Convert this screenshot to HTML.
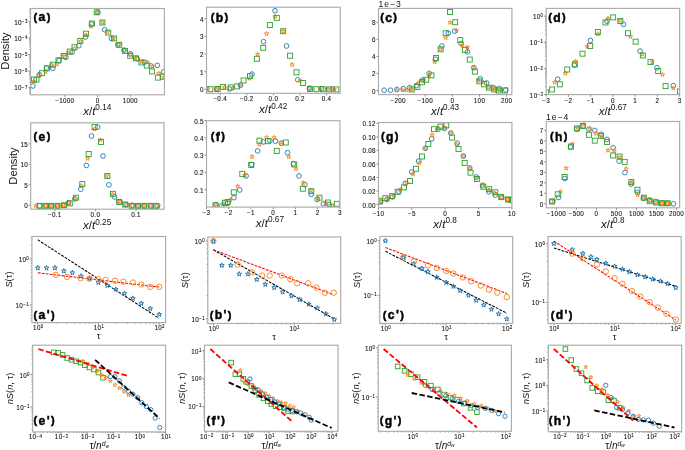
<!DOCTYPE html><html><head><meta charset="utf-8"><style>html,body{margin:0;padding:0;background:#fff;}svg{display:block;}</style></head><body><svg style="will-change:opacity;opacity:0.999" width="685" height="450" viewBox="0 0 685 450" font-family='"Liberation Sans", sans-serif'>
<line x1="28.50" y1="21.70" x2="30.50" y2="21.70" stroke="#333" stroke-width="0.60"/>
<text x="27.90" y="24.70" font-size="6.30" text-anchor="end" font-weight="normal" font-style="normal" fill="#111"  letter-spacing="0.3" stroke="#222" stroke-width="0.1">10<tspan dy="-1.9" font-size="4.41" letter-spacing="0.55">−3</tspan></text>
<line x1="28.50" y1="38.10" x2="30.50" y2="38.10" stroke="#333" stroke-width="0.60"/>
<text x="27.90" y="41.10" font-size="6.30" text-anchor="end" font-weight="normal" font-style="normal" fill="#111"  letter-spacing="0.3" stroke="#222" stroke-width="0.1">10<tspan dy="-1.9" font-size="4.41" letter-spacing="0.55">−4</tspan></text>
<line x1="28.50" y1="54.50" x2="30.50" y2="54.50" stroke="#333" stroke-width="0.60"/>
<text x="27.90" y="57.50" font-size="6.30" text-anchor="end" font-weight="normal" font-style="normal" fill="#111"  letter-spacing="0.3" stroke="#222" stroke-width="0.1">10<tspan dy="-1.9" font-size="4.41" letter-spacing="0.55">−5</tspan></text>
<line x1="28.50" y1="71.00" x2="30.50" y2="71.00" stroke="#333" stroke-width="0.60"/>
<text x="27.90" y="74.00" font-size="6.30" text-anchor="end" font-weight="normal" font-style="normal" fill="#111"  letter-spacing="0.3" stroke="#222" stroke-width="0.1">10<tspan dy="-1.9" font-size="4.41" letter-spacing="0.55">−6</tspan></text>
<line x1="28.50" y1="87.40" x2="30.50" y2="87.40" stroke="#333" stroke-width="0.60"/>
<text x="27.90" y="90.40" font-size="6.30" text-anchor="end" font-weight="normal" font-style="normal" fill="#111"  letter-spacing="0.3" stroke="#222" stroke-width="0.1">10<tspan dy="-1.9" font-size="4.41" letter-spacing="0.55">−7</tspan></text>
<line x1="29.30" y1="93.96" x2="30.50" y2="93.96" stroke="#333" stroke-width="0.50"/>
<line x1="29.30" y1="92.37" x2="30.50" y2="92.37" stroke="#333" stroke-width="0.50"/>
<line x1="29.30" y1="91.06" x2="30.50" y2="91.06" stroke="#333" stroke-width="0.50"/>
<line x1="29.30" y1="89.97" x2="30.50" y2="89.97" stroke="#333" stroke-width="0.50"/>
<line x1="29.30" y1="89.01" x2="30.50" y2="89.01" stroke="#333" stroke-width="0.50"/>
<line x1="29.30" y1="88.17" x2="30.50" y2="88.17" stroke="#333" stroke-width="0.50"/>
<line x1="29.30" y1="82.47" x2="30.50" y2="82.47" stroke="#333" stroke-width="0.50"/>
<line x1="29.30" y1="79.58" x2="30.50" y2="79.58" stroke="#333" stroke-width="0.50"/>
<line x1="29.30" y1="77.53" x2="30.50" y2="77.53" stroke="#333" stroke-width="0.50"/>
<line x1="29.30" y1="75.94" x2="30.50" y2="75.94" stroke="#333" stroke-width="0.50"/>
<line x1="29.30" y1="74.63" x2="30.50" y2="74.63" stroke="#333" stroke-width="0.50"/>
<line x1="29.30" y1="73.54" x2="30.50" y2="73.54" stroke="#333" stroke-width="0.50"/>
<line x1="29.30" y1="72.58" x2="30.50" y2="72.58" stroke="#333" stroke-width="0.50"/>
<line x1="29.30" y1="71.74" x2="30.50" y2="71.74" stroke="#333" stroke-width="0.50"/>
<line x1="29.30" y1="66.04" x2="30.50" y2="66.04" stroke="#333" stroke-width="0.50"/>
<line x1="29.30" y1="63.15" x2="30.50" y2="63.15" stroke="#333" stroke-width="0.50"/>
<line x1="29.30" y1="61.10" x2="30.50" y2="61.10" stroke="#333" stroke-width="0.50"/>
<line x1="29.30" y1="59.51" x2="30.50" y2="59.51" stroke="#333" stroke-width="0.50"/>
<line x1="29.30" y1="58.20" x2="30.50" y2="58.20" stroke="#333" stroke-width="0.50"/>
<line x1="29.30" y1="57.11" x2="30.50" y2="57.11" stroke="#333" stroke-width="0.50"/>
<line x1="29.30" y1="56.15" x2="30.50" y2="56.15" stroke="#333" stroke-width="0.50"/>
<line x1="29.30" y1="55.31" x2="30.50" y2="55.31" stroke="#333" stroke-width="0.50"/>
<line x1="29.30" y1="49.61" x2="30.50" y2="49.61" stroke="#333" stroke-width="0.50"/>
<line x1="29.30" y1="46.72" x2="30.50" y2="46.72" stroke="#333" stroke-width="0.50"/>
<line x1="29.30" y1="44.67" x2="30.50" y2="44.67" stroke="#333" stroke-width="0.50"/>
<line x1="29.30" y1="43.08" x2="30.50" y2="43.08" stroke="#333" stroke-width="0.50"/>
<line x1="29.30" y1="41.77" x2="30.50" y2="41.77" stroke="#333" stroke-width="0.50"/>
<line x1="29.30" y1="40.68" x2="30.50" y2="40.68" stroke="#333" stroke-width="0.50"/>
<line x1="29.30" y1="39.72" x2="30.50" y2="39.72" stroke="#333" stroke-width="0.50"/>
<line x1="29.30" y1="38.88" x2="30.50" y2="38.88" stroke="#333" stroke-width="0.50"/>
<line x1="29.30" y1="33.18" x2="30.50" y2="33.18" stroke="#333" stroke-width="0.50"/>
<line x1="29.30" y1="30.29" x2="30.50" y2="30.29" stroke="#333" stroke-width="0.50"/>
<line x1="29.30" y1="28.24" x2="30.50" y2="28.24" stroke="#333" stroke-width="0.50"/>
<line x1="29.30" y1="26.65" x2="30.50" y2="26.65" stroke="#333" stroke-width="0.50"/>
<line x1="29.30" y1="25.34" x2="30.50" y2="25.34" stroke="#333" stroke-width="0.50"/>
<line x1="29.30" y1="24.25" x2="30.50" y2="24.25" stroke="#333" stroke-width="0.50"/>
<line x1="29.30" y1="23.29" x2="30.50" y2="23.29" stroke="#333" stroke-width="0.50"/>
<line x1="29.30" y1="22.45" x2="30.50" y2="22.45" stroke="#333" stroke-width="0.50"/>
<line x1="29.30" y1="16.75" x2="30.50" y2="16.75" stroke="#333" stroke-width="0.50"/>
<line x1="29.30" y1="13.86" x2="30.50" y2="13.86" stroke="#333" stroke-width="0.50"/>
<line x1="29.30" y1="11.81" x2="30.50" y2="11.81" stroke="#333" stroke-width="0.50"/>
<line x1="29.30" y1="10.22" x2="30.50" y2="10.22" stroke="#333" stroke-width="0.50"/>
<line x1="29.30" y1="8.91" x2="30.50" y2="8.91" stroke="#333" stroke-width="0.50"/>
<line x1="64.80" y1="94.80" x2="64.80" y2="96.80" stroke="#333" stroke-width="0.60"/>
<text x="64.80" y="102.80" font-size="6.30" text-anchor="middle" font-weight="normal" font-style="normal" fill="#111"  letter-spacing="0.3" stroke="#222" stroke-width="0.1">−1000</text>
<line x1="97.60" y1="94.80" x2="97.60" y2="96.80" stroke="#333" stroke-width="0.60"/>
<text x="97.60" y="102.80" font-size="6.30" text-anchor="middle" font-weight="normal" font-style="normal" fill="#111"  letter-spacing="0.3" stroke="#222" stroke-width="0.1">0</text>
<line x1="130.30" y1="94.80" x2="130.30" y2="96.80" stroke="#333" stroke-width="0.60"/>
<text x="130.30" y="102.80" font-size="6.30" text-anchor="middle" font-weight="normal" font-style="normal" fill="#111"  letter-spacing="0.3" stroke="#222" stroke-width="0.1">1000</text>
<clipPath id="c1"><rect x="30.50" y="8.50" width="133.90" height="86.30"/></clipPath><g clip-path="url(#c1)">
<circle cx="32.90" cy="86.00" r="2.35" fill="none" stroke="#1f77b4" stroke-width="0.90"/>
<circle cx="39.30" cy="74.70" r="2.35" fill="none" stroke="#1f77b4" stroke-width="0.90"/>
<circle cx="46.40" cy="68.00" r="2.35" fill="none" stroke="#1f77b4" stroke-width="0.90"/>
<circle cx="52.80" cy="68.30" r="2.35" fill="none" stroke="#1f77b4" stroke-width="0.90"/>
<circle cx="59.00" cy="60.60" r="2.35" fill="none" stroke="#1f77b4" stroke-width="0.90"/>
<circle cx="65.80" cy="57.30" r="2.35" fill="none" stroke="#1f77b4" stroke-width="0.90"/>
<circle cx="72.20" cy="52.10" r="2.35" fill="none" stroke="#1f77b4" stroke-width="0.90"/>
<circle cx="78.90" cy="45.70" r="2.35" fill="none" stroke="#1f77b4" stroke-width="0.90"/>
<circle cx="85.50" cy="37.00" r="2.35" fill="none" stroke="#1f77b4" stroke-width="0.90"/>
<circle cx="91.50" cy="24.10" r="2.35" fill="none" stroke="#1f77b4" stroke-width="0.90"/>
<circle cx="97.90" cy="12.30" r="2.35" fill="none" stroke="#1f77b4" stroke-width="0.90"/>
<circle cx="104.70" cy="29.70" r="2.35" fill="none" stroke="#1f77b4" stroke-width="0.90"/>
<circle cx="111.40" cy="38.40" r="2.35" fill="none" stroke="#1f77b4" stroke-width="0.90"/>
<circle cx="117.80" cy="44.80" r="2.35" fill="none" stroke="#1f77b4" stroke-width="0.90"/>
<circle cx="124.00" cy="50.20" r="2.35" fill="none" stroke="#1f77b4" stroke-width="0.90"/>
<circle cx="130.40" cy="53.80" r="2.35" fill="none" stroke="#1f77b4" stroke-width="0.90"/>
<circle cx="137.20" cy="58.70" r="2.35" fill="none" stroke="#1f77b4" stroke-width="0.90"/>
<circle cx="144.30" cy="62.20" r="2.35" fill="none" stroke="#1f77b4" stroke-width="0.90"/>
<circle cx="151.10" cy="66.00" r="2.35" fill="none" stroke="#1f77b4" stroke-width="0.90"/>
<circle cx="157.30" cy="65.40" r="2.35" fill="none" stroke="#1f77b4" stroke-width="0.90"/>
<circle cx="163.70" cy="71.80" r="2.35" fill="none" stroke="#1f77b4" stroke-width="0.90"/>
<path d="M33.50 79.25 L34.01 80.80 L35.64 80.80 L34.32 81.77 L34.82 83.32 L33.50 82.36 L32.18 83.32 L32.68 81.77 L31.36 80.80 L32.99 80.80Z" fill="none" stroke="#ff7f0e" stroke-width="0.90" stroke-linejoin="miter"/>
<path d="M38.70 73.45 L39.21 75.00 L40.84 75.00 L39.52 75.97 L40.02 77.52 L38.70 76.56 L37.38 77.52 L37.88 75.97 L36.56 75.00 L38.19 75.00Z" fill="none" stroke="#ff7f0e" stroke-width="0.90" stroke-linejoin="miter"/>
<path d="M45.50 69.55 L46.01 71.10 L47.64 71.10 L46.32 72.07 L46.82 73.62 L45.50 72.66 L44.18 73.62 L44.68 72.07 L43.36 71.10 L44.99 71.10Z" fill="none" stroke="#ff7f0e" stroke-width="0.90" stroke-linejoin="miter"/>
<path d="M51.70 62.85 L52.21 64.40 L53.84 64.40 L52.52 65.37 L53.02 66.92 L51.70 65.96 L50.38 66.92 L50.88 65.37 L49.56 64.40 L51.19 64.40Z" fill="none" stroke="#ff7f0e" stroke-width="0.90" stroke-linejoin="miter"/>
<path d="M57.10 61.85 L57.61 63.40 L59.24 63.40 L57.92 64.37 L58.42 65.92 L57.10 64.96 L55.78 65.92 L56.28 64.37 L54.96 63.40 L56.59 63.40Z" fill="none" stroke="#ff7f0e" stroke-width="0.90" stroke-linejoin="miter"/>
<path d="M62.90 54.15 L63.41 55.70 L65.04 55.70 L63.72 56.67 L64.22 58.22 L62.90 57.26 L61.58 58.22 L62.08 56.67 L60.76 55.70 L62.39 55.70Z" fill="none" stroke="#ff7f0e" stroke-width="0.90" stroke-linejoin="miter"/>
<path d="M68.70 50.65 L69.21 52.20 L70.84 52.20 L69.52 53.17 L70.02 54.72 L68.70 53.76 L67.38 54.72 L67.88 53.17 L66.56 52.20 L68.19 52.20Z" fill="none" stroke="#ff7f0e" stroke-width="0.90" stroke-linejoin="miter"/>
<path d="M74.50 46.35 L75.01 47.90 L76.64 47.90 L75.32 48.87 L75.82 50.42 L74.50 49.46 L73.18 50.42 L73.68 48.87 L72.36 47.90 L73.99 47.90Z" fill="none" stroke="#ff7f0e" stroke-width="0.90" stroke-linejoin="miter"/>
<path d="M80.70 39.05 L81.21 40.60 L82.84 40.60 L81.52 41.57 L82.02 43.12 L80.70 42.16 L79.38 43.12 L79.88 41.57 L78.56 40.60 L80.19 40.60Z" fill="none" stroke="#ff7f0e" stroke-width="0.90" stroke-linejoin="miter"/>
<path d="M86.10 32.85 L86.61 34.40 L88.24 34.40 L86.92 35.37 L87.42 36.92 L86.10 35.96 L84.78 36.92 L85.28 35.37 L83.96 34.40 L85.59 34.40Z" fill="none" stroke="#ff7f0e" stroke-width="0.90" stroke-linejoin="miter"/>
<path d="M90.90 24.15 L91.41 25.70 L93.04 25.70 L91.72 26.67 L92.22 28.22 L90.90 27.26 L89.58 28.22 L90.08 26.67 L88.76 25.70 L90.39 25.70Z" fill="none" stroke="#ff7f0e" stroke-width="0.90" stroke-linejoin="miter"/>
<path d="M96.90 10.05 L97.41 11.60 L99.04 11.60 L97.72 12.57 L98.22 14.12 L96.90 13.16 L95.58 14.12 L96.08 12.57 L94.76 11.60 L96.39 11.60Z" fill="none" stroke="#ff7f0e" stroke-width="0.90" stroke-linejoin="miter"/>
<path d="M102.40 20.25 L102.91 21.80 L104.54 21.80 L103.22 22.77 L103.72 24.32 L102.40 23.36 L101.08 24.32 L101.58 22.77 L100.26 21.80 L101.89 21.80Z" fill="none" stroke="#ff7f0e" stroke-width="0.90" stroke-linejoin="miter"/>
<path d="M107.60 29.95 L108.11 31.50 L109.74 31.50 L108.42 32.47 L108.92 34.02 L107.60 33.06 L106.28 34.02 L106.78 32.47 L105.46 31.50 L107.09 31.50Z" fill="none" stroke="#ff7f0e" stroke-width="0.90" stroke-linejoin="miter"/>
<path d="M113.40 36.15 L113.91 37.70 L115.54 37.70 L114.22 38.67 L114.72 40.22 L113.40 39.26 L112.08 40.22 L112.58 38.67 L111.26 37.70 L112.89 37.70Z" fill="none" stroke="#ff7f0e" stroke-width="0.90" stroke-linejoin="miter"/>
<path d="M118.80 42.15 L119.31 43.70 L120.94 43.70 L119.62 44.67 L120.12 46.22 L118.80 45.26 L117.48 46.22 L117.98 44.67 L116.66 43.70 L118.29 43.70Z" fill="none" stroke="#ff7f0e" stroke-width="0.90" stroke-linejoin="miter"/>
<path d="M124.60 47.95 L125.11 49.50 L126.74 49.50 L125.42 50.47 L125.92 52.02 L124.60 51.06 L123.28 52.02 L123.78 50.47 L122.46 49.50 L124.09 49.50Z" fill="none" stroke="#ff7f0e" stroke-width="0.90" stroke-linejoin="miter"/>
<path d="M130.40 52.55 L130.91 54.10 L132.54 54.10 L131.22 55.07 L131.72 56.62 L130.40 55.66 L129.08 56.62 L129.58 55.07 L128.26 54.10 L129.89 54.10Z" fill="none" stroke="#ff7f0e" stroke-width="0.90" stroke-linejoin="miter"/>
<path d="M135.60 55.65 L136.11 57.20 L137.74 57.20 L136.42 58.17 L136.92 59.72 L135.60 58.76 L134.28 59.72 L134.78 58.17 L133.46 57.20 L135.09 57.20Z" fill="none" stroke="#ff7f0e" stroke-width="0.90" stroke-linejoin="miter"/>
<path d="M141.40 59.55 L141.91 61.10 L143.54 61.10 L142.22 62.07 L142.72 63.62 L141.40 62.66 L140.08 63.62 L140.58 62.07 L139.26 61.10 L140.89 61.10Z" fill="none" stroke="#ff7f0e" stroke-width="0.90" stroke-linejoin="miter"/>
<path d="M147.20 59.95 L147.71 61.50 L149.34 61.50 L148.02 62.47 L148.52 64.02 L147.20 63.06 L145.88 64.02 L146.38 62.47 L145.06 61.50 L146.69 61.50Z" fill="none" stroke="#ff7f0e" stroke-width="0.90" stroke-linejoin="miter"/>
<path d="M152.60 64.15 L153.11 65.70 L154.74 65.70 L153.42 66.67 L153.92 68.22 L152.60 67.26 L151.28 68.22 L151.78 66.67 L150.46 65.70 L152.09 65.70Z" fill="none" stroke="#ff7f0e" stroke-width="0.90" stroke-linejoin="miter"/>
<path d="M158.80 71.15 L159.31 72.70 L160.94 72.70 L159.62 73.67 L160.12 75.22 L158.80 74.26 L157.48 75.22 L157.98 73.67 L156.66 72.70 L158.29 72.70Z" fill="none" stroke="#ff7f0e" stroke-width="0.90" stroke-linejoin="miter"/>
<path d="M163.70 75.35 L164.21 76.90 L165.84 76.90 L164.52 77.87 L165.02 79.42 L163.70 78.46 L162.38 79.42 L162.88 77.87 L161.56 76.90 L163.19 76.90Z" fill="none" stroke="#ff7f0e" stroke-width="0.90" stroke-linejoin="miter"/>
<rect x="31.40" y="77.10" width="5.00" height="5.00" fill="none" stroke="#2ca02c" stroke-width="0.90"/>
<rect x="34.00" y="77.10" width="5.00" height="5.00" fill="none" stroke="#2ca02c" stroke-width="0.90"/>
<rect x="39.50" y="70.70" width="5.00" height="5.00" fill="none" stroke="#2ca02c" stroke-width="0.90"/>
<rect x="44.50" y="65.80" width="5.00" height="5.00" fill="none" stroke="#2ca02c" stroke-width="0.90"/>
<rect x="50.30" y="62.20" width="5.00" height="5.00" fill="none" stroke="#2ca02c" stroke-width="0.90"/>
<rect x="56.00" y="57.80" width="5.00" height="5.00" fill="none" stroke="#2ca02c" stroke-width="0.90"/>
<rect x="61.30" y="53.50" width="5.00" height="5.00" fill="none" stroke="#2ca02c" stroke-width="0.90"/>
<rect x="67.20" y="49.00" width="5.00" height="5.00" fill="none" stroke="#2ca02c" stroke-width="0.90"/>
<rect x="72.00" y="44.80" width="5.00" height="5.00" fill="none" stroke="#2ca02c" stroke-width="0.90"/>
<rect x="77.80" y="38.40" width="5.00" height="5.00" fill="none" stroke="#2ca02c" stroke-width="0.90"/>
<rect x="83.60" y="31.20" width="5.00" height="5.00" fill="none" stroke="#2ca02c" stroke-width="0.90"/>
<rect x="89.40" y="21.00" width="5.00" height="5.00" fill="none" stroke="#2ca02c" stroke-width="0.90"/>
<rect x="94.20" y="9.80" width="5.00" height="5.00" fill="none" stroke="#2ca02c" stroke-width="0.90"/>
<rect x="99.90" y="20.00" width="5.00" height="5.00" fill="none" stroke="#2ca02c" stroke-width="0.90"/>
<rect x="105.70" y="30.10" width="5.00" height="5.00" fill="none" stroke="#2ca02c" stroke-width="0.90"/>
<rect x="111.50" y="35.90" width="5.00" height="5.00" fill="none" stroke="#2ca02c" stroke-width="0.90"/>
<rect x="116.70" y="42.30" width="5.00" height="5.00" fill="none" stroke="#2ca02c" stroke-width="0.90"/>
<rect x="122.50" y="48.40" width="5.00" height="5.00" fill="none" stroke="#2ca02c" stroke-width="0.90"/>
<rect x="127.70" y="53.30" width="5.00" height="5.00" fill="none" stroke="#2ca02c" stroke-width="0.90"/>
<rect x="133.50" y="55.80" width="5.00" height="5.00" fill="none" stroke="#2ca02c" stroke-width="0.90"/>
<rect x="138.90" y="60.00" width="5.00" height="5.00" fill="none" stroke="#2ca02c" stroke-width="0.90"/>
<rect x="144.30" y="63.10" width="5.00" height="5.00" fill="none" stroke="#2ca02c" stroke-width="0.90"/>
<rect x="149.60" y="68.90" width="5.00" height="5.00" fill="none" stroke="#2ca02c" stroke-width="0.90"/>
<rect x="155.40" y="75.10" width="5.00" height="5.00" fill="none" stroke="#2ca02c" stroke-width="0.90"/>
<rect x="160.20" y="74.20" width="5.00" height="5.00" fill="none" stroke="#2ca02c" stroke-width="0.90"/>
</g>
<rect x="30.50" y="8.50" width="133.90" height="86.30" fill="none" stroke="#ababab" stroke-width="1.15"/>
<text x="33.60" y="21.30" font-size="12.2" font-weight="bold" fill="#000" stroke="#000" stroke-width="0.45" letter-spacing="1.35"><tspan font-size="11.0" dy="-0.75">(</tspan><tspan dy="0.75">a</tspan><tspan font-size="11.0" dy="-0.75">)</tspan></text>
<text x="97.25" y="114.70" font-size="11.5" text-anchor="middle" fill="#111"><tspan font-style="italic">x</tspan>/<tspan font-style="italic">t</tspan><tspan dy="-4.6" font-size="8.2">0.14</tspan></text>
<text transform="translate(9.2,51) rotate(-90)" font-size="11.2" text-anchor="middle" fill="#111">Density</text>
<line x1="204.50" y1="18.70" x2="206.50" y2="18.70" stroke="#333" stroke-width="0.60"/>
<text x="203.90" y="21.70" font-size="6.30" text-anchor="end" font-weight="normal" font-style="normal" fill="#111"  letter-spacing="0.3" stroke="#222" stroke-width="0.1">4</text>
<line x1="204.50" y1="36.30" x2="206.50" y2="36.30" stroke="#333" stroke-width="0.60"/>
<text x="203.90" y="39.30" font-size="6.30" text-anchor="end" font-weight="normal" font-style="normal" fill="#111"  letter-spacing="0.3" stroke="#222" stroke-width="0.1">3</text>
<line x1="204.50" y1="54.00" x2="206.50" y2="54.00" stroke="#333" stroke-width="0.60"/>
<text x="203.90" y="57.00" font-size="6.30" text-anchor="end" font-weight="normal" font-style="normal" fill="#111"  letter-spacing="0.3" stroke="#222" stroke-width="0.1">2</text>
<line x1="204.50" y1="71.70" x2="206.50" y2="71.70" stroke="#333" stroke-width="0.60"/>
<text x="203.90" y="74.70" font-size="6.30" text-anchor="end" font-weight="normal" font-style="normal" fill="#111"  letter-spacing="0.3" stroke="#222" stroke-width="0.1">1</text>
<line x1="204.50" y1="89.40" x2="206.50" y2="89.40" stroke="#333" stroke-width="0.60"/>
<text x="203.90" y="92.40" font-size="6.30" text-anchor="end" font-weight="normal" font-style="normal" fill="#111"  letter-spacing="0.3" stroke="#222" stroke-width="0.1">0</text>
<line x1="220.20" y1="93.30" x2="220.20" y2="95.30" stroke="#333" stroke-width="0.60"/>
<text x="220.20" y="101.30" font-size="6.30" text-anchor="middle" font-weight="normal" font-style="normal" fill="#111"  letter-spacing="0.3" stroke="#222" stroke-width="0.1">−0.4</text>
<line x1="246.80" y1="93.30" x2="246.80" y2="95.30" stroke="#333" stroke-width="0.60"/>
<text x="246.80" y="101.30" font-size="6.30" text-anchor="middle" font-weight="normal" font-style="normal" fill="#111"  letter-spacing="0.3" stroke="#222" stroke-width="0.1">−0.2</text>
<line x1="273.40" y1="93.30" x2="273.40" y2="95.30" stroke="#333" stroke-width="0.60"/>
<text x="273.40" y="101.30" font-size="6.30" text-anchor="middle" font-weight="normal" font-style="normal" fill="#111"  letter-spacing="0.3" stroke="#222" stroke-width="0.1">0.0</text>
<line x1="300.00" y1="93.30" x2="300.00" y2="95.30" stroke="#333" stroke-width="0.60"/>
<text x="300.00" y="101.30" font-size="6.30" text-anchor="middle" font-weight="normal" font-style="normal" fill="#111"  letter-spacing="0.3" stroke="#222" stroke-width="0.1">0.2</text>
<line x1="326.60" y1="93.30" x2="326.60" y2="95.30" stroke="#333" stroke-width="0.60"/>
<text x="326.60" y="101.30" font-size="6.30" text-anchor="middle" font-weight="normal" font-style="normal" fill="#111"  letter-spacing="0.3" stroke="#222" stroke-width="0.1">0.4</text>
<clipPath id="c2"><rect x="206.50" y="7.20" width="133.70" height="86.10"/></clipPath><g clip-path="url(#c2)">
<circle cx="275.00" cy="10.73" r="2.35" fill="none" stroke="#1f77b4" stroke-width="0.90"/>
<circle cx="263.49" cy="41.66" r="2.35" fill="none" stroke="#1f77b4" stroke-width="0.90"/>
<circle cx="286.50" cy="46.00" r="2.35" fill="none" stroke="#1f77b4" stroke-width="0.90"/>
<circle cx="251.99" cy="74.12" r="2.35" fill="none" stroke="#1f77b4" stroke-width="0.90"/>
<circle cx="297.74" cy="79.74" r="2.35" fill="none" stroke="#1f77b4" stroke-width="0.90"/>
<circle cx="240.49" cy="85.11" r="2.35" fill="none" stroke="#1f77b4" stroke-width="0.90"/>
<circle cx="229.50" cy="88.94" r="2.35" fill="none" stroke="#1f77b4" stroke-width="0.90"/>
<circle cx="216.73" cy="88.94" r="2.35" fill="none" stroke="#1f77b4" stroke-width="0.90"/>
<circle cx="309.50" cy="88.17" r="2.35" fill="none" stroke="#1f77b4" stroke-width="0.90"/>
<circle cx="321.51" cy="88.68" r="2.35" fill="none" stroke="#1f77b4" stroke-width="0.90"/>
<circle cx="332.50" cy="88.94" r="2.35" fill="none" stroke="#1f77b4" stroke-width="0.90"/>
<path d="M275.00 14.36 L275.50 15.92 L277.14 15.92 L275.81 16.88 L276.32 18.43 L275.00 17.47 L273.67 18.43 L274.18 16.88 L272.86 15.92 L274.49 15.92Z" fill="none" stroke="#ff7f0e" stroke-width="0.90" stroke-linejoin="miter"/>
<path d="M283.17 28.93 L283.68 30.48 L285.31 30.48 L283.99 31.45 L284.50 33.00 L283.17 32.04 L281.85 33.00 L282.36 31.45 L281.03 30.48 L282.67 30.48Z" fill="none" stroke="#ff7f0e" stroke-width="0.90" stroke-linejoin="miter"/>
<path d="M266.56 31.49 L267.07 33.04 L268.70 33.04 L267.38 34.00 L267.88 35.56 L266.56 34.60 L265.24 35.56 L265.74 34.00 L264.42 33.04 L266.06 33.04Z" fill="none" stroke="#ff7f0e" stroke-width="0.90" stroke-linejoin="miter"/>
<path d="M257.62 51.93 L258.12 53.49 L259.76 53.49 L258.43 54.45 L258.94 56.00 L257.62 55.04 L256.29 56.00 L256.80 54.45 L255.48 53.49 L257.11 53.49Z" fill="none" stroke="#ff7f0e" stroke-width="0.90" stroke-linejoin="miter"/>
<path d="M249.44 76.21 L249.94 77.77 L251.58 77.77 L250.26 78.73 L250.76 80.28 L249.44 79.32 L248.12 80.28 L248.62 78.73 L247.30 77.77 L248.93 77.77Z" fill="none" stroke="#ff7f0e" stroke-width="0.90" stroke-linejoin="miter"/>
<path d="M240.49 83.88 L241.00 85.43 L242.63 85.43 L241.31 86.39 L241.82 87.95 L240.49 86.99 L239.17 87.95 L239.68 86.39 L238.35 85.43 L239.99 85.43Z" fill="none" stroke="#ff7f0e" stroke-width="0.90" stroke-linejoin="miter"/>
<path d="M292.12 62.41 L292.62 63.96 L294.26 63.96 L292.94 64.93 L293.44 66.48 L292.12 65.52 L290.80 66.48 L291.30 64.93 L289.98 63.96 L291.61 63.96Z" fill="none" stroke="#ff7f0e" stroke-width="0.90" stroke-linejoin="miter"/>
<path d="M299.79 78.26 L300.29 79.81 L301.93 79.81 L300.60 80.77 L301.11 82.33 L299.79 81.36 L298.46 82.33 L298.97 80.77 L297.65 79.81 L299.28 79.81Z" fill="none" stroke="#ff7f0e" stroke-width="0.90" stroke-linejoin="miter"/>
<path d="M310.01 85.92 L310.51 87.48 L312.15 87.48 L310.83 88.44 L311.33 89.99 L310.01 89.03 L308.69 89.99 L309.19 88.44 L307.87 87.48 L309.50 87.48Z" fill="none" stroke="#ff7f0e" stroke-width="0.90" stroke-linejoin="miter"/>
<path d="M320.23 86.69 L320.74 88.24 L322.37 88.24 L321.05 89.20 L321.55 90.76 L320.23 89.80 L318.91 90.76 L319.41 89.20 L318.09 88.24 L319.73 88.24Z" fill="none" stroke="#ff7f0e" stroke-width="0.90" stroke-linejoin="miter"/>
<path d="M334.29 87.20 L334.79 88.75 L336.43 88.75 L335.11 89.72 L335.61 91.27 L334.29 90.31 L332.97 91.27 L333.47 89.72 L332.15 88.75 L333.78 88.75Z" fill="none" stroke="#ff7f0e" stroke-width="0.90" stroke-linejoin="miter"/>
<path d="M207.78 86.43 L208.29 87.99 L209.92 87.99 L208.60 88.95 L209.10 90.50 L207.78 89.54 L206.46 90.50 L206.96 88.95 L205.64 87.99 L207.27 87.99Z" fill="none" stroke="#ff7f0e" stroke-width="0.90" stroke-linejoin="miter"/>
<path d="M224.39 85.16 L224.90 86.71 L226.53 86.71 L225.21 87.67 L225.71 89.23 L224.39 88.27 L223.07 89.23 L223.57 87.67 L222.25 86.71 L223.89 86.71Z" fill="none" stroke="#ff7f0e" stroke-width="0.90" stroke-linejoin="miter"/>
<path d="M232.57 85.92 L233.08 87.48 L234.71 87.48 L233.39 88.44 L233.89 89.99 L232.57 89.03 L231.25 89.99 L231.75 88.44 L230.43 87.48 L232.07 87.48Z" fill="none" stroke="#ff7f0e" stroke-width="0.90" stroke-linejoin="miter"/>
<path d="M216.73 87.20 L217.23 88.75 L218.86 88.75 L217.54 89.72 L218.05 91.27 L216.73 90.31 L215.40 91.27 L215.91 89.72 L214.59 88.75 L216.22 88.75Z" fill="none" stroke="#ff7f0e" stroke-width="0.90" stroke-linejoin="miter"/>
<path d="M327.90 87.20 L328.40 88.75 L330.04 88.75 L328.72 89.72 L329.22 91.27 L327.90 90.31 L326.58 91.27 L327.08 89.72 L325.76 88.75 L327.39 88.75Z" fill="none" stroke="#ff7f0e" stroke-width="0.90" stroke-linejoin="miter"/>
<rect x="274.28" y="15.39" width="5.00" height="5.00" fill="none" stroke="#2ca02c" stroke-width="0.90"/>
<rect x="267.38" y="22.55" width="5.00" height="5.00" fill="none" stroke="#2ca02c" stroke-width="0.90"/>
<rect x="280.67" y="28.68" width="5.00" height="5.00" fill="none" stroke="#2ca02c" stroke-width="0.90"/>
<rect x="260.74" y="45.29" width="5.00" height="5.00" fill="none" stroke="#2ca02c" stroke-width="0.90"/>
<rect x="254.35" y="56.28" width="5.00" height="5.00" fill="none" stroke="#2ca02c" stroke-width="0.90"/>
<rect x="287.57" y="53.21" width="5.00" height="5.00" fill="none" stroke="#2ca02c" stroke-width="0.90"/>
<rect x="293.96" y="69.83" width="5.00" height="5.00" fill="none" stroke="#2ca02c" stroke-width="0.90"/>
<rect x="247.45" y="73.66" width="5.00" height="5.00" fill="none" stroke="#2ca02c" stroke-width="0.90"/>
<rect x="241.06" y="78.01" width="5.00" height="5.00" fill="none" stroke="#2ca02c" stroke-width="0.90"/>
<rect x="300.61" y="80.56" width="5.00" height="5.00" fill="none" stroke="#2ca02c" stroke-width="0.90"/>
<rect x="234.67" y="83.88" width="5.00" height="5.00" fill="none" stroke="#2ca02c" stroke-width="0.90"/>
<rect x="228.28" y="84.91" width="5.00" height="5.00" fill="none" stroke="#2ca02c" stroke-width="0.90"/>
<rect x="220.61" y="84.39" width="5.00" height="5.00" fill="none" stroke="#2ca02c" stroke-width="0.90"/>
<rect x="214.99" y="86.44" width="5.00" height="5.00" fill="none" stroke="#2ca02c" stroke-width="0.90"/>
<rect x="207.84" y="86.69" width="5.00" height="5.00" fill="none" stroke="#2ca02c" stroke-width="0.90"/>
<rect x="307.51" y="86.44" width="5.00" height="5.00" fill="none" stroke="#2ca02c" stroke-width="0.90"/>
<rect x="313.90" y="86.69" width="5.00" height="5.00" fill="none" stroke="#2ca02c" stroke-width="0.90"/>
<rect x="320.29" y="86.69" width="5.00" height="5.00" fill="none" stroke="#2ca02c" stroke-width="0.90"/>
<rect x="326.68" y="86.95" width="5.00" height="5.00" fill="none" stroke="#2ca02c" stroke-width="0.90"/>
<rect x="333.83" y="86.95" width="5.00" height="5.00" fill="none" stroke="#2ca02c" stroke-width="0.90"/>
</g>
<rect x="206.50" y="7.20" width="133.70" height="86.10" fill="none" stroke="#ababab" stroke-width="1.15"/>
<text x="210.80" y="21.90" font-size="12.2" font-weight="bold" fill="#000" stroke="#000" stroke-width="0.45" letter-spacing="1.35"><tspan font-size="11.0" dy="-0.75">(</tspan><tspan dy="0.75">b</tspan><tspan font-size="11.0" dy="-0.75">)</tspan></text>
<text x="273.15" y="113.20" font-size="11.5" text-anchor="middle" fill="#111"><tspan font-style="italic">x</tspan>/<tspan font-style="italic">t</tspan><tspan dy="-4.6" font-size="8.2">0.42</tspan></text>
<line x1="376.50" y1="22.20" x2="378.50" y2="22.20" stroke="#333" stroke-width="0.60"/>
<text x="375.90" y="25.20" font-size="6.30" text-anchor="end" font-weight="normal" font-style="normal" fill="#111"  letter-spacing="0.3" stroke="#222" stroke-width="0.1">8</text>
<line x1="376.50" y1="39.30" x2="378.50" y2="39.30" stroke="#333" stroke-width="0.60"/>
<text x="375.90" y="42.30" font-size="6.30" text-anchor="end" font-weight="normal" font-style="normal" fill="#111"  letter-spacing="0.3" stroke="#222" stroke-width="0.1">6</text>
<line x1="376.50" y1="56.40" x2="378.50" y2="56.40" stroke="#333" stroke-width="0.60"/>
<text x="375.90" y="59.40" font-size="6.30" text-anchor="end" font-weight="normal" font-style="normal" fill="#111"  letter-spacing="0.3" stroke="#222" stroke-width="0.1">4</text>
<line x1="376.50" y1="73.40" x2="378.50" y2="73.40" stroke="#333" stroke-width="0.60"/>
<text x="375.90" y="76.40" font-size="6.30" text-anchor="end" font-weight="normal" font-style="normal" fill="#111"  letter-spacing="0.3" stroke="#222" stroke-width="0.1">2</text>
<line x1="376.50" y1="90.50" x2="378.50" y2="90.50" stroke="#333" stroke-width="0.60"/>
<text x="375.90" y="93.50" font-size="6.30" text-anchor="end" font-weight="normal" font-style="normal" fill="#111"  letter-spacing="0.3" stroke="#222" stroke-width="0.1">0</text>
<line x1="398.20" y1="94.60" x2="398.20" y2="96.60" stroke="#333" stroke-width="0.60"/>
<text x="398.20" y="102.60" font-size="6.30" text-anchor="middle" font-weight="normal" font-style="normal" fill="#111"  letter-spacing="0.3" stroke="#222" stroke-width="0.1">−200</text>
<line x1="425.30" y1="94.60" x2="425.30" y2="96.60" stroke="#333" stroke-width="0.60"/>
<text x="425.30" y="102.60" font-size="6.30" text-anchor="middle" font-weight="normal" font-style="normal" fill="#111"  letter-spacing="0.3" stroke="#222" stroke-width="0.1">−100</text>
<line x1="452.40" y1="94.60" x2="452.40" y2="96.60" stroke="#333" stroke-width="0.60"/>
<text x="452.40" y="102.60" font-size="6.30" text-anchor="middle" font-weight="normal" font-style="normal" fill="#111"  letter-spacing="0.3" stroke="#222" stroke-width="0.1">0</text>
<line x1="479.50" y1="94.60" x2="479.50" y2="96.60" stroke="#333" stroke-width="0.60"/>
<text x="479.50" y="102.60" font-size="6.30" text-anchor="middle" font-weight="normal" font-style="normal" fill="#111"  letter-spacing="0.3" stroke="#222" stroke-width="0.1">100</text>
<line x1="506.60" y1="94.60" x2="506.60" y2="96.60" stroke="#333" stroke-width="0.60"/>
<text x="506.60" y="102.60" font-size="6.30" text-anchor="middle" font-weight="normal" font-style="normal" fill="#111"  letter-spacing="0.3" stroke="#222" stroke-width="0.1">200</text>
<text x="378.40" y="6.80" font-size="8.60" text-anchor="start" font-weight="normal" font-style="normal" fill="#111" letter-spacing="1.0">1e−3</text>
<clipPath id="c3"><rect x="378.50" y="8.40" width="133.40" height="86.20"/></clipPath><g clip-path="url(#c3)">
<circle cx="384.12" cy="90.22" r="2.35" fill="none" stroke="#1f77b4" stroke-width="0.90"/>
<circle cx="390.51" cy="90.22" r="2.35" fill="none" stroke="#1f77b4" stroke-width="0.90"/>
<circle cx="396.90" cy="89.45" r="2.35" fill="none" stroke="#1f77b4" stroke-width="0.90"/>
<circle cx="403.29" cy="88.68" r="2.35" fill="none" stroke="#1f77b4" stroke-width="0.90"/>
<circle cx="409.68" cy="87.66" r="2.35" fill="none" stroke="#1f77b4" stroke-width="0.90"/>
<circle cx="416.33" cy="85.62" r="2.35" fill="none" stroke="#1f77b4" stroke-width="0.90"/>
<circle cx="422.72" cy="79.99" r="2.35" fill="none" stroke="#1f77b4" stroke-width="0.90"/>
<circle cx="429.11" cy="73.35" r="2.35" fill="none" stroke="#1f77b4" stroke-width="0.90"/>
<circle cx="435.49" cy="59.29" r="2.35" fill="none" stroke="#1f77b4" stroke-width="0.90"/>
<circle cx="441.88" cy="46.00" r="2.35" fill="none" stroke="#1f77b4" stroke-width="0.90"/>
<circle cx="448.27" cy="33.22" r="2.35" fill="none" stroke="#1f77b4" stroke-width="0.90"/>
<circle cx="454.66" cy="31.18" r="2.35" fill="none" stroke="#1f77b4" stroke-width="0.90"/>
<circle cx="461.05" cy="43.45" r="2.35" fill="none" stroke="#1f77b4" stroke-width="0.90"/>
<circle cx="467.44" cy="51.88" r="2.35" fill="none" stroke="#1f77b4" stroke-width="0.90"/>
<circle cx="473.83" cy="67.73" r="2.35" fill="none" stroke="#1f77b4" stroke-width="0.90"/>
<circle cx="480.22" cy="78.72" r="2.35" fill="none" stroke="#1f77b4" stroke-width="0.90"/>
<circle cx="486.61" cy="83.06" r="2.35" fill="none" stroke="#1f77b4" stroke-width="0.90"/>
<circle cx="493.00" cy="87.41" r="2.35" fill="none" stroke="#1f77b4" stroke-width="0.90"/>
<circle cx="499.39" cy="88.68" r="2.35" fill="none" stroke="#1f77b4" stroke-width="0.90"/>
<circle cx="505.78" cy="89.96" r="2.35" fill="none" stroke="#1f77b4" stroke-width="0.90"/>
<path d="M396.39 87.97 L396.90 89.52 L398.53 89.52 L397.21 90.48 L397.71 92.04 L396.39 91.08 L395.07 92.04 L395.57 90.48 L394.25 89.52 L395.89 89.52Z" fill="none" stroke="#ff7f0e" stroke-width="0.90" stroke-linejoin="miter"/>
<path d="M402.27 87.71 L402.78 89.27 L404.41 89.27 L403.09 90.23 L403.59 91.78 L402.27 90.82 L400.95 91.78 L401.45 90.23 L400.13 89.27 L401.77 89.27Z" fill="none" stroke="#ff7f0e" stroke-width="0.90" stroke-linejoin="miter"/>
<path d="M406.62 87.97 L407.12 89.52 L408.76 89.52 L407.43 90.48 L407.94 92.04 L406.62 91.08 L405.29 92.04 L405.80 90.48 L404.48 89.52 L406.11 89.52Z" fill="none" stroke="#ff7f0e" stroke-width="0.90" stroke-linejoin="miter"/>
<path d="M411.73 87.20 L412.23 88.75 L413.87 88.75 L412.54 89.72 L413.05 91.27 L411.73 90.31 L410.40 91.27 L410.91 89.72 L409.59 88.75 L411.22 88.75Z" fill="none" stroke="#ff7f0e" stroke-width="0.90" stroke-linejoin="miter"/>
<path d="M418.12 80.81 L418.62 82.37 L420.26 82.37 L418.93 83.33 L419.44 84.88 L418.12 83.92 L416.79 84.88 L417.30 83.33 L415.98 82.37 L417.61 82.37Z" fill="none" stroke="#ff7f0e" stroke-width="0.90" stroke-linejoin="miter"/>
<path d="M423.23 78.26 L423.73 79.81 L425.37 79.81 L424.04 80.77 L424.55 82.33 L423.23 81.36 L421.90 82.33 L422.41 80.77 L421.09 79.81 L422.72 79.81Z" fill="none" stroke="#ff7f0e" stroke-width="0.90" stroke-linejoin="miter"/>
<path d="M429.11 73.14 L429.61 74.70 L431.25 74.70 L429.92 75.66 L430.43 77.21 L429.11 76.25 L427.78 77.21 L428.29 75.66 L426.97 74.70 L428.60 74.70Z" fill="none" stroke="#ff7f0e" stroke-width="0.90" stroke-linejoin="miter"/>
<path d="M434.73 59.60 L435.23 61.15 L436.87 61.15 L435.55 62.11 L436.05 63.67 L434.73 62.71 L433.41 63.67 L433.91 62.11 L432.59 61.15 L434.22 61.15Z" fill="none" stroke="#ff7f0e" stroke-width="0.90" stroke-linejoin="miter"/>
<path d="M440.61 46.82 L441.11 48.37 L442.75 48.37 L441.42 49.34 L441.93 50.89 L440.61 49.93 L439.28 50.89 L439.79 49.34 L438.47 48.37 L440.10 48.37Z" fill="none" stroke="#ff7f0e" stroke-width="0.90" stroke-linejoin="miter"/>
<path d="M445.72 35.57 L446.22 37.13 L447.86 37.13 L446.54 38.09 L447.04 39.64 L445.72 38.68 L444.40 39.64 L444.90 38.09 L443.58 37.13 L445.21 37.13Z" fill="none" stroke="#ff7f0e" stroke-width="0.90" stroke-linejoin="miter"/>
<path d="M450.06 20.24 L450.57 21.79 L452.20 21.80 L450.88 22.76 L451.38 24.31 L450.06 23.35 L448.74 24.31 L449.24 22.76 L447.92 21.80 L449.56 21.79Z" fill="none" stroke="#ff7f0e" stroke-width="0.90" stroke-linejoin="miter"/>
<path d="M456.45 28.42 L456.96 29.97 L458.59 29.97 L457.27 30.93 L457.77 32.49 L456.45 31.53 L455.13 32.49 L455.63 30.93 L454.31 29.97 L455.95 29.97Z" fill="none" stroke="#ff7f0e" stroke-width="0.90" stroke-linejoin="miter"/>
<path d="M462.07 43.24 L462.58 44.80 L464.21 44.80 L462.89 45.76 L463.40 47.31 L462.07 46.35 L460.75 47.31 L461.26 45.76 L459.93 44.80 L461.57 44.80Z" fill="none" stroke="#ff7f0e" stroke-width="0.90" stroke-linejoin="miter"/>
<path d="M467.44 45.03 L467.95 46.59 L469.58 46.59 L468.26 47.55 L468.76 49.10 L467.44 48.14 L466.12 49.10 L466.62 47.55 L465.30 46.59 L466.94 46.59Z" fill="none" stroke="#ff7f0e" stroke-width="0.90" stroke-linejoin="miter"/>
<path d="M473.06 65.48 L473.57 67.03 L475.20 67.03 L473.88 67.99 L474.39 69.55 L473.06 68.59 L471.74 69.55 L472.25 67.99 L470.92 67.03 L472.56 67.03Z" fill="none" stroke="#ff7f0e" stroke-width="0.90" stroke-linejoin="miter"/>
<path d="M478.18 78.26 L478.68 79.81 L480.32 79.81 L478.99 80.77 L479.50 82.33 L478.18 81.36 L476.85 82.33 L477.36 80.77 L476.04 79.81 L477.67 79.81Z" fill="none" stroke="#ff7f0e" stroke-width="0.90" stroke-linejoin="miter"/>
<path d="M483.29 80.04 L483.79 81.60 L485.43 81.60 L484.10 82.56 L484.61 84.11 L483.29 83.15 L481.96 84.11 L482.47 82.56 L481.15 81.60 L482.78 81.60Z" fill="none" stroke="#ff7f0e" stroke-width="0.90" stroke-linejoin="miter"/>
<path d="M488.40 85.16 L488.90 86.71 L490.54 86.71 L489.22 87.67 L489.72 89.23 L488.40 88.27 L487.08 89.23 L487.58 87.67 L486.26 86.71 L487.89 86.71Z" fill="none" stroke="#ff7f0e" stroke-width="0.90" stroke-linejoin="miter"/>
<path d="M494.28 87.20 L494.78 88.75 L496.42 88.75 L495.09 89.72 L495.60 91.27 L494.28 90.31 L492.95 91.27 L493.46 89.72 L492.14 88.75 L493.77 88.75Z" fill="none" stroke="#ff7f0e" stroke-width="0.90" stroke-linejoin="miter"/>
<path d="M499.90 87.71 L500.40 89.27 L502.04 89.27 L500.72 90.23 L501.22 91.78 L499.90 90.82 L498.58 91.78 L499.08 90.23 L497.76 89.27 L499.39 89.27Z" fill="none" stroke="#ff7f0e" stroke-width="0.90" stroke-linejoin="miter"/>
<rect x="409.23" y="86.95" width="5.00" height="5.00" fill="none" stroke="#2ca02c" stroke-width="0.90"/>
<rect x="414.85" y="84.39" width="5.00" height="5.00" fill="none" stroke="#2ca02c" stroke-width="0.90"/>
<rect x="419.45" y="79.79" width="5.00" height="5.00" fill="none" stroke="#2ca02c" stroke-width="0.90"/>
<rect x="423.79" y="77.24" width="5.00" height="5.00" fill="none" stroke="#2ca02c" stroke-width="0.90"/>
<rect x="428.91" y="72.89" width="5.00" height="5.00" fill="none" stroke="#2ca02c" stroke-width="0.90"/>
<rect x="433.51" y="55.51" width="5.00" height="5.00" fill="none" stroke="#2ca02c" stroke-width="0.90"/>
<rect x="438.11" y="46.83" width="5.00" height="5.00" fill="none" stroke="#2ca02c" stroke-width="0.90"/>
<rect x="443.22" y="30.72" width="5.00" height="5.00" fill="none" stroke="#2ca02c" stroke-width="0.90"/>
<rect x="447.56" y="9.51" width="5.00" height="5.00" fill="none" stroke="#2ca02c" stroke-width="0.90"/>
<rect x="452.67" y="19.73" width="5.00" height="5.00" fill="none" stroke="#2ca02c" stroke-width="0.90"/>
<rect x="457.79" y="37.62" width="5.00" height="5.00" fill="none" stroke="#2ca02c" stroke-width="0.90"/>
<rect x="462.39" y="47.34" width="5.00" height="5.00" fill="none" stroke="#2ca02c" stroke-width="0.90"/>
<rect x="467.24" y="57.05" width="5.00" height="5.00" fill="none" stroke="#2ca02c" stroke-width="0.90"/>
<rect x="472.35" y="69.06" width="5.00" height="5.00" fill="none" stroke="#2ca02c" stroke-width="0.90"/>
<rect x="476.95" y="78.77" width="5.00" height="5.00" fill="none" stroke="#2ca02c" stroke-width="0.90"/>
<rect x="481.55" y="81.84" width="5.00" height="5.00" fill="none" stroke="#2ca02c" stroke-width="0.90"/>
<rect x="486.41" y="85.16" width="5.00" height="5.00" fill="none" stroke="#2ca02c" stroke-width="0.90"/>
<rect x="491.78" y="86.95" width="5.00" height="5.00" fill="none" stroke="#2ca02c" stroke-width="0.90"/>
<rect x="496.12" y="87.97" width="5.00" height="5.00" fill="none" stroke="#2ca02c" stroke-width="0.90"/>
<rect x="502.51" y="87.97" width="5.00" height="5.00" fill="none" stroke="#2ca02c" stroke-width="0.90"/>
</g>
<rect x="378.50" y="8.40" width="133.40" height="86.20" fill="none" stroke="#ababab" stroke-width="1.15"/>
<text x="380.20" y="21.60" font-size="12.2" font-weight="bold" fill="#000" stroke="#000" stroke-width="0.45" letter-spacing="1.35"><tspan font-size="11.0" dy="-0.75">(</tspan><tspan dy="0.75">c</tspan><tspan font-size="11.0" dy="-0.75">)</tspan></text>
<text x="445.00" y="114.50" font-size="11.5" text-anchor="middle" fill="#111"><tspan font-style="italic">x</tspan>/<tspan font-style="italic">t</tspan><tspan dy="-4.6" font-size="8.2">0.43</tspan></text>
<line x1="544.20" y1="16.10" x2="546.20" y2="16.10" stroke="#333" stroke-width="0.60"/>
<text x="543.60" y="19.10" font-size="6.30" text-anchor="end" font-weight="normal" font-style="normal" fill="#111"  letter-spacing="0.3" stroke="#222" stroke-width="0.1">10<tspan dy="-1.9" font-size="4.41" letter-spacing="0.55">0</tspan></text>
<line x1="544.20" y1="42.20" x2="546.20" y2="42.20" stroke="#333" stroke-width="0.60"/>
<text x="543.60" y="45.20" font-size="6.30" text-anchor="end" font-weight="normal" font-style="normal" fill="#111"  letter-spacing="0.3" stroke="#222" stroke-width="0.1">10<tspan dy="-1.9" font-size="4.41" letter-spacing="0.55">−1</tspan></text>
<line x1="544.20" y1="68.40" x2="546.20" y2="68.40" stroke="#333" stroke-width="0.60"/>
<text x="543.60" y="71.40" font-size="6.30" text-anchor="end" font-weight="normal" font-style="normal" fill="#111"  letter-spacing="0.3" stroke="#222" stroke-width="0.1">10<tspan dy="-1.9" font-size="4.41" letter-spacing="0.55">−2</tspan></text>
<line x1="544.20" y1="94.60" x2="546.20" y2="94.60" stroke="#333" stroke-width="0.60"/>
<text x="543.60" y="97.60" font-size="6.30" text-anchor="end" font-weight="normal" font-style="normal" fill="#111"  letter-spacing="0.3" stroke="#222" stroke-width="0.1">10<tspan dy="-1.9" font-size="4.41" letter-spacing="0.55">−3</tspan></text>
<line x1="545.00" y1="86.73" x2="546.20" y2="86.73" stroke="#333" stroke-width="0.50"/>
<line x1="545.00" y1="82.12" x2="546.20" y2="82.12" stroke="#333" stroke-width="0.50"/>
<line x1="545.00" y1="78.85" x2="546.20" y2="78.85" stroke="#333" stroke-width="0.50"/>
<line x1="545.00" y1="76.32" x2="546.20" y2="76.32" stroke="#333" stroke-width="0.50"/>
<line x1="545.00" y1="74.25" x2="546.20" y2="74.25" stroke="#333" stroke-width="0.50"/>
<line x1="545.00" y1="72.49" x2="546.20" y2="72.49" stroke="#333" stroke-width="0.50"/>
<line x1="545.00" y1="70.98" x2="546.20" y2="70.98" stroke="#333" stroke-width="0.50"/>
<line x1="545.00" y1="69.64" x2="546.20" y2="69.64" stroke="#333" stroke-width="0.50"/>
<line x1="545.00" y1="60.56" x2="546.20" y2="60.56" stroke="#333" stroke-width="0.50"/>
<line x1="545.00" y1="55.95" x2="546.20" y2="55.95" stroke="#333" stroke-width="0.50"/>
<line x1="545.00" y1="52.68" x2="546.20" y2="52.68" stroke="#333" stroke-width="0.50"/>
<line x1="545.00" y1="50.15" x2="546.20" y2="50.15" stroke="#333" stroke-width="0.50"/>
<line x1="545.00" y1="48.08" x2="546.20" y2="48.08" stroke="#333" stroke-width="0.50"/>
<line x1="545.00" y1="46.32" x2="546.20" y2="46.32" stroke="#333" stroke-width="0.50"/>
<line x1="545.00" y1="44.81" x2="546.20" y2="44.81" stroke="#333" stroke-width="0.50"/>
<line x1="545.00" y1="43.47" x2="546.20" y2="43.47" stroke="#333" stroke-width="0.50"/>
<line x1="545.00" y1="34.39" x2="546.20" y2="34.39" stroke="#333" stroke-width="0.50"/>
<line x1="545.00" y1="29.78" x2="546.20" y2="29.78" stroke="#333" stroke-width="0.50"/>
<line x1="545.00" y1="26.51" x2="546.20" y2="26.51" stroke="#333" stroke-width="0.50"/>
<line x1="545.00" y1="23.98" x2="546.20" y2="23.98" stroke="#333" stroke-width="0.50"/>
<line x1="545.00" y1="21.91" x2="546.20" y2="21.91" stroke="#333" stroke-width="0.50"/>
<line x1="545.00" y1="20.15" x2="546.20" y2="20.15" stroke="#333" stroke-width="0.50"/>
<line x1="545.00" y1="18.64" x2="546.20" y2="18.64" stroke="#333" stroke-width="0.50"/>
<line x1="545.00" y1="17.30" x2="546.20" y2="17.30" stroke="#333" stroke-width="0.50"/>
<line x1="546.20" y1="94.60" x2="546.20" y2="96.60" stroke="#333" stroke-width="0.60"/>
<text x="546.20" y="102.60" font-size="6.30" text-anchor="middle" font-weight="normal" font-style="normal" fill="#111"  letter-spacing="0.3" stroke="#222" stroke-width="0.1">−3</text>
<line x1="568.40" y1="94.60" x2="568.40" y2="96.60" stroke="#333" stroke-width="0.60"/>
<text x="568.40" y="102.60" font-size="6.30" text-anchor="middle" font-weight="normal" font-style="normal" fill="#111"  letter-spacing="0.3" stroke="#222" stroke-width="0.1">−2</text>
<line x1="590.60" y1="94.60" x2="590.60" y2="96.60" stroke="#333" stroke-width="0.60"/>
<text x="590.60" y="102.60" font-size="6.30" text-anchor="middle" font-weight="normal" font-style="normal" fill="#111"  letter-spacing="0.3" stroke="#222" stroke-width="0.1">−1</text>
<line x1="612.90" y1="94.60" x2="612.90" y2="96.60" stroke="#333" stroke-width="0.60"/>
<text x="612.90" y="102.60" font-size="6.30" text-anchor="middle" font-weight="normal" font-style="normal" fill="#111"  letter-spacing="0.3" stroke="#222" stroke-width="0.1">0</text>
<line x1="635.10" y1="94.60" x2="635.10" y2="96.60" stroke="#333" stroke-width="0.60"/>
<text x="635.10" y="102.60" font-size="6.30" text-anchor="middle" font-weight="normal" font-style="normal" fill="#111"  letter-spacing="0.3" stroke="#222" stroke-width="0.1">1</text>
<line x1="657.40" y1="94.60" x2="657.40" y2="96.60" stroke="#333" stroke-width="0.60"/>
<text x="657.40" y="102.60" font-size="6.30" text-anchor="middle" font-weight="normal" font-style="normal" fill="#111"  letter-spacing="0.3" stroke="#222" stroke-width="0.1">2</text>
<line x1="679.60" y1="94.60" x2="679.60" y2="96.60" stroke="#333" stroke-width="0.60"/>
<text x="679.60" y="102.60" font-size="6.30" text-anchor="middle" font-weight="normal" font-style="normal" fill="#111"  letter-spacing="0.3" stroke="#222" stroke-width="0.1">3</text>
<clipPath id="c4"><rect x="546.20" y="8.40" width="133.40" height="86.20"/></clipPath><g clip-path="url(#c4)">
<circle cx="557.73" cy="79.23" r="2.35" fill="none" stroke="#1f77b4" stroke-width="0.90"/>
<circle cx="574.34" cy="65.17" r="2.35" fill="none" stroke="#1f77b4" stroke-width="0.90"/>
<circle cx="590.44" cy="40.38" r="2.35" fill="none" stroke="#1f77b4" stroke-width="0.90"/>
<circle cx="607.05" cy="21.21" r="2.35" fill="none" stroke="#1f77b4" stroke-width="0.90"/>
<circle cx="623.41" cy="24.28" r="2.35" fill="none" stroke="#1f77b4" stroke-width="0.90"/>
<circle cx="640.02" cy="51.11" r="2.35" fill="none" stroke="#1f77b4" stroke-width="0.90"/>
<circle cx="656.89" cy="67.73" r="2.35" fill="none" stroke="#1f77b4" stroke-width="0.90"/>
<circle cx="673.24" cy="85.62" r="2.35" fill="none" stroke="#1f77b4" stroke-width="0.90"/>
<path d="M554.66 80.04 L555.16 81.60 L556.80 81.60 L555.48 82.56 L555.98 84.11 L554.66 83.15 L553.34 84.11 L553.84 82.56 L552.52 81.60 L554.15 81.60Z" fill="none" stroke="#ff7f0e" stroke-width="0.90" stroke-linejoin="miter"/>
<path d="M565.39 71.10 L565.90 72.65 L567.53 72.65 L566.21 73.61 L566.71 75.17 L565.39 74.21 L564.07 75.17 L564.57 73.61 L563.25 72.65 L564.89 72.65Z" fill="none" stroke="#ff7f0e" stroke-width="0.90" stroke-linejoin="miter"/>
<path d="M575.62 59.09 L576.12 60.64 L577.76 60.64 L576.43 61.60 L576.94 63.16 L575.62 62.20 L574.29 63.16 L574.80 61.60 L573.48 60.64 L575.11 60.64Z" fill="none" stroke="#ff7f0e" stroke-width="0.90" stroke-linejoin="miter"/>
<path d="M587.12 44.26 L587.62 45.82 L589.26 45.82 L587.93 46.78 L588.44 48.33 L587.12 47.37 L585.79 48.33 L586.30 46.78 L584.98 45.82 L586.61 45.82Z" fill="none" stroke="#ff7f0e" stroke-width="0.90" stroke-linejoin="miter"/>
<path d="M597.85 31.74 L598.36 33.30 L599.99 33.30 L598.67 34.26 L599.17 35.81 L597.85 34.85 L596.53 35.81 L597.03 34.26 L595.71 33.30 L597.34 33.30Z" fill="none" stroke="#ff7f0e" stroke-width="0.90" stroke-linejoin="miter"/>
<path d="M608.07 16.15 L608.58 17.71 L610.21 17.71 L608.89 18.67 L609.40 20.22 L608.07 19.26 L606.75 20.22 L607.26 18.67 L605.93 17.71 L607.57 17.71Z" fill="none" stroke="#ff7f0e" stroke-width="0.90" stroke-linejoin="miter"/>
<path d="M619.83 18.20 L620.33 19.75 L621.97 19.75 L620.65 20.71 L621.15 22.27 L619.83 21.31 L618.51 22.27 L619.01 20.71 L617.69 19.75 L619.32 19.75Z" fill="none" stroke="#ff7f0e" stroke-width="0.90" stroke-linejoin="miter"/>
<path d="M630.56 34.30 L631.07 35.85 L632.70 35.85 L631.38 36.81 L631.89 38.37 L630.56 37.41 L629.24 38.37 L629.75 36.81 L628.42 35.85 L630.06 35.85Z" fill="none" stroke="#ff7f0e" stroke-width="0.90" stroke-linejoin="miter"/>
<path d="M642.06 52.19 L642.57 53.74 L644.20 53.74 L642.88 54.70 L643.39 56.26 L642.06 55.30 L640.74 56.26 L641.25 54.70 L639.92 53.74 L641.56 53.74Z" fill="none" stroke="#ff7f0e" stroke-width="0.90" stroke-linejoin="miter"/>
<path d="M652.29 59.85 L652.79 61.41 L654.43 61.41 L653.10 62.37 L653.61 63.92 L652.29 62.96 L650.96 63.92 L651.47 62.37 L650.15 61.41 L651.78 61.41Z" fill="none" stroke="#ff7f0e" stroke-width="0.90" stroke-linejoin="miter"/>
<path d="M662.51 72.38 L663.01 73.93 L664.65 73.93 L663.33 74.89 L663.83 76.45 L662.51 75.49 L661.19 76.45 L661.69 74.89 L660.37 73.93 L662.00 73.93Z" fill="none" stroke="#ff7f0e" stroke-width="0.90" stroke-linejoin="miter"/>
<path d="M673.24 85.92 L673.75 87.48 L675.38 87.48 L674.06 88.44 L674.57 89.99 L673.24 89.03 L671.92 89.99 L672.43 88.44 L671.10 87.48 L672.74 87.48Z" fill="none" stroke="#ff7f0e" stroke-width="0.90" stroke-linejoin="miter"/>
<rect x="543.72" y="90.02" width="5.00" height="5.00" fill="none" stroke="#2ca02c" stroke-width="0.90"/>
<rect x="549.60" y="86.95" width="5.00" height="5.00" fill="none" stroke="#2ca02c" stroke-width="0.90"/>
<rect x="557.27" y="81.84" width="5.00" height="5.00" fill="none" stroke="#2ca02c" stroke-width="0.90"/>
<rect x="564.68" y="67.02" width="5.00" height="5.00" fill="none" stroke="#2ca02c" stroke-width="0.90"/>
<rect x="572.35" y="61.90" width="5.00" height="5.00" fill="none" stroke="#2ca02c" stroke-width="0.90"/>
<rect x="580.02" y="51.17" width="5.00" height="5.00" fill="none" stroke="#2ca02c" stroke-width="0.90"/>
<rect x="587.68" y="43.50" width="5.00" height="5.00" fill="none" stroke="#2ca02c" stroke-width="0.90"/>
<rect x="595.35" y="29.45" width="5.00" height="5.00" fill="none" stroke="#2ca02c" stroke-width="0.90"/>
<rect x="603.02" y="19.99" width="5.00" height="5.00" fill="none" stroke="#2ca02c" stroke-width="0.90"/>
<rect x="610.68" y="14.88" width="5.00" height="5.00" fill="none" stroke="#2ca02c" stroke-width="0.90"/>
<rect x="617.84" y="18.46" width="5.00" height="5.00" fill="none" stroke="#2ca02c" stroke-width="0.90"/>
<rect x="625.51" y="30.72" width="5.00" height="5.00" fill="none" stroke="#2ca02c" stroke-width="0.90"/>
<rect x="633.17" y="39.16" width="5.00" height="5.00" fill="none" stroke="#2ca02c" stroke-width="0.90"/>
<rect x="640.33" y="52.96" width="5.00" height="5.00" fill="none" stroke="#2ca02c" stroke-width="0.90"/>
<rect x="648.00" y="59.60" width="5.00" height="5.00" fill="none" stroke="#2ca02c" stroke-width="0.90"/>
<rect x="655.66" y="68.55" width="5.00" height="5.00" fill="none" stroke="#2ca02c" stroke-width="0.90"/>
<rect x="663.08" y="83.63" width="5.00" height="5.00" fill="none" stroke="#2ca02c" stroke-width="0.90"/>
<rect x="677.39" y="88.99" width="5.00" height="5.00" fill="none" stroke="#2ca02c" stroke-width="0.90"/>
</g>
<rect x="546.20" y="8.40" width="133.40" height="86.20" fill="none" stroke="#ababab" stroke-width="1.15"/>
<text x="548.20" y="21.60" font-size="12.2" font-weight="bold" fill="#000" stroke="#000" stroke-width="0.45" letter-spacing="1.35"><tspan font-size="11.0" dy="-0.75">(</tspan><tspan dy="0.75">d</tspan><tspan font-size="11.0" dy="-0.75">)</tspan></text>
<text x="612.70" y="114.50" font-size="11.5" text-anchor="middle" fill="#111"><tspan font-style="italic">x</tspan>/<tspan font-style="italic">t</tspan><tspan dy="-4.6" font-size="8.2">0.67</tspan></text>
<line x1="28.70" y1="143.80" x2="30.70" y2="143.80" stroke="#333" stroke-width="0.60"/>
<text x="28.10" y="146.80" font-size="6.30" text-anchor="end" font-weight="normal" font-style="normal" fill="#111"  letter-spacing="0.3" stroke="#222" stroke-width="0.1">15</text>
<line x1="28.70" y1="164.30" x2="30.70" y2="164.30" stroke="#333" stroke-width="0.60"/>
<text x="28.10" y="167.30" font-size="6.30" text-anchor="end" font-weight="normal" font-style="normal" fill="#111"  letter-spacing="0.3" stroke="#222" stroke-width="0.1">10</text>
<line x1="28.70" y1="184.80" x2="30.70" y2="184.80" stroke="#333" stroke-width="0.60"/>
<text x="28.10" y="187.80" font-size="6.30" text-anchor="end" font-weight="normal" font-style="normal" fill="#111"  letter-spacing="0.3" stroke="#222" stroke-width="0.1">5</text>
<line x1="28.70" y1="205.30" x2="30.70" y2="205.30" stroke="#333" stroke-width="0.60"/>
<text x="28.10" y="208.30" font-size="6.30" text-anchor="end" font-weight="normal" font-style="normal" fill="#111"  letter-spacing="0.3" stroke="#222" stroke-width="0.1">0</text>
<line x1="54.80" y1="209.20" x2="54.80" y2="211.20" stroke="#333" stroke-width="0.60"/>
<text x="54.80" y="217.20" font-size="6.30" text-anchor="middle" font-weight="normal" font-style="normal" fill="#111"  letter-spacing="0.3" stroke="#222" stroke-width="0.1">−0.1</text>
<line x1="95.40" y1="209.20" x2="95.40" y2="211.20" stroke="#333" stroke-width="0.60"/>
<text x="95.40" y="217.20" font-size="6.30" text-anchor="middle" font-weight="normal" font-style="normal" fill="#111"  letter-spacing="0.3" stroke="#222" stroke-width="0.1">0.0</text>
<line x1="136.00" y1="209.20" x2="136.00" y2="211.20" stroke="#333" stroke-width="0.60"/>
<text x="136.00" y="217.20" font-size="6.30" text-anchor="middle" font-weight="normal" font-style="normal" fill="#111"  letter-spacing="0.3" stroke="#222" stroke-width="0.1">0.1</text>
<clipPath id="c5"><rect x="30.70" y="122.80" width="133.30" height="86.40"/></clipPath><g clip-path="url(#c5)">
<circle cx="97.63" cy="127.12" r="2.35" fill="none" stroke="#1f77b4" stroke-width="0.90"/>
<circle cx="91.49" cy="136.07" r="2.35" fill="none" stroke="#1f77b4" stroke-width="0.90"/>
<circle cx="86.38" cy="165.46" r="2.35" fill="none" stroke="#1f77b4" stroke-width="0.90"/>
<circle cx="103.00" cy="156.00" r="2.35" fill="none" stroke="#1f77b4" stroke-width="0.90"/>
<circle cx="80.76" cy="189.23" r="2.35" fill="none" stroke="#1f77b4" stroke-width="0.90"/>
<circle cx="108.87" cy="184.88" r="2.35" fill="none" stroke="#1f77b4" stroke-width="0.90"/>
<circle cx="74.88" cy="198.94" r="2.35" fill="none" stroke="#1f77b4" stroke-width="0.90"/>
<circle cx="114.50" cy="196.89" r="2.35" fill="none" stroke="#1f77b4" stroke-width="0.90"/>
<circle cx="68.49" cy="202.77" r="2.35" fill="none" stroke="#1f77b4" stroke-width="0.90"/>
<circle cx="120.12" cy="202.01" r="2.35" fill="none" stroke="#1f77b4" stroke-width="0.90"/>
<circle cx="63.89" cy="205.33" r="2.35" fill="none" stroke="#1f77b4" stroke-width="0.90"/>
<circle cx="57.50" cy="205.84" r="2.35" fill="none" stroke="#1f77b4" stroke-width="0.90"/>
<circle cx="51.11" cy="205.84" r="2.35" fill="none" stroke="#1f77b4" stroke-width="0.90"/>
<circle cx="46.00" cy="205.84" r="2.35" fill="none" stroke="#1f77b4" stroke-width="0.90"/>
<circle cx="39.61" cy="205.84" r="2.35" fill="none" stroke="#1f77b4" stroke-width="0.90"/>
<circle cx="126.00" cy="204.56" r="2.35" fill="none" stroke="#1f77b4" stroke-width="0.90"/>
<circle cx="132.13" cy="205.33" r="2.35" fill="none" stroke="#1f77b4" stroke-width="0.90"/>
<circle cx="138.01" cy="205.84" r="2.35" fill="none" stroke="#1f77b4" stroke-width="0.90"/>
<circle cx="144.40" cy="205.84" r="2.35" fill="none" stroke="#1f77b4" stroke-width="0.90"/>
<circle cx="150.79" cy="205.84" r="2.35" fill="none" stroke="#1f77b4" stroke-width="0.90"/>
<circle cx="157.18" cy="205.84" r="2.35" fill="none" stroke="#1f77b4" stroke-width="0.90"/>
<path d="M94.56 126.92 L95.07 128.47 L96.70 128.47 L95.38 129.43 L95.88 130.99 L94.56 130.03 L93.24 130.99 L93.74 129.43 L92.42 128.47 L94.06 128.47Z" fill="none" stroke="#ff7f0e" stroke-width="0.90" stroke-linejoin="miter"/>
<path d="M100.44 137.65 L100.95 139.21 L102.58 139.21 L101.26 140.17 L101.76 141.72 L100.44 140.76 L99.12 141.72 L99.62 140.17 L98.30 139.21 L99.93 139.21Z" fill="none" stroke="#ff7f0e" stroke-width="0.90" stroke-linejoin="miter"/>
<path d="M87.66 156.31 L88.17 157.86 L89.80 157.86 L88.48 158.82 L88.98 160.38 L87.66 159.42 L86.34 160.38 L86.84 158.82 L85.52 157.86 L87.16 157.86Z" fill="none" stroke="#ff7f0e" stroke-width="0.90" stroke-linejoin="miter"/>
<path d="M106.83 173.69 L107.33 175.24 L108.97 175.24 L107.65 176.20 L108.15 177.76 L106.83 176.80 L105.51 177.76 L106.01 176.20 L104.69 175.24 L106.32 175.24Z" fill="none" stroke="#ff7f0e" stroke-width="0.90" stroke-linejoin="miter"/>
<path d="M81.27 183.65 L81.78 185.21 L83.41 185.21 L82.09 186.17 L82.59 187.73 L81.27 186.76 L79.95 187.73 L80.45 186.17 L79.13 185.21 L80.77 185.21Z" fill="none" stroke="#ff7f0e" stroke-width="0.90" stroke-linejoin="miter"/>
<path d="M112.45 192.09 L112.96 193.64 L114.59 193.64 L113.27 194.60 L113.77 196.16 L112.45 195.20 L111.13 196.16 L111.63 194.60 L110.31 193.64 L111.95 193.64Z" fill="none" stroke="#ff7f0e" stroke-width="0.90" stroke-linejoin="miter"/>
<path d="M74.88 195.92 L75.39 197.48 L77.02 197.48 L75.70 198.44 L76.21 199.99 L74.88 199.03 L73.56 199.99 L74.07 198.44 L72.74 197.48 L74.38 197.48Z" fill="none" stroke="#ff7f0e" stroke-width="0.90" stroke-linejoin="miter"/>
<path d="M118.84 199.24 L119.35 200.80 L120.98 200.80 L119.66 201.76 L120.16 203.32 L118.84 202.35 L117.52 203.32 L118.02 201.76 L116.70 200.80 L118.34 200.80Z" fill="none" stroke="#ff7f0e" stroke-width="0.90" stroke-linejoin="miter"/>
<path d="M69.00 200.52 L69.51 202.08 L71.14 202.08 L69.82 203.04 L70.33 204.59 L69.00 203.63 L67.68 204.59 L68.19 203.04 L66.86 202.08 L68.50 202.08Z" fill="none" stroke="#ff7f0e" stroke-width="0.90" stroke-linejoin="miter"/>
<path d="M124.72 202.31 L125.22 203.87 L126.86 203.87 L125.54 204.83 L126.04 206.38 L124.72 205.42 L123.40 206.38 L123.90 204.83 L122.58 203.87 L124.21 203.87Z" fill="none" stroke="#ff7f0e" stroke-width="0.90" stroke-linejoin="miter"/>
<path d="M63.38 202.82 L63.89 204.38 L65.52 204.38 L64.20 205.34 L64.70 206.89 L63.38 205.93 L62.06 206.89 L62.56 205.34 L61.24 204.38 L62.88 204.38Z" fill="none" stroke="#ff7f0e" stroke-width="0.90" stroke-linejoin="miter"/>
<path d="M57.50 203.59 L58.01 205.14 L59.64 205.14 L58.32 206.11 L58.83 207.66 L57.50 206.70 L56.18 207.66 L56.69 206.11 L55.36 205.14 L57.00 205.14Z" fill="none" stroke="#ff7f0e" stroke-width="0.90" stroke-linejoin="miter"/>
<path d="M51.11 203.59 L51.62 205.14 L53.25 205.14 L51.93 206.11 L52.44 207.66 L51.11 206.70 L49.79 207.66 L50.30 206.11 L48.97 205.14 L50.61 205.14Z" fill="none" stroke="#ff7f0e" stroke-width="0.90" stroke-linejoin="miter"/>
<path d="M45.49 203.59 L46.00 205.14 L47.63 205.14 L46.31 206.11 L46.81 207.66 L45.49 206.70 L44.17 207.66 L44.67 206.11 L43.35 205.14 L44.99 205.14Z" fill="none" stroke="#ff7f0e" stroke-width="0.90" stroke-linejoin="miter"/>
<path d="M35.78 203.59 L36.29 205.14 L37.92 205.14 L36.60 206.11 L37.10 207.66 L35.78 206.70 L34.46 207.66 L34.96 206.11 L33.64 205.14 L35.27 205.14Z" fill="none" stroke="#ff7f0e" stroke-width="0.90" stroke-linejoin="miter"/>
<path d="M130.34 203.08 L130.85 204.63 L132.48 204.63 L131.16 205.59 L131.66 207.15 L130.34 206.19 L129.02 207.15 L129.52 205.59 L128.20 204.63 L129.84 204.63Z" fill="none" stroke="#ff7f0e" stroke-width="0.90" stroke-linejoin="miter"/>
<path d="M138.01 203.59 L138.51 205.14 L140.15 205.14 L138.83 206.11 L139.33 207.66 L138.01 206.70 L136.69 207.66 L137.19 206.11 L135.87 205.14 L137.50 205.14Z" fill="none" stroke="#ff7f0e" stroke-width="0.90" stroke-linejoin="miter"/>
<path d="M143.89 203.59 L144.39 205.14 L146.03 205.14 L144.70 206.11 L145.21 207.66 L143.89 206.70 L142.56 207.66 L143.07 206.11 L141.75 205.14 L143.38 205.14Z" fill="none" stroke="#ff7f0e" stroke-width="0.90" stroke-linejoin="miter"/>
<path d="M150.28 203.59 L150.78 205.14 L152.42 205.14 L151.09 206.11 L151.60 207.66 L150.28 206.70 L148.95 207.66 L149.46 206.11 L148.14 205.14 L149.77 205.14Z" fill="none" stroke="#ff7f0e" stroke-width="0.90" stroke-linejoin="miter"/>
<path d="M158.45 203.59 L158.96 205.14 L160.59 205.14 L159.27 206.11 L159.78 207.66 L158.45 206.70 L157.13 207.66 L157.64 206.11 L156.31 205.14 L157.95 205.14Z" fill="none" stroke="#ff7f0e" stroke-width="0.90" stroke-linejoin="miter"/>
<rect x="92.06" y="124.62" width="5.00" height="5.00" fill="none" stroke="#2ca02c" stroke-width="0.90"/>
<rect x="98.45" y="139.45" width="5.00" height="5.00" fill="none" stroke="#2ca02c" stroke-width="0.90"/>
<rect x="86.18" y="151.46" width="5.00" height="5.00" fill="none" stroke="#2ca02c" stroke-width="0.90"/>
<rect x="104.84" y="173.44" width="5.00" height="5.00" fill="none" stroke="#2ca02c" stroke-width="0.90"/>
<rect x="79.79" y="181.62" width="5.00" height="5.00" fill="none" stroke="#2ca02c" stroke-width="0.90"/>
<rect x="110.46" y="191.33" width="5.00" height="5.00" fill="none" stroke="#2ca02c" stroke-width="0.90"/>
<rect x="73.40" y="195.16" width="5.00" height="5.00" fill="none" stroke="#2ca02c" stroke-width="0.90"/>
<rect x="116.60" y="199.51" width="5.00" height="5.00" fill="none" stroke="#2ca02c" stroke-width="0.90"/>
<rect x="67.27" y="200.78" width="5.00" height="5.00" fill="none" stroke="#2ca02c" stroke-width="0.90"/>
<rect x="122.73" y="202.06" width="5.00" height="5.00" fill="none" stroke="#2ca02c" stroke-width="0.90"/>
<rect x="61.39" y="202.83" width="5.00" height="5.00" fill="none" stroke="#2ca02c" stroke-width="0.90"/>
<rect x="55.00" y="203.34" width="5.00" height="5.00" fill="none" stroke="#2ca02c" stroke-width="0.90"/>
<rect x="48.61" y="203.34" width="5.00" height="5.00" fill="none" stroke="#2ca02c" stroke-width="0.90"/>
<rect x="42.99" y="203.34" width="5.00" height="5.00" fill="none" stroke="#2ca02c" stroke-width="0.90"/>
<rect x="37.11" y="203.34" width="5.00" height="5.00" fill="none" stroke="#2ca02c" stroke-width="0.90"/>
<rect x="129.12" y="203.34" width="5.00" height="5.00" fill="none" stroke="#2ca02c" stroke-width="0.90"/>
<rect x="135.51" y="203.34" width="5.00" height="5.00" fill="none" stroke="#2ca02c" stroke-width="0.90"/>
<rect x="141.90" y="203.34" width="5.00" height="5.00" fill="none" stroke="#2ca02c" stroke-width="0.90"/>
<rect x="148.29" y="203.34" width="5.00" height="5.00" fill="none" stroke="#2ca02c" stroke-width="0.90"/>
<rect x="153.91" y="203.34" width="5.00" height="5.00" fill="none" stroke="#2ca02c" stroke-width="0.90"/>
</g>
<rect x="30.70" y="122.80" width="133.30" height="86.40" fill="none" stroke="#ababab" stroke-width="1.15"/>
<text x="33.60" y="141.20" font-size="12.2" font-weight="bold" fill="#000" stroke="#000" stroke-width="0.45" letter-spacing="1.35"><tspan font-size="11.0" dy="-0.75">(</tspan><tspan dy="0.75">e</tspan><tspan font-size="11.0" dy="-0.75">)</tspan></text>
<text x="97.15" y="229.10" font-size="11.5" text-anchor="middle" fill="#111"><tspan font-style="italic">x</tspan>/<tspan font-style="italic">t</tspan><tspan dy="-4.6" font-size="8.2">0.25</tspan></text>
<text transform="translate(17.0,166) rotate(-90)" font-size="11.2" text-anchor="middle" fill="#111">Density</text>
<line x1="204.50" y1="120.50" x2="206.50" y2="120.50" stroke="#333" stroke-width="0.60"/>
<text x="203.90" y="123.50" font-size="6.30" text-anchor="end" font-weight="normal" font-style="normal" fill="#111"  letter-spacing="0.3" stroke="#222" stroke-width="0.1">0.5</text>
<line x1="204.50" y1="137.80" x2="206.50" y2="137.80" stroke="#333" stroke-width="0.60"/>
<text x="203.90" y="140.80" font-size="6.30" text-anchor="end" font-weight="normal" font-style="normal" fill="#111"  letter-spacing="0.3" stroke="#222" stroke-width="0.1">0.4</text>
<line x1="204.50" y1="155.10" x2="206.50" y2="155.10" stroke="#333" stroke-width="0.60"/>
<text x="203.90" y="158.10" font-size="6.30" text-anchor="end" font-weight="normal" font-style="normal" fill="#111"  letter-spacing="0.3" stroke="#222" stroke-width="0.1">0.3</text>
<line x1="204.50" y1="172.40" x2="206.50" y2="172.40" stroke="#333" stroke-width="0.60"/>
<text x="203.90" y="175.40" font-size="6.30" text-anchor="end" font-weight="normal" font-style="normal" fill="#111"  letter-spacing="0.3" stroke="#222" stroke-width="0.1">0.2</text>
<line x1="204.50" y1="189.70" x2="206.50" y2="189.70" stroke="#333" stroke-width="0.60"/>
<text x="203.90" y="192.70" font-size="6.30" text-anchor="end" font-weight="normal" font-style="normal" fill="#111"  letter-spacing="0.3" stroke="#222" stroke-width="0.1">0.1</text>
<line x1="206.50" y1="207.10" x2="206.50" y2="209.10" stroke="#333" stroke-width="0.60"/>
<text x="206.50" y="215.10" font-size="6.30" text-anchor="middle" font-weight="normal" font-style="normal" fill="#111"  letter-spacing="0.3" stroke="#222" stroke-width="0.1">−3</text>
<line x1="228.73" y1="207.10" x2="228.73" y2="209.10" stroke="#333" stroke-width="0.60"/>
<text x="228.73" y="215.10" font-size="6.30" text-anchor="middle" font-weight="normal" font-style="normal" fill="#111"  letter-spacing="0.3" stroke="#222" stroke-width="0.1">−2</text>
<line x1="250.96" y1="207.10" x2="250.96" y2="209.10" stroke="#333" stroke-width="0.60"/>
<text x="250.96" y="215.10" font-size="6.30" text-anchor="middle" font-weight="normal" font-style="normal" fill="#111"  letter-spacing="0.3" stroke="#222" stroke-width="0.1">−1</text>
<line x1="273.19" y1="207.10" x2="273.19" y2="209.10" stroke="#333" stroke-width="0.60"/>
<text x="273.19" y="215.10" font-size="6.30" text-anchor="middle" font-weight="normal" font-style="normal" fill="#111"  letter-spacing="0.3" stroke="#222" stroke-width="0.1">0</text>
<line x1="295.42" y1="207.10" x2="295.42" y2="209.10" stroke="#333" stroke-width="0.60"/>
<text x="295.42" y="215.10" font-size="6.30" text-anchor="middle" font-weight="normal" font-style="normal" fill="#111"  letter-spacing="0.3" stroke="#222" stroke-width="0.1">1</text>
<line x1="317.65" y1="207.10" x2="317.65" y2="209.10" stroke="#333" stroke-width="0.60"/>
<text x="317.65" y="215.10" font-size="6.30" text-anchor="middle" font-weight="normal" font-style="normal" fill="#111"  letter-spacing="0.3" stroke="#222" stroke-width="0.1">2</text>
<line x1="339.88" y1="207.10" x2="339.88" y2="209.10" stroke="#333" stroke-width="0.60"/>
<text x="339.88" y="215.10" font-size="6.30" text-anchor="middle" font-weight="normal" font-style="normal" fill="#111"  letter-spacing="0.3" stroke="#222" stroke-width="0.1">3</text>
<clipPath id="c6"><rect x="206.50" y="120.70" width="133.40" height="86.40"/></clipPath><g clip-path="url(#c6)">
<circle cx="215.96" cy="204.56" r="2.35" fill="none" stroke="#1f77b4" stroke-width="0.90"/>
<circle cx="221.84" cy="205.84" r="2.35" fill="none" stroke="#1f77b4" stroke-width="0.90"/>
<circle cx="227.71" cy="203.28" r="2.35" fill="none" stroke="#1f77b4" stroke-width="0.90"/>
<circle cx="233.85" cy="197.66" r="2.35" fill="none" stroke="#1f77b4" stroke-width="0.90"/>
<circle cx="239.73" cy="189.99" r="2.35" fill="none" stroke="#1f77b4" stroke-width="0.90"/>
<circle cx="246.12" cy="175.94" r="2.35" fill="none" stroke="#1f77b4" stroke-width="0.90"/>
<circle cx="251.74" cy="164.44" r="2.35" fill="none" stroke="#1f77b4" stroke-width="0.90"/>
<circle cx="257.62" cy="150.89" r="2.35" fill="none" stroke="#1f77b4" stroke-width="0.90"/>
<circle cx="263.49" cy="141.95" r="2.35" fill="none" stroke="#1f77b4" stroke-width="0.90"/>
<circle cx="269.88" cy="140.67" r="2.35" fill="none" stroke="#1f77b4" stroke-width="0.90"/>
<circle cx="275.51" cy="141.18" r="2.35" fill="none" stroke="#1f77b4" stroke-width="0.90"/>
<circle cx="281.38" cy="143.22" r="2.35" fill="none" stroke="#1f77b4" stroke-width="0.90"/>
<circle cx="287.52" cy="152.68" r="2.35" fill="none" stroke="#1f77b4" stroke-width="0.90"/>
<circle cx="293.40" cy="163.67" r="2.35" fill="none" stroke="#1f77b4" stroke-width="0.90"/>
<circle cx="299.02" cy="175.94" r="2.35" fill="none" stroke="#1f77b4" stroke-width="0.90"/>
<circle cx="304.90" cy="184.63" r="2.35" fill="none" stroke="#1f77b4" stroke-width="0.90"/>
<circle cx="311.29" cy="194.34" r="2.35" fill="none" stroke="#1f77b4" stroke-width="0.90"/>
<circle cx="317.16" cy="199.45" r="2.35" fill="none" stroke="#1f77b4" stroke-width="0.90"/>
<circle cx="323.30" cy="203.79" r="2.35" fill="none" stroke="#1f77b4" stroke-width="0.90"/>
<circle cx="329.18" cy="204.56" r="2.35" fill="none" stroke="#1f77b4" stroke-width="0.90"/>
<path d="M215.96 203.59 L216.46 205.14 L218.10 205.14 L216.78 206.11 L217.28 207.66 L215.96 206.70 L214.64 207.66 L215.14 206.11 L213.82 205.14 L215.45 205.14Z" fill="none" stroke="#ff7f0e" stroke-width="0.90" stroke-linejoin="miter"/>
<path d="M223.11 201.80 L223.62 203.36 L225.25 203.36 L223.93 204.32 L224.44 205.87 L223.11 204.91 L221.79 205.87 L222.30 204.32 L220.97 203.36 L222.61 203.36Z" fill="none" stroke="#ff7f0e" stroke-width="0.90" stroke-linejoin="miter"/>
<path d="M230.27 197.71 L230.78 199.27 L232.41 199.27 L231.09 200.23 L231.59 201.78 L230.27 200.82 L228.95 201.78 L229.45 200.23 L228.13 199.27 L229.77 199.27Z" fill="none" stroke="#ff7f0e" stroke-width="0.90" stroke-linejoin="miter"/>
<path d="M237.68 183.91 L238.19 185.47 L239.82 185.47 L238.50 186.43 L239.00 187.98 L237.68 187.02 L236.36 187.98 L236.86 186.43 L235.54 185.47 L237.18 185.47Z" fill="none" stroke="#ff7f0e" stroke-width="0.90" stroke-linejoin="miter"/>
<path d="M244.84 172.92 L245.34 174.48 L246.98 174.48 L245.66 175.44 L246.16 176.99 L244.84 176.03 L243.52 176.99 L244.02 175.44 L242.70 174.48 L244.33 174.48Z" fill="none" stroke="#ff7f0e" stroke-width="0.90" stroke-linejoin="miter"/>
<path d="M251.99 154.52 L252.50 156.07 L254.13 156.07 L252.81 157.04 L253.32 158.59 L251.99 157.63 L250.67 158.59 L251.18 157.04 L249.85 156.07 L251.49 156.07Z" fill="none" stroke="#ff7f0e" stroke-width="0.90" stroke-linejoin="miter"/>
<path d="M259.41 142.25 L259.91 143.81 L261.55 143.81 L260.22 144.77 L260.73 146.32 L259.41 145.36 L258.08 146.32 L258.59 144.77 L257.27 143.81 L258.90 143.81Z" fill="none" stroke="#ff7f0e" stroke-width="0.90" stroke-linejoin="miter"/>
<path d="M266.56 135.35 L267.07 136.91 L268.70 136.91 L267.38 137.87 L267.88 139.42 L266.56 138.46 L265.24 139.42 L265.74 137.87 L264.42 136.91 L266.06 136.91Z" fill="none" stroke="#ff7f0e" stroke-width="0.90" stroke-linejoin="miter"/>
<path d="M274.23 135.35 L274.73 136.91 L276.37 136.91 L275.05 137.87 L275.55 139.42 L274.23 138.46 L272.91 139.42 L273.41 137.87 L272.09 136.91 L273.72 136.91Z" fill="none" stroke="#ff7f0e" stroke-width="0.90" stroke-linejoin="miter"/>
<path d="M281.38 140.46 L281.89 142.02 L283.52 142.02 L282.20 142.98 L282.71 144.53 L281.38 143.57 L280.06 144.53 L280.57 142.98 L279.24 142.02 L280.88 142.02Z" fill="none" stroke="#ff7f0e" stroke-width="0.90" stroke-linejoin="miter"/>
<path d="M288.80 154.52 L289.30 156.07 L290.94 156.07 L289.61 157.04 L290.12 158.59 L288.80 157.63 L287.47 158.59 L287.98 157.04 L286.66 156.07 L288.29 156.07Z" fill="none" stroke="#ff7f0e" stroke-width="0.90" stroke-linejoin="miter"/>
<path d="M295.95 166.53 L296.46 168.09 L298.09 168.09 L296.77 169.05 L297.27 170.60 L295.95 169.64 L294.63 170.60 L295.14 169.05 L293.81 168.09 L295.45 168.09Z" fill="none" stroke="#ff7f0e" stroke-width="0.90" stroke-linejoin="miter"/>
<path d="M303.11 180.59 L303.61 182.14 L305.25 182.14 L303.93 183.10 L304.43 184.66 L303.11 183.70 L301.79 184.66 L302.29 183.10 L300.97 182.14 L302.60 182.14Z" fill="none" stroke="#ff7f0e" stroke-width="0.90" stroke-linejoin="miter"/>
<path d="M310.78 188.26 L311.28 189.81 L312.92 189.81 L311.59 190.77 L312.10 192.33 L310.78 191.36 L309.45 192.33 L309.96 190.77 L308.64 189.81 L310.27 189.81Z" fill="none" stroke="#ff7f0e" stroke-width="0.90" stroke-linejoin="miter"/>
<path d="M318.19 195.92 L318.69 197.48 L320.33 197.48 L319.00 198.44 L319.51 199.99 L318.19 199.03 L316.86 199.99 L317.37 198.44 L316.05 197.48 L317.68 197.48Z" fill="none" stroke="#ff7f0e" stroke-width="0.90" stroke-linejoin="miter"/>
<path d="M325.34 200.27 L325.85 201.82 L327.48 201.82 L326.16 202.78 L326.67 204.34 L325.34 203.38 L324.02 204.34 L324.53 202.78 L323.20 201.82 L324.84 201.82Z" fill="none" stroke="#ff7f0e" stroke-width="0.90" stroke-linejoin="miter"/>
<path d="M332.50 203.08 L333.00 204.63 L334.64 204.63 L333.32 205.59 L333.82 207.15 L332.50 206.19 L331.18 207.15 L331.68 205.59 L330.36 204.63 L331.99 204.63Z" fill="none" stroke="#ff7f0e" stroke-width="0.90" stroke-linejoin="miter"/>
<rect x="212.95" y="202.83" width="5.00" height="5.00" fill="none" stroke="#2ca02c" stroke-width="0.90"/>
<rect x="222.40" y="200.27" width="5.00" height="5.00" fill="none" stroke="#2ca02c" stroke-width="0.90"/>
<rect x="225.21" y="199.51" width="5.00" height="5.00" fill="none" stroke="#2ca02c" stroke-width="0.90"/>
<rect x="231.35" y="189.79" width="5.00" height="5.00" fill="none" stroke="#2ca02c" stroke-width="0.90"/>
<rect x="239.78" y="171.39" width="5.00" height="5.00" fill="none" stroke="#2ca02c" stroke-width="0.90"/>
<rect x="248.73" y="162.45" width="5.00" height="5.00" fill="none" stroke="#2ca02c" stroke-width="0.90"/>
<rect x="256.91" y="138.17" width="5.00" height="5.00" fill="none" stroke="#2ca02c" stroke-width="0.90"/>
<rect x="265.34" y="138.68" width="5.00" height="5.00" fill="none" stroke="#2ca02c" stroke-width="0.90"/>
<rect x="274.28" y="148.39" width="5.00" height="5.00" fill="none" stroke="#2ca02c" stroke-width="0.90"/>
<rect x="283.23" y="139.96" width="5.00" height="5.00" fill="none" stroke="#2ca02c" stroke-width="0.90"/>
<rect x="291.66" y="161.94" width="5.00" height="5.00" fill="none" stroke="#2ca02c" stroke-width="0.90"/>
<rect x="300.35" y="186.22" width="5.00" height="5.00" fill="none" stroke="#2ca02c" stroke-width="0.90"/>
<rect x="308.79" y="188.77" width="5.00" height="5.00" fill="none" stroke="#2ca02c" stroke-width="0.90"/>
<rect x="316.97" y="195.16" width="5.00" height="5.00" fill="none" stroke="#2ca02c" stroke-width="0.90"/>
<rect x="325.40" y="200.02" width="5.00" height="5.00" fill="none" stroke="#2ca02c" stroke-width="0.90"/>
<rect x="334.34" y="201.29" width="5.00" height="5.00" fill="none" stroke="#2ca02c" stroke-width="0.90"/>
</g>
<rect x="206.50" y="120.70" width="133.40" height="86.40" fill="none" stroke="#ababab" stroke-width="1.15"/>
<text x="210.80" y="140.80" font-size="12.2" font-weight="bold" fill="#000" stroke="#000" stroke-width="0.45" letter-spacing="1.35"><tspan font-size="11.0" dy="-0.75">(</tspan><tspan dy="0.75">f</tspan><tspan font-size="11.0" dy="-0.75">)</tspan></text>
<text x="269.90" y="227.00" font-size="11.5" text-anchor="middle" fill="#111"><tspan font-style="italic">x</tspan>/<tspan font-style="italic">t</tspan><tspan dy="-4.6" font-size="8.2">0.67</tspan></text>
<line x1="376.50" y1="204.60" x2="378.50" y2="204.60" stroke="#333" stroke-width="0.60"/>
<text x="375.90" y="207.60" font-size="6.30" text-anchor="end" font-weight="normal" font-style="normal" fill="#111"  letter-spacing="0.3" stroke="#222" stroke-width="0.1">0.00</text>
<line x1="376.50" y1="191.05" x2="378.50" y2="191.05" stroke="#333" stroke-width="0.60"/>
<text x="375.90" y="194.05" font-size="6.30" text-anchor="end" font-weight="normal" font-style="normal" fill="#111"  letter-spacing="0.3" stroke="#222" stroke-width="0.1">0.02</text>
<line x1="376.50" y1="177.50" x2="378.50" y2="177.50" stroke="#333" stroke-width="0.60"/>
<text x="375.90" y="180.50" font-size="6.30" text-anchor="end" font-weight="normal" font-style="normal" fill="#111"  letter-spacing="0.3" stroke="#222" stroke-width="0.1">0.04</text>
<line x1="376.50" y1="163.95" x2="378.50" y2="163.95" stroke="#333" stroke-width="0.60"/>
<text x="375.90" y="166.95" font-size="6.30" text-anchor="end" font-weight="normal" font-style="normal" fill="#111"  letter-spacing="0.3" stroke="#222" stroke-width="0.1">0.06</text>
<line x1="376.50" y1="150.40" x2="378.50" y2="150.40" stroke="#333" stroke-width="0.60"/>
<text x="375.90" y="153.40" font-size="6.30" text-anchor="end" font-weight="normal" font-style="normal" fill="#111"  letter-spacing="0.3" stroke="#222" stroke-width="0.1">0.08</text>
<line x1="376.50" y1="136.85" x2="378.50" y2="136.85" stroke="#333" stroke-width="0.60"/>
<text x="375.90" y="139.85" font-size="6.30" text-anchor="end" font-weight="normal" font-style="normal" fill="#111"  letter-spacing="0.3" stroke="#222" stroke-width="0.1">0.10</text>
<line x1="376.50" y1="123.30" x2="378.50" y2="123.30" stroke="#333" stroke-width="0.60"/>
<text x="375.90" y="126.30" font-size="6.30" text-anchor="end" font-weight="normal" font-style="normal" fill="#111"  letter-spacing="0.3" stroke="#222" stroke-width="0.1">0.12</text>
<line x1="378.50" y1="207.60" x2="378.50" y2="209.60" stroke="#333" stroke-width="0.60"/>
<text x="378.50" y="215.60" font-size="6.30" text-anchor="middle" font-weight="normal" font-style="normal" fill="#111"  letter-spacing="0.3" stroke="#222" stroke-width="0.1">−10</text>
<line x1="411.85" y1="207.60" x2="411.85" y2="209.60" stroke="#333" stroke-width="0.60"/>
<text x="411.85" y="215.60" font-size="6.30" text-anchor="middle" font-weight="normal" font-style="normal" fill="#111"  letter-spacing="0.3" stroke="#222" stroke-width="0.1">−5</text>
<line x1="445.20" y1="207.60" x2="445.20" y2="209.60" stroke="#333" stroke-width="0.60"/>
<text x="445.20" y="215.60" font-size="6.30" text-anchor="middle" font-weight="normal" font-style="normal" fill="#111"  letter-spacing="0.3" stroke="#222" stroke-width="0.1">0</text>
<line x1="478.55" y1="207.60" x2="478.55" y2="209.60" stroke="#333" stroke-width="0.60"/>
<text x="478.55" y="215.60" font-size="6.30" text-anchor="middle" font-weight="normal" font-style="normal" fill="#111"  letter-spacing="0.3" stroke="#222" stroke-width="0.1">5</text>
<line x1="511.90" y1="207.60" x2="511.90" y2="209.60" stroke="#333" stroke-width="0.60"/>
<text x="511.90" y="215.60" font-size="6.30" text-anchor="middle" font-weight="normal" font-style="normal" fill="#111"  letter-spacing="0.3" stroke="#222" stroke-width="0.1">10</text>
<clipPath id="c7"><rect x="378.50" y="122.50" width="133.40" height="85.10"/></clipPath><g clip-path="url(#c7)">
<circle cx="380.55" cy="202.01" r="2.35" fill="none" stroke="#1f77b4" stroke-width="0.90"/>
<circle cx="386.94" cy="199.45" r="2.35" fill="none" stroke="#1f77b4" stroke-width="0.90"/>
<circle cx="392.56" cy="196.89" r="2.35" fill="none" stroke="#1f77b4" stroke-width="0.90"/>
<circle cx="398.95" cy="191.78" r="2.35" fill="none" stroke="#1f77b4" stroke-width="0.90"/>
<circle cx="405.34" cy="183.35" r="2.35" fill="none" stroke="#1f77b4" stroke-width="0.90"/>
<circle cx="411.73" cy="172.10" r="2.35" fill="none" stroke="#1f77b4" stroke-width="0.90"/>
<circle cx="418.63" cy="161.11" r="2.35" fill="none" stroke="#1f77b4" stroke-width="0.90"/>
<circle cx="425.27" cy="148.34" r="2.35" fill="none" stroke="#1f77b4" stroke-width="0.90"/>
<circle cx="431.66" cy="138.88" r="2.35" fill="none" stroke="#1f77b4" stroke-width="0.90"/>
<circle cx="438.05" cy="129.17" r="2.35" fill="none" stroke="#1f77b4" stroke-width="0.90"/>
<circle cx="444.44" cy="128.40" r="2.35" fill="none" stroke="#1f77b4" stroke-width="0.90"/>
<circle cx="450.83" cy="133.00" r="2.35" fill="none" stroke="#1f77b4" stroke-width="0.90"/>
<circle cx="457.22" cy="143.22" r="2.35" fill="none" stroke="#1f77b4" stroke-width="0.90"/>
<circle cx="463.35" cy="156.00" r="2.35" fill="none" stroke="#1f77b4" stroke-width="0.90"/>
<circle cx="469.74" cy="168.01" r="2.35" fill="none" stroke="#1f77b4" stroke-width="0.90"/>
<circle cx="476.39" cy="176.96" r="2.35" fill="none" stroke="#1f77b4" stroke-width="0.90"/>
<circle cx="482.52" cy="185.39" r="2.35" fill="none" stroke="#1f77b4" stroke-width="0.90"/>
<circle cx="488.91" cy="191.78" r="2.35" fill="none" stroke="#1f77b4" stroke-width="0.90"/>
<circle cx="495.30" cy="195.11" r="2.35" fill="none" stroke="#1f77b4" stroke-width="0.90"/>
<circle cx="501.69" cy="197.41" r="2.35" fill="none" stroke="#1f77b4" stroke-width="0.90"/>
<circle cx="507.57" cy="199.45" r="2.35" fill="none" stroke="#1f77b4" stroke-width="0.90"/>
<path d="M381.06 199.24 L381.56 200.80 L383.20 200.80 L381.88 201.76 L382.38 203.32 L381.06 202.35 L379.74 203.32 L380.24 201.76 L378.92 200.80 L380.55 200.80Z" fill="none" stroke="#ff7f0e" stroke-width="0.90" stroke-linejoin="miter"/>
<path d="M387.45 196.69 L387.95 198.24 L389.59 198.24 L388.26 199.20 L388.77 200.76 L387.45 199.80 L386.12 200.76 L386.63 199.20 L385.31 198.24 L386.94 198.24Z" fill="none" stroke="#ff7f0e" stroke-width="0.90" stroke-linejoin="miter"/>
<path d="M393.84 193.37 L394.34 194.92 L395.98 194.92 L394.65 195.88 L395.16 197.44 L393.84 196.48 L392.51 197.44 L393.02 195.88 L391.70 194.92 L393.33 194.92Z" fill="none" stroke="#ff7f0e" stroke-width="0.90" stroke-linejoin="miter"/>
<path d="M400.23 187.49 L400.73 189.04 L402.37 189.04 L401.04 190.00 L401.55 191.56 L400.23 190.60 L398.90 191.56 L399.41 190.00 L398.09 189.04 L399.72 189.04Z" fill="none" stroke="#ff7f0e" stroke-width="0.90" stroke-linejoin="miter"/>
<path d="M406.62 180.59 L407.12 182.14 L408.76 182.14 L407.43 183.10 L407.94 184.66 L406.62 183.70 L405.29 184.66 L405.80 183.10 L404.48 182.14 L406.11 182.14Z" fill="none" stroke="#ff7f0e" stroke-width="0.90" stroke-linejoin="miter"/>
<path d="M413.00 171.64 L413.51 173.20 L415.14 173.20 L413.82 174.16 L414.33 175.71 L413.00 174.75 L411.68 175.71 L412.19 174.16 L410.86 173.20 L412.50 173.20Z" fill="none" stroke="#ff7f0e" stroke-width="0.90" stroke-linejoin="miter"/>
<path d="M419.39 160.65 L419.90 162.21 L421.53 162.21 L420.21 163.17 L420.72 164.72 L419.39 163.76 L418.07 164.72 L418.58 163.17 L417.25 162.21 L418.89 162.21Z" fill="none" stroke="#ff7f0e" stroke-width="0.90" stroke-linejoin="miter"/>
<path d="M425.78 146.09 L426.29 147.64 L427.92 147.64 L426.60 148.60 L427.11 150.16 L425.78 149.20 L424.46 150.16 L424.97 148.60 L423.64 147.64 L425.28 147.64Z" fill="none" stroke="#ff7f0e" stroke-width="0.90" stroke-linejoin="miter"/>
<path d="M432.17 132.80 L432.68 134.35 L434.31 134.35 L432.99 135.31 L433.49 136.87 L432.17 135.91 L430.85 136.87 L431.35 135.31 L430.03 134.35 L431.67 134.35Z" fill="none" stroke="#ff7f0e" stroke-width="0.90" stroke-linejoin="miter"/>
<path d="M438.56 126.41 L439.07 127.96 L440.70 127.96 L439.38 128.92 L439.88 130.48 L438.56 129.52 L437.24 130.48 L437.74 128.92 L436.42 127.96 L438.06 127.96Z" fill="none" stroke="#ff7f0e" stroke-width="0.90" stroke-linejoin="miter"/>
<path d="M444.44 125.64 L444.95 127.19 L446.58 127.19 L445.26 128.16 L445.76 129.71 L444.44 128.75 L443.12 129.71 L443.62 128.16 L442.30 127.19 L443.93 127.19Z" fill="none" stroke="#ff7f0e" stroke-width="0.90" stroke-linejoin="miter"/>
<path d="M450.83 130.24 L451.33 131.79 L452.97 131.80 L451.65 132.76 L452.15 134.31 L450.83 133.35 L449.51 134.31 L450.01 132.76 L448.69 131.80 L450.32 131.79Z" fill="none" stroke="#ff7f0e" stroke-width="0.90" stroke-linejoin="miter"/>
<path d="M456.45 142.25 L456.96 143.81 L458.59 143.81 L457.27 144.77 L457.77 146.32 L456.45 145.36 L455.13 146.32 L455.63 144.77 L454.31 143.81 L455.95 143.81Z" fill="none" stroke="#ff7f0e" stroke-width="0.90" stroke-linejoin="miter"/>
<path d="M462.84 154.26 L463.35 155.82 L464.98 155.82 L463.66 156.78 L464.16 158.33 L462.84 157.37 L461.52 158.33 L462.02 156.78 L460.70 155.82 L462.34 155.82Z" fill="none" stroke="#ff7f0e" stroke-width="0.90" stroke-linejoin="miter"/>
<path d="M469.23 166.02 L469.74 167.58 L471.37 167.58 L470.05 168.54 L470.55 170.09 L469.23 169.13 L467.91 170.09 L468.41 168.54 L467.09 167.58 L468.73 167.58Z" fill="none" stroke="#ff7f0e" stroke-width="0.90" stroke-linejoin="miter"/>
<path d="M476.13 176.24 L476.64 177.80 L478.27 177.80 L476.95 178.76 L477.45 180.31 L476.13 179.35 L474.81 180.31 L475.31 178.76 L473.99 177.80 L475.63 177.80Z" fill="none" stroke="#ff7f0e" stroke-width="0.90" stroke-linejoin="miter"/>
<path d="M482.52 182.38 L483.03 183.93 L484.66 183.93 L483.34 184.89 L483.84 186.45 L482.52 185.49 L481.20 186.45 L481.70 184.89 L480.38 183.93 L482.01 183.93Z" fill="none" stroke="#ff7f0e" stroke-width="0.90" stroke-linejoin="miter"/>
<path d="M488.91 187.74 L489.41 189.30 L491.05 189.30 L489.73 190.26 L490.23 191.81 L488.91 190.85 L487.59 191.81 L488.09 190.26 L486.77 189.30 L488.40 189.30Z" fill="none" stroke="#ff7f0e" stroke-width="0.90" stroke-linejoin="miter"/>
<path d="M494.79 190.81 L495.29 192.37 L496.93 192.37 L495.60 193.33 L496.11 194.88 L494.79 193.92 L493.47 194.88 L493.97 193.33 L492.65 192.37 L494.28 192.37Z" fill="none" stroke="#ff7f0e" stroke-width="0.90" stroke-linejoin="miter"/>
<path d="M501.18 195.41 L501.68 196.97 L503.32 196.97 L501.99 197.93 L502.50 199.48 L501.18 198.52 L499.85 199.48 L500.36 197.93 L499.04 196.97 L500.67 196.97Z" fill="none" stroke="#ff7f0e" stroke-width="0.90" stroke-linejoin="miter"/>
<path d="M507.57 197.20 L508.07 198.75 L509.71 198.75 L508.38 199.72 L508.89 201.27 L507.57 200.31 L506.24 201.27 L506.75 199.72 L505.43 198.75 L507.06 198.75Z" fill="none" stroke="#ff7f0e" stroke-width="0.90" stroke-linejoin="miter"/>
<rect x="377.28" y="198.23" width="5.00" height="5.00" fill="none" stroke="#2ca02c" stroke-width="0.90"/>
<rect x="382.90" y="195.67" width="5.00" height="5.00" fill="none" stroke="#2ca02c" stroke-width="0.90"/>
<rect x="389.29" y="193.63" width="5.00" height="5.00" fill="none" stroke="#2ca02c" stroke-width="0.90"/>
<rect x="395.17" y="189.28" width="5.00" height="5.00" fill="none" stroke="#2ca02c" stroke-width="0.90"/>
<rect x="401.56" y="184.94" width="5.00" height="5.00" fill="none" stroke="#2ca02c" stroke-width="0.90"/>
<rect x="407.44" y="178.55" width="5.00" height="5.00" fill="none" stroke="#2ca02c" stroke-width="0.90"/>
<rect x="413.57" y="166.28" width="5.00" height="5.00" fill="none" stroke="#2ca02c" stroke-width="0.90"/>
<rect x="419.45" y="154.01" width="5.00" height="5.00" fill="none" stroke="#2ca02c" stroke-width="0.90"/>
<rect x="425.84" y="141.49" width="5.00" height="5.00" fill="none" stroke="#2ca02c" stroke-width="0.90"/>
<rect x="431.46" y="126.67" width="5.00" height="5.00" fill="none" stroke="#2ca02c" stroke-width="0.90"/>
<rect x="437.85" y="124.11" width="5.00" height="5.00" fill="none" stroke="#2ca02c" stroke-width="0.90"/>
<rect x="443.73" y="122.83" width="5.00" height="5.00" fill="none" stroke="#2ca02c" stroke-width="0.90"/>
<rect x="449.61" y="135.10" width="5.00" height="5.00" fill="none" stroke="#2ca02c" stroke-width="0.90"/>
<rect x="456.00" y="146.60" width="5.00" height="5.00" fill="none" stroke="#2ca02c" stroke-width="0.90"/>
<rect x="462.13" y="160.40" width="5.00" height="5.00" fill="none" stroke="#2ca02c" stroke-width="0.90"/>
<rect x="468.01" y="170.12" width="5.00" height="5.00" fill="none" stroke="#2ca02c" stroke-width="0.90"/>
<rect x="474.40" y="176.50" width="5.00" height="5.00" fill="none" stroke="#2ca02c" stroke-width="0.90"/>
<rect x="480.79" y="184.17" width="5.00" height="5.00" fill="none" stroke="#2ca02c" stroke-width="0.90"/>
<rect x="486.66" y="186.73" width="5.00" height="5.00" fill="none" stroke="#2ca02c" stroke-width="0.90"/>
<rect x="492.80" y="189.79" width="5.00" height="5.00" fill="none" stroke="#2ca02c" stroke-width="0.90"/>
<rect x="498.68" y="194.39" width="5.00" height="5.00" fill="none" stroke="#2ca02c" stroke-width="0.90"/>
<rect x="505.58" y="196.95" width="5.00" height="5.00" fill="none" stroke="#2ca02c" stroke-width="0.90"/>
<rect x="509.41" y="197.72" width="5.00" height="5.00" fill="none" stroke="#2ca02c" stroke-width="0.90"/>
</g>
<rect x="378.50" y="122.50" width="133.40" height="85.10" fill="none" stroke="#ababab" stroke-width="1.15"/>
<text x="381.00" y="140.80" font-size="12.2" font-weight="bold" fill="#000" stroke="#000" stroke-width="0.45" letter-spacing="1.35"><tspan font-size="11.0" dy="-0.75">(</tspan><tspan dy="0.75">g</tspan><tspan font-size="11.0" dy="-0.75">)</tspan></text>
<text x="445.00" y="227.50" font-size="11.5" text-anchor="middle" fill="#111"><tspan font-style="italic">x</tspan>/<tspan font-style="italic">t</tspan><tspan dy="-4.6" font-size="8.2">0.8</tspan></text>
<line x1="544.20" y1="203.80" x2="546.20" y2="203.80" stroke="#333" stroke-width="0.60"/>
<text x="543.60" y="206.80" font-size="6.30" text-anchor="end" font-weight="normal" font-style="normal" fill="#111"  letter-spacing="0.3" stroke="#222" stroke-width="0.1">0</text>
<line x1="544.20" y1="193.31" x2="546.20" y2="193.31" stroke="#333" stroke-width="0.60"/>
<text x="543.60" y="196.31" font-size="6.30" text-anchor="end" font-weight="normal" font-style="normal" fill="#111"  letter-spacing="0.3" stroke="#222" stroke-width="0.1">1</text>
<line x1="544.20" y1="182.82" x2="546.20" y2="182.82" stroke="#333" stroke-width="0.60"/>
<text x="543.60" y="185.82" font-size="6.30" text-anchor="end" font-weight="normal" font-style="normal" fill="#111"  letter-spacing="0.3" stroke="#222" stroke-width="0.1">2</text>
<line x1="544.20" y1="172.33" x2="546.20" y2="172.33" stroke="#333" stroke-width="0.60"/>
<text x="543.60" y="175.33" font-size="6.30" text-anchor="end" font-weight="normal" font-style="normal" fill="#111"  letter-spacing="0.3" stroke="#222" stroke-width="0.1">3</text>
<line x1="544.20" y1="161.84" x2="546.20" y2="161.84" stroke="#333" stroke-width="0.60"/>
<text x="543.60" y="164.84" font-size="6.30" text-anchor="end" font-weight="normal" font-style="normal" fill="#111"  letter-spacing="0.3" stroke="#222" stroke-width="0.1">4</text>
<line x1="544.20" y1="151.35" x2="546.20" y2="151.35" stroke="#333" stroke-width="0.60"/>
<text x="543.60" y="154.35" font-size="6.30" text-anchor="end" font-weight="normal" font-style="normal" fill="#111"  letter-spacing="0.3" stroke="#222" stroke-width="0.1">5</text>
<line x1="544.20" y1="140.86" x2="546.20" y2="140.86" stroke="#333" stroke-width="0.60"/>
<text x="543.60" y="143.86" font-size="6.30" text-anchor="end" font-weight="normal" font-style="normal" fill="#111"  letter-spacing="0.3" stroke="#222" stroke-width="0.1">6</text>
<line x1="544.20" y1="130.37" x2="546.20" y2="130.37" stroke="#333" stroke-width="0.60"/>
<text x="543.60" y="133.37" font-size="6.30" text-anchor="end" font-weight="normal" font-style="normal" fill="#111"  letter-spacing="0.3" stroke="#222" stroke-width="0.1">7</text>
<line x1="556.40" y1="207.80" x2="556.40" y2="209.80" stroke="#333" stroke-width="0.60"/>
<text x="556.40" y="215.80" font-size="6.30" text-anchor="middle" font-weight="normal" font-style="normal" fill="#111"  letter-spacing="0.3" stroke="#222" stroke-width="0.1">−1000</text>
<line x1="576.43" y1="207.80" x2="576.43" y2="209.80" stroke="#333" stroke-width="0.60"/>
<text x="576.43" y="215.80" font-size="6.30" text-anchor="middle" font-weight="normal" font-style="normal" fill="#111"  letter-spacing="0.3" stroke="#222" stroke-width="0.1">−500</text>
<line x1="596.46" y1="207.80" x2="596.46" y2="209.80" stroke="#333" stroke-width="0.60"/>
<text x="596.46" y="215.80" font-size="6.30" text-anchor="middle" font-weight="normal" font-style="normal" fill="#111"  letter-spacing="0.3" stroke="#222" stroke-width="0.1">0</text>
<line x1="616.49" y1="207.80" x2="616.49" y2="209.80" stroke="#333" stroke-width="0.60"/>
<text x="616.49" y="215.80" font-size="6.30" text-anchor="middle" font-weight="normal" font-style="normal" fill="#111"  letter-spacing="0.3" stroke="#222" stroke-width="0.1">500</text>
<line x1="636.52" y1="207.80" x2="636.52" y2="209.80" stroke="#333" stroke-width="0.60"/>
<text x="636.52" y="215.80" font-size="6.30" text-anchor="middle" font-weight="normal" font-style="normal" fill="#111"  letter-spacing="0.3" stroke="#222" stroke-width="0.1">1000</text>
<line x1="656.55" y1="207.80" x2="656.55" y2="209.80" stroke="#333" stroke-width="0.60"/>
<text x="656.55" y="215.80" font-size="6.30" text-anchor="middle" font-weight="normal" font-style="normal" fill="#111"  letter-spacing="0.3" stroke="#222" stroke-width="0.1">1500</text>
<line x1="676.58" y1="207.80" x2="676.58" y2="209.80" stroke="#333" stroke-width="0.60"/>
<text x="676.58" y="215.80" font-size="6.30" text-anchor="middle" font-weight="normal" font-style="normal" fill="#111"  letter-spacing="0.3" stroke="#222" stroke-width="0.1">2000</text>
<text x="546.00" y="119.80" font-size="8.60" text-anchor="start" font-weight="normal" font-style="normal" fill="#111" letter-spacing="1.0">1e−4</text>
<clipPath id="c8"><rect x="546.20" y="121.50" width="133.40" height="86.30"/></clipPath><g clip-path="url(#c8)">
<circle cx="552.10" cy="201.24" r="2.35" fill="none" stroke="#1f77b4" stroke-width="0.90"/>
<circle cx="558.49" cy="197.41" r="2.35" fill="none" stroke="#1f77b4" stroke-width="0.90"/>
<circle cx="564.88" cy="178.49" r="2.35" fill="none" stroke="#1f77b4" stroke-width="0.90"/>
<circle cx="570.50" cy="147.06" r="2.35" fill="none" stroke="#1f77b4" stroke-width="0.90"/>
<circle cx="576.89" cy="129.17" r="2.35" fill="none" stroke="#1f77b4" stroke-width="0.90"/>
<circle cx="583.28" cy="125.85" r="2.35" fill="none" stroke="#1f77b4" stroke-width="0.90"/>
<circle cx="588.90" cy="129.17" r="2.35" fill="none" stroke="#1f77b4" stroke-width="0.90"/>
<circle cx="594.78" cy="130.45" r="2.35" fill="none" stroke="#1f77b4" stroke-width="0.90"/>
<circle cx="601.17" cy="134.28" r="2.35" fill="none" stroke="#1f77b4" stroke-width="0.90"/>
<circle cx="607.05" cy="139.39" r="2.35" fill="none" stroke="#1f77b4" stroke-width="0.90"/>
<circle cx="613.18" cy="147.82" r="2.35" fill="none" stroke="#1f77b4" stroke-width="0.90"/>
<circle cx="619.06" cy="161.11" r="2.35" fill="none" stroke="#1f77b4" stroke-width="0.90"/>
<circle cx="624.94" cy="172.62" r="2.35" fill="none" stroke="#1f77b4" stroke-width="0.90"/>
<circle cx="631.07" cy="184.12" r="2.35" fill="none" stroke="#1f77b4" stroke-width="0.90"/>
<circle cx="637.46" cy="192.29" r="2.35" fill="none" stroke="#1f77b4" stroke-width="0.90"/>
<circle cx="643.34" cy="198.17" r="2.35" fill="none" stroke="#1f77b4" stroke-width="0.90"/>
<circle cx="649.73" cy="199.96" r="2.35" fill="none" stroke="#1f77b4" stroke-width="0.90"/>
<circle cx="655.61" cy="201.49" r="2.35" fill="none" stroke="#1f77b4" stroke-width="0.90"/>
<circle cx="662.00" cy="202.77" r="2.35" fill="none" stroke="#1f77b4" stroke-width="0.90"/>
<circle cx="667.62" cy="203.28" r="2.35" fill="none" stroke="#1f77b4" stroke-width="0.90"/>
<circle cx="673.50" cy="203.79" r="2.35" fill="none" stroke="#1f77b4" stroke-width="0.90"/>
<path d="M553.89 198.48 L554.40 200.03 L556.03 200.03 L554.71 200.99 L555.21 202.55 L553.89 201.59 L552.57 202.55 L553.07 200.99 L551.75 200.03 L553.39 200.03Z" fill="none" stroke="#ff7f0e" stroke-width="0.90" stroke-linejoin="miter"/>
<path d="M560.28 189.53 L560.79 191.09 L562.42 191.09 L561.10 192.05 L561.60 193.60 L560.28 192.64 L558.96 193.60 L559.46 192.05 L558.14 191.09 L559.78 191.09Z" fill="none" stroke="#ff7f0e" stroke-width="0.90" stroke-linejoin="miter"/>
<path d="M566.16 166.02 L566.66 167.58 L568.30 167.58 L566.98 168.54 L567.48 170.09 L566.16 169.13 L564.84 170.09 L565.34 168.54 L564.02 167.58 L565.65 167.58Z" fill="none" stroke="#ff7f0e" stroke-width="0.90" stroke-linejoin="miter"/>
<path d="M572.29 141.74 L572.80 143.30 L574.43 143.30 L573.11 144.26 L573.62 145.81 L572.29 144.85 L570.97 145.81 L571.48 144.26 L570.15 143.30 L571.79 143.30Z" fill="none" stroke="#ff7f0e" stroke-width="0.90" stroke-linejoin="miter"/>
<path d="M578.17 126.41 L578.68 127.96 L580.31 127.96 L578.99 128.92 L579.49 130.48 L578.17 129.52 L576.85 130.48 L577.35 128.92 L576.03 127.96 L577.67 127.96Z" fill="none" stroke="#ff7f0e" stroke-width="0.90" stroke-linejoin="miter"/>
<path d="M584.05 122.32 L584.55 123.87 L586.19 123.87 L584.87 124.83 L585.37 126.39 L584.05 125.43 L582.73 126.39 L583.23 124.83 L581.91 123.87 L583.54 123.87Z" fill="none" stroke="#ff7f0e" stroke-width="0.90" stroke-linejoin="miter"/>
<path d="M590.18 126.41 L590.69 127.96 L592.32 127.96 L591.00 128.92 L591.51 130.48 L590.18 129.52 L588.86 130.48 L589.37 128.92 L588.04 127.96 L589.68 127.96Z" fill="none" stroke="#ff7f0e" stroke-width="0.90" stroke-linejoin="miter"/>
<path d="M596.06 131.26 L596.57 132.82 L598.20 132.82 L596.88 133.78 L597.38 135.33 L596.06 134.37 L594.74 135.33 L595.24 133.78 L593.92 132.82 L595.56 132.82Z" fill="none" stroke="#ff7f0e" stroke-width="0.90" stroke-linejoin="miter"/>
<path d="M601.68 134.07 L602.19 135.63 L603.82 135.63 L602.50 136.59 L603.01 138.14 L601.68 137.18 L600.36 138.14 L600.87 136.59 L599.54 135.63 L601.18 135.63Z" fill="none" stroke="#ff7f0e" stroke-width="0.90" stroke-linejoin="miter"/>
<path d="M608.07 148.13 L608.58 149.69 L610.21 149.69 L608.89 150.65 L609.40 152.20 L608.07 151.24 L606.75 152.20 L607.26 150.65 L605.93 149.69 L607.57 149.69Z" fill="none" stroke="#ff7f0e" stroke-width="0.90" stroke-linejoin="miter"/>
<path d="M614.21 148.64 L614.71 150.20 L616.35 150.20 L615.02 151.16 L615.53 152.71 L614.21 151.75 L612.88 152.71 L613.39 151.16 L612.07 150.20 L613.70 150.20Z" fill="none" stroke="#ff7f0e" stroke-width="0.90" stroke-linejoin="miter"/>
<path d="M619.83 155.03 L620.33 156.59 L621.97 156.59 L620.65 157.55 L621.15 159.10 L619.83 158.14 L618.51 159.10 L619.01 157.55 L617.69 156.59 L619.32 156.59Z" fill="none" stroke="#ff7f0e" stroke-width="0.90" stroke-linejoin="miter"/>
<path d="M626.22 166.53 L626.72 168.09 L628.36 168.09 L627.04 169.05 L627.54 170.60 L626.22 169.64 L624.90 170.60 L625.40 169.05 L624.08 168.09 L625.71 168.09Z" fill="none" stroke="#ff7f0e" stroke-width="0.90" stroke-linejoin="miter"/>
<path d="M631.84 179.82 L632.35 181.38 L633.98 181.38 L632.66 182.34 L633.16 183.89 L631.84 182.93 L630.52 183.89 L631.02 182.34 L629.70 181.38 L631.34 181.38Z" fill="none" stroke="#ff7f0e" stroke-width="0.90" stroke-linejoin="miter"/>
<path d="M637.72 192.60 L638.22 194.15 L639.86 194.15 L638.54 195.12 L639.04 196.67 L637.72 195.71 L636.40 196.67 L636.90 195.12 L635.58 194.15 L637.21 194.15Z" fill="none" stroke="#ff7f0e" stroke-width="0.90" stroke-linejoin="miter"/>
<path d="M643.85 195.92 L644.36 197.48 L645.99 197.48 L644.67 198.44 L645.18 199.99 L643.85 199.03 L642.53 199.99 L643.04 198.44 L641.71 197.48 L643.35 197.48Z" fill="none" stroke="#ff7f0e" stroke-width="0.90" stroke-linejoin="miter"/>
<path d="M650.24 198.48 L650.75 200.03 L652.38 200.03 L651.06 200.99 L651.56 202.55 L650.24 201.59 L648.92 202.55 L649.42 200.99 L648.10 200.03 L649.74 200.03Z" fill="none" stroke="#ff7f0e" stroke-width="0.90" stroke-linejoin="miter"/>
<path d="M656.12 200.27 L656.63 201.82 L658.26 201.82 L656.94 202.78 L657.44 204.34 L656.12 203.38 L654.80 204.34 L655.30 202.78 L653.98 201.82 L655.62 201.82Z" fill="none" stroke="#ff7f0e" stroke-width="0.90" stroke-linejoin="miter"/>
<path d="M662.00 201.03 L662.50 202.59 L664.14 202.59 L662.82 203.55 L663.32 205.10 L662.00 204.14 L660.68 205.10 L661.18 203.55 L659.86 202.59 L661.49 202.59Z" fill="none" stroke="#ff7f0e" stroke-width="0.90" stroke-linejoin="miter"/>
<path d="M667.62 201.03 L668.13 202.59 L669.76 202.59 L668.44 203.55 L668.94 205.10 L667.62 204.14 L666.30 205.10 L666.80 203.55 L665.48 202.59 L667.12 202.59Z" fill="none" stroke="#ff7f0e" stroke-width="0.90" stroke-linejoin="miter"/>
<rect x="549.60" y="198.99" width="5.00" height="5.00" fill="none" stroke="#2ca02c" stroke-width="0.90"/>
<rect x="555.23" y="191.84" width="5.00" height="5.00" fill="none" stroke="#2ca02c" stroke-width="0.90"/>
<rect x="562.13" y="174.46" width="5.00" height="5.00" fill="none" stroke="#2ca02c" stroke-width="0.90"/>
<rect x="568.51" y="144.05" width="5.00" height="5.00" fill="none" stroke="#2ca02c" stroke-width="0.90"/>
<rect x="574.39" y="125.90" width="5.00" height="5.00" fill="none" stroke="#2ca02c" stroke-width="0.90"/>
<rect x="580.27" y="123.60" width="5.00" height="5.00" fill="none" stroke="#2ca02c" stroke-width="0.90"/>
<rect x="586.40" y="132.29" width="5.00" height="5.00" fill="none" stroke="#2ca02c" stroke-width="0.90"/>
<rect x="592.28" y="138.17" width="5.00" height="5.00" fill="none" stroke="#2ca02c" stroke-width="0.90"/>
<rect x="598.67" y="133.57" width="5.00" height="5.00" fill="none" stroke="#2ca02c" stroke-width="0.90"/>
<rect x="604.55" y="139.45" width="5.00" height="5.00" fill="none" stroke="#2ca02c" stroke-width="0.90"/>
<rect x="610.68" y="152.99" width="5.00" height="5.00" fill="none" stroke="#2ca02c" stroke-width="0.90"/>
<rect x="617.07" y="154.01" width="5.00" height="5.00" fill="none" stroke="#2ca02c" stroke-width="0.90"/>
<rect x="622.18" y="159.38" width="5.00" height="5.00" fill="none" stroke="#2ca02c" stroke-width="0.90"/>
<rect x="628.83" y="179.57" width="5.00" height="5.00" fill="none" stroke="#2ca02c" stroke-width="0.90"/>
<rect x="634.96" y="187.24" width="5.00" height="5.00" fill="none" stroke="#2ca02c" stroke-width="0.90"/>
<rect x="641.35" y="195.16" width="5.00" height="5.00" fill="none" stroke="#2ca02c" stroke-width="0.90"/>
<rect x="647.23" y="198.74" width="5.00" height="5.00" fill="none" stroke="#2ca02c" stroke-width="0.90"/>
<rect x="653.62" y="200.02" width="5.00" height="5.00" fill="none" stroke="#2ca02c" stroke-width="0.90"/>
<rect x="659.50" y="200.78" width="5.00" height="5.00" fill="none" stroke="#2ca02c" stroke-width="0.90"/>
<rect x="665.12" y="200.78" width="5.00" height="5.00" fill="none" stroke="#2ca02c" stroke-width="0.90"/>
</g>
<rect x="546.20" y="121.50" width="133.40" height="86.30" fill="none" stroke="#ababab" stroke-width="1.15"/>
<text x="550.00" y="140.80" font-size="12.2" font-weight="bold" fill="#000" stroke="#000" stroke-width="0.45" letter-spacing="1.35"><tspan font-size="11.0" dy="-0.75">(</tspan><tspan dy="0.75">h</tspan><tspan font-size="11.0" dy="-0.75">)</tspan></text>
<text x="612.70" y="227.70" font-size="11.5" text-anchor="middle" fill="#111"><tspan font-style="italic">x</tspan>/<tspan font-style="italic">t</tspan><tspan dy="-4.6" font-size="8.2">0.8</tspan></text>
<line x1="29.90" y1="259.00" x2="31.90" y2="259.00" stroke="#333" stroke-width="0.60"/>
<text x="29.30" y="262.00" font-size="6.30" text-anchor="end" font-weight="normal" font-style="normal" fill="#111"  letter-spacing="0.3" stroke="#222" stroke-width="0.1">10<tspan dy="-1.9" font-size="4.41" letter-spacing="0.55">0</tspan></text>
<line x1="29.90" y1="305.00" x2="31.90" y2="305.00" stroke="#333" stroke-width="0.60"/>
<text x="29.30" y="308.00" font-size="6.30" text-anchor="end" font-weight="normal" font-style="normal" fill="#111"  letter-spacing="0.3" stroke="#222" stroke-width="0.1">10<tspan dy="-1.9" font-size="4.41" letter-spacing="0.55">−1</tspan></text>
<line x1="30.70" y1="318.85" x2="31.90" y2="318.85" stroke="#333" stroke-width="0.50"/>
<line x1="30.70" y1="315.21" x2="31.90" y2="315.21" stroke="#333" stroke-width="0.50"/>
<line x1="30.70" y1="312.13" x2="31.90" y2="312.13" stroke="#333" stroke-width="0.50"/>
<line x1="30.70" y1="309.46" x2="31.90" y2="309.46" stroke="#333" stroke-width="0.50"/>
<line x1="30.70" y1="307.10" x2="31.90" y2="307.10" stroke="#333" stroke-width="0.50"/>
<line x1="30.70" y1="291.15" x2="31.90" y2="291.15" stroke="#333" stroke-width="0.50"/>
<line x1="30.70" y1="283.05" x2="31.90" y2="283.05" stroke="#333" stroke-width="0.50"/>
<line x1="30.70" y1="277.31" x2="31.90" y2="277.31" stroke="#333" stroke-width="0.50"/>
<line x1="30.70" y1="272.85" x2="31.90" y2="272.85" stroke="#333" stroke-width="0.50"/>
<line x1="30.70" y1="269.21" x2="31.90" y2="269.21" stroke="#333" stroke-width="0.50"/>
<line x1="30.70" y1="266.13" x2="31.90" y2="266.13" stroke="#333" stroke-width="0.50"/>
<line x1="30.70" y1="263.46" x2="31.90" y2="263.46" stroke="#333" stroke-width="0.50"/>
<line x1="30.70" y1="261.10" x2="31.90" y2="261.10" stroke="#333" stroke-width="0.50"/>
<line x1="30.70" y1="245.15" x2="31.90" y2="245.15" stroke="#333" stroke-width="0.50"/>
<line x1="30.70" y1="237.05" x2="31.90" y2="237.05" stroke="#333" stroke-width="0.50"/>
<line x1="37.80" y1="322.60" x2="37.80" y2="324.60" stroke="#333" stroke-width="0.60"/>
<text x="38.40" y="330.10" font-size="6.30" text-anchor="middle" font-weight="normal" font-style="normal" fill="#111"  letter-spacing="0.3" stroke="#222" stroke-width="0.1">10<tspan dy="-1.9" font-size="4.41" letter-spacing="0.55">0</tspan></text>
<line x1="98.50" y1="322.60" x2="98.50" y2="324.60" stroke="#333" stroke-width="0.60"/>
<text x="99.10" y="330.10" font-size="6.30" text-anchor="middle" font-weight="normal" font-style="normal" fill="#111"  letter-spacing="0.3" stroke="#222" stroke-width="0.1">10<tspan dy="-1.9" font-size="4.41" letter-spacing="0.55">1</tspan></text>
<line x1="159.20" y1="322.60" x2="159.20" y2="324.60" stroke="#333" stroke-width="0.60"/>
<text x="159.80" y="330.10" font-size="6.30" text-anchor="middle" font-weight="normal" font-style="normal" fill="#111"  letter-spacing="0.3" stroke="#222" stroke-width="0.1">10<tspan dy="-1.9" font-size="4.41" letter-spacing="0.55">2</tspan></text>
<line x1="35.02" y1="322.60" x2="35.02" y2="323.80" stroke="#333" stroke-width="0.50"/>
<line x1="56.07" y1="322.60" x2="56.07" y2="323.80" stroke="#333" stroke-width="0.50"/>
<line x1="66.76" y1="322.60" x2="66.76" y2="323.80" stroke="#333" stroke-width="0.50"/>
<line x1="74.35" y1="322.60" x2="74.35" y2="323.80" stroke="#333" stroke-width="0.50"/>
<line x1="80.23" y1="322.60" x2="80.23" y2="323.80" stroke="#333" stroke-width="0.50"/>
<line x1="85.03" y1="322.60" x2="85.03" y2="323.80" stroke="#333" stroke-width="0.50"/>
<line x1="89.10" y1="322.60" x2="89.10" y2="323.80" stroke="#333" stroke-width="0.50"/>
<line x1="92.62" y1="322.60" x2="92.62" y2="323.80" stroke="#333" stroke-width="0.50"/>
<line x1="95.72" y1="322.60" x2="95.72" y2="323.80" stroke="#333" stroke-width="0.50"/>
<line x1="116.77" y1="322.60" x2="116.77" y2="323.80" stroke="#333" stroke-width="0.50"/>
<line x1="127.46" y1="322.60" x2="127.46" y2="323.80" stroke="#333" stroke-width="0.50"/>
<line x1="135.05" y1="322.60" x2="135.05" y2="323.80" stroke="#333" stroke-width="0.50"/>
<line x1="140.93" y1="322.60" x2="140.93" y2="323.80" stroke="#333" stroke-width="0.50"/>
<line x1="145.73" y1="322.60" x2="145.73" y2="323.80" stroke="#333" stroke-width="0.50"/>
<line x1="149.80" y1="322.60" x2="149.80" y2="323.80" stroke="#333" stroke-width="0.50"/>
<line x1="153.32" y1="322.60" x2="153.32" y2="323.80" stroke="#333" stroke-width="0.50"/>
<line x1="156.42" y1="322.60" x2="156.42" y2="323.80" stroke="#333" stroke-width="0.50"/>
<clipPath id="c9"><rect x="31.90" y="236.50" width="133.70" height="86.10"/></clipPath><g clip-path="url(#c9)">
<line x1="37.80" y1="239.80" x2="159.20" y2="318.30" stroke="#000" stroke-width="1.05" stroke-dasharray="2.8,1.2"/>
<line x1="37.80" y1="272.80" x2="159.20" y2="287.10" stroke="#ff0000" stroke-width="1.05" stroke-dasharray="2.8,1.2"/>
<path d="M37.82 265.44 L38.39 267.16 L40.20 267.16 L38.73 268.23 L39.29 269.96 L37.82 268.89 L36.36 269.96 L36.92 268.23 L35.45 267.16 L37.26 267.16Z" fill="none" stroke="#1f77b4" stroke-width="1.0" stroke-linejoin="miter"/>
<path d="M46.51 265.44 L47.08 267.16 L48.89 267.16 L47.42 268.23 L47.98 269.96 L46.51 268.89 L45.04 269.96 L45.61 268.23 L44.14 267.16 L45.95 267.16Z" fill="none" stroke="#1f77b4" stroke-width="1.0" stroke-linejoin="miter"/>
<path d="M54.95 265.44 L55.51 267.16 L57.33 267.16 L55.86 268.23 L56.42 269.96 L54.95 268.89 L53.48 269.96 L54.04 268.23 L52.57 267.16 L54.39 267.16Z" fill="none" stroke="#1f77b4" stroke-width="1.0" stroke-linejoin="miter"/>
<path d="M63.89 268.50 L64.45 270.23 L66.27 270.23 L64.80 271.30 L65.36 273.03 L63.89 271.96 L62.42 273.03 L62.98 271.30 L61.52 270.23 L63.33 270.23Z" fill="none" stroke="#1f77b4" stroke-width="1.0" stroke-linejoin="miter"/>
<path d="M72.33 270.29 L72.89 272.02 L74.70 272.02 L73.24 273.09 L73.80 274.81 L72.33 273.75 L70.86 274.81 L71.42 273.09 L69.95 272.02 L71.77 272.02Z" fill="none" stroke="#1f77b4" stroke-width="1.0" stroke-linejoin="miter"/>
<path d="M81.02 273.61 L81.58 275.34 L83.39 275.34 L81.92 276.41 L82.49 278.14 L81.02 277.07 L79.55 278.14 L80.11 276.41 L78.64 275.34 L80.46 275.34Z" fill="none" stroke="#1f77b4" stroke-width="1.0" stroke-linejoin="miter"/>
<path d="M89.45 276.17 L90.01 277.90 L91.83 277.90 L90.36 278.97 L90.92 280.69 L89.45 279.63 L87.98 280.69 L88.54 278.97 L87.07 277.90 L88.89 277.90Z" fill="none" stroke="#1f77b4" stroke-width="1.0" stroke-linejoin="miter"/>
<path d="M98.40 280.00 L98.96 281.73 L100.77 281.73 L99.30 282.80 L99.86 284.53 L98.40 283.46 L96.93 284.53 L97.49 282.80 L96.02 281.73 L97.83 281.73Z" fill="none" stroke="#1f77b4" stroke-width="1.0" stroke-linejoin="miter"/>
<path d="M107.34 283.07 L107.90 284.80 L109.72 284.80 L108.25 285.87 L108.81 287.59 L107.34 286.53 L105.87 287.59 L106.43 285.87 L104.96 284.80 L106.78 284.80Z" fill="none" stroke="#1f77b4" stroke-width="1.0" stroke-linejoin="miter"/>
<path d="M115.77 286.90 L116.34 288.63 L118.15 288.63 L116.68 289.70 L117.24 291.43 L115.77 290.36 L114.30 291.43 L114.87 289.70 L113.40 288.63 L115.21 288.63Z" fill="none" stroke="#1f77b4" stroke-width="1.0" stroke-linejoin="miter"/>
<path d="M124.46 290.99 L125.02 292.72 L126.84 292.72 L125.37 293.79 L125.93 295.52 L124.46 294.45 L122.99 295.52 L123.56 293.79 L122.09 292.72 L123.90 292.72Z" fill="none" stroke="#1f77b4" stroke-width="1.0" stroke-linejoin="miter"/>
<path d="M132.90 295.85 L133.46 297.58 L135.28 297.58 L133.81 298.64 L134.37 300.37 L132.90 299.30 L131.43 300.37 L131.99 298.64 L130.52 297.58 L132.34 297.58Z" fill="none" stroke="#1f77b4" stroke-width="1.0" stroke-linejoin="miter"/>
<path d="M141.33 300.96 L141.89 302.69 L143.71 302.69 L142.24 303.76 L142.80 305.48 L141.33 304.42 L139.86 305.48 L140.42 303.76 L138.95 302.69 L140.77 302.69Z" fill="none" stroke="#1f77b4" stroke-width="1.0" stroke-linejoin="miter"/>
<path d="M150.28 306.07 L150.84 307.80 L152.65 307.80 L151.18 308.87 L151.75 310.59 L150.28 309.53 L148.81 310.59 L149.37 308.87 L147.90 307.80 L149.72 307.80Z" fill="none" stroke="#1f77b4" stroke-width="1.0" stroke-linejoin="miter"/>
<path d="M159.22 311.95 L159.78 313.68 L161.60 313.68 L160.13 314.75 L160.69 316.47 L159.22 315.41 L157.75 316.47 L158.31 314.75 L156.84 313.68 L158.66 313.68Z" fill="none" stroke="#1f77b4" stroke-width="1.0" stroke-linejoin="miter"/>
<circle cx="55.71" cy="274.84" r="2.7" fill="none" stroke="#ff7f0e" stroke-width="0.9"/>
<circle cx="66.96" cy="276.88" r="2.7" fill="none" stroke="#ff7f0e" stroke-width="0.9"/>
<circle cx="80.51" cy="278.16" r="2.7" fill="none" stroke="#ff7f0e" stroke-width="0.9"/>
<circle cx="89.45" cy="278.67" r="2.7" fill="none" stroke="#ff7f0e" stroke-width="0.9"/>
<circle cx="98.40" cy="279.18" r="2.7" fill="none" stroke="#ff7f0e" stroke-width="0.9"/>
<circle cx="105.55" cy="279.95" r="2.7" fill="none" stroke="#ff7f0e" stroke-width="0.9"/>
<circle cx="115.01" cy="280.71" r="2.7" fill="none" stroke="#ff7f0e" stroke-width="0.9"/>
<circle cx="123.44" cy="281.74" r="2.7" fill="none" stroke="#ff7f0e" stroke-width="0.9"/>
<circle cx="132.90" cy="282.50" r="2.7" fill="none" stroke="#ff7f0e" stroke-width="0.9"/>
<circle cx="141.33" cy="284.55" r="2.7" fill="none" stroke="#ff7f0e" stroke-width="0.9"/>
<circle cx="150.28" cy="286.85" r="2.7" fill="none" stroke="#ff7f0e" stroke-width="0.9"/>
<circle cx="159.22" cy="286.85" r="2.7" fill="none" stroke="#ff7f0e" stroke-width="0.9"/>
</g>
<rect x="31.90" y="236.50" width="133.70" height="86.10" fill="none" stroke="#ababab" stroke-width="1.15"/>
<text x="33.60" y="319.30" font-size="12.2" font-weight="bold" fill="#000" stroke="#000" stroke-width="0.45" letter-spacing="1.35"><tspan font-size="11.0" dy="-0.75">(</tspan><tspan dy="0.75">a'</tspan><tspan font-size="11.0" dy="-0.75">)</tspan></text>
<text x="98.75" y="338.90" font-size="9.50" text-anchor="middle" font-weight="normal" font-style="normal" fill="#111" >τ</text>
<text transform="translate(12.40,279.55) rotate(-90)" font-size="9.3" text-anchor="middle" fill="#111"><tspan font-style="italic">S</tspan>(τ)</text>
<line x1="205.80" y1="241.10" x2="207.80" y2="241.10" stroke="#333" stroke-width="0.60"/>
<text x="205.20" y="244.10" font-size="6.30" text-anchor="end" font-weight="normal" font-style="normal" fill="#111"  letter-spacing="0.3" stroke="#222" stroke-width="0.1">10<tspan dy="-1.9" font-size="4.41" letter-spacing="0.55">0</tspan></text>
<line x1="205.80" y1="318.80" x2="207.80" y2="318.80" stroke="#333" stroke-width="0.60"/>
<text x="205.20" y="321.80" font-size="6.30" text-anchor="end" font-weight="normal" font-style="normal" fill="#111"  letter-spacing="0.3" stroke="#222" stroke-width="0.1">10<tspan dy="-1.9" font-size="4.41" letter-spacing="0.55">−1</tspan></text>
<line x1="206.60" y1="322.36" x2="207.80" y2="322.36" stroke="#333" stroke-width="0.50"/>
<line x1="206.60" y1="295.41" x2="207.80" y2="295.41" stroke="#333" stroke-width="0.50"/>
<line x1="206.60" y1="281.73" x2="207.80" y2="281.73" stroke="#333" stroke-width="0.50"/>
<line x1="206.60" y1="272.02" x2="207.80" y2="272.02" stroke="#333" stroke-width="0.50"/>
<line x1="206.60" y1="264.49" x2="207.80" y2="264.49" stroke="#333" stroke-width="0.50"/>
<line x1="206.60" y1="258.34" x2="207.80" y2="258.34" stroke="#333" stroke-width="0.50"/>
<line x1="206.60" y1="253.14" x2="207.80" y2="253.14" stroke="#333" stroke-width="0.50"/>
<line x1="206.60" y1="248.63" x2="207.80" y2="248.63" stroke="#333" stroke-width="0.50"/>
<line x1="206.60" y1="244.66" x2="207.80" y2="244.66" stroke="#333" stroke-width="0.50"/>
<line x1="213.40" y1="323.40" x2="213.40" y2="325.40" stroke="#333" stroke-width="0.60"/>
<text x="214.00" y="330.90" font-size="6.30" text-anchor="middle" font-weight="normal" font-style="normal" fill="#111"  letter-spacing="0.3" stroke="#222" stroke-width="0.1">10<tspan dy="-1.9" font-size="4.41" letter-spacing="0.55">0</tspan></text>
<line x1="294.20" y1="323.40" x2="294.20" y2="325.40" stroke="#333" stroke-width="0.60"/>
<text x="294.80" y="330.90" font-size="6.30" text-anchor="middle" font-weight="normal" font-style="normal" fill="#111"  letter-spacing="0.3" stroke="#222" stroke-width="0.1">10<tspan dy="-1.9" font-size="4.41" letter-spacing="0.55">1</tspan></text>
<line x1="209.70" y1="323.40" x2="209.70" y2="324.60" stroke="#333" stroke-width="0.50"/>
<line x1="237.72" y1="323.40" x2="237.72" y2="324.60" stroke="#333" stroke-width="0.50"/>
<line x1="251.95" y1="323.40" x2="251.95" y2="324.60" stroke="#333" stroke-width="0.50"/>
<line x1="262.05" y1="323.40" x2="262.05" y2="324.60" stroke="#333" stroke-width="0.50"/>
<line x1="269.88" y1="323.40" x2="269.88" y2="324.60" stroke="#333" stroke-width="0.50"/>
<line x1="276.27" y1="323.40" x2="276.27" y2="324.60" stroke="#333" stroke-width="0.50"/>
<line x1="281.68" y1="323.40" x2="281.68" y2="324.60" stroke="#333" stroke-width="0.50"/>
<line x1="286.37" y1="323.40" x2="286.37" y2="324.60" stroke="#333" stroke-width="0.50"/>
<line x1="290.50" y1="323.40" x2="290.50" y2="324.60" stroke="#333" stroke-width="0.50"/>
<line x1="318.52" y1="323.40" x2="318.52" y2="324.60" stroke="#333" stroke-width="0.50"/>
<line x1="332.75" y1="323.40" x2="332.75" y2="324.60" stroke="#333" stroke-width="0.50"/>
<clipPath id="c10"><rect x="207.80" y="237.00" width="132.90" height="86.40"/></clipPath><g clip-path="url(#c10)">
<line x1="213.40" y1="249.80" x2="334.30" y2="319.00" stroke="#000" stroke-width="1.05" stroke-dasharray="2.8,1.2"/>
<line x1="213.40" y1="249.80" x2="333.00" y2="294.50" stroke="#ff0000" stroke-width="1.05" stroke-dasharray="2.8,1.2"/>
<path d="M213.40 238.60 L213.96 240.33 L215.78 240.33 L214.31 241.40 L214.87 243.12 L213.40 242.06 L211.93 243.12 L212.49 241.40 L211.03 240.33 L212.84 240.33Z" fill="none" stroke="#1f77b4" stroke-width="1.0" stroke-linejoin="miter"/>
<path d="M221.84 262.88 L222.40 264.61 L224.21 264.61 L222.74 265.68 L223.31 267.40 L221.84 266.34 L220.37 267.40 L220.93 265.68 L219.46 264.61 L221.28 264.61Z" fill="none" stroke="#1f77b4" stroke-width="1.0" stroke-linejoin="miter"/>
<path d="M230.78 262.88 L231.34 264.61 L233.16 264.61 L231.69 265.68 L232.25 267.40 L230.78 266.34 L229.31 267.40 L229.87 265.68 L228.40 264.61 L230.22 264.61Z" fill="none" stroke="#1f77b4" stroke-width="1.0" stroke-linejoin="miter"/>
<path d="M239.22 271.57 L239.78 273.30 L241.59 273.30 L240.12 274.36 L240.68 276.09 L239.22 275.02 L237.75 276.09 L238.31 274.36 L236.84 273.30 L238.65 273.30Z" fill="none" stroke="#1f77b4" stroke-width="1.0" stroke-linejoin="miter"/>
<path d="M247.90 271.57 L248.47 273.30 L250.28 273.30 L248.81 274.36 L249.37 276.09 L247.90 275.02 L246.44 276.09 L247.00 274.36 L245.53 273.30 L247.34 273.30Z" fill="none" stroke="#1f77b4" stroke-width="1.0" stroke-linejoin="miter"/>
<path d="M256.85 276.94 L257.41 278.66 L259.23 278.66 L257.76 279.73 L258.32 281.46 L256.85 280.39 L255.38 281.46 L255.94 279.73 L254.47 278.66 L256.29 278.66Z" fill="none" stroke="#1f77b4" stroke-width="1.0" stroke-linejoin="miter"/>
<path d="M265.28 281.79 L265.85 283.52 L267.66 283.52 L266.19 284.59 L266.75 286.32 L265.28 285.25 L263.81 286.32 L264.38 284.59 L262.91 283.52 L264.72 283.52Z" fill="none" stroke="#1f77b4" stroke-width="1.0" stroke-linejoin="miter"/>
<path d="M274.23 285.12 L274.79 286.84 L276.61 286.84 L275.14 287.91 L275.70 289.64 L274.23 288.57 L272.76 289.64 L273.32 287.91 L271.85 286.84 L273.67 286.84Z" fill="none" stroke="#1f77b4" stroke-width="1.0" stroke-linejoin="miter"/>
<path d="M282.66 289.46 L283.22 291.19 L285.04 291.19 L283.57 292.25 L284.13 293.98 L282.66 292.91 L281.19 293.98 L281.75 292.25 L280.29 291.19 L282.10 291.19Z" fill="none" stroke="#1f77b4" stroke-width="1.0" stroke-linejoin="miter"/>
<path d="M291.35 293.29 L291.91 295.02 L293.73 295.02 L292.26 296.09 L292.82 297.82 L291.35 296.75 L289.88 297.82 L290.44 296.09 L288.97 295.02 L290.79 295.02Z" fill="none" stroke="#1f77b4" stroke-width="1.0" stroke-linejoin="miter"/>
<path d="M299.79 297.13 L300.35 298.85 L302.16 298.85 L300.69 299.92 L301.26 301.65 L299.79 300.58 L298.32 301.65 L298.88 299.92 L297.41 298.85 L299.22 298.85Z" fill="none" stroke="#1f77b4" stroke-width="1.0" stroke-linejoin="miter"/>
<path d="M308.73 301.73 L309.29 303.45 L311.11 303.45 L309.64 304.52 L310.20 306.25 L308.73 305.18 L307.26 306.25 L307.82 304.52 L306.35 303.45 L308.17 303.45Z" fill="none" stroke="#1f77b4" stroke-width="1.0" stroke-linejoin="miter"/>
<path d="M317.16 305.56 L317.73 307.29 L319.54 307.29 L318.07 308.36 L318.63 310.08 L317.16 309.02 L315.70 310.08 L316.26 308.36 L314.79 307.29 L316.60 307.29Z" fill="none" stroke="#1f77b4" stroke-width="1.0" stroke-linejoin="miter"/>
<path d="M325.85 311.44 L326.42 313.17 L328.23 313.17 L326.76 314.23 L327.32 315.96 L325.85 314.89 L324.38 315.96 L324.95 314.23 L323.48 313.17 L325.29 313.17Z" fill="none" stroke="#1f77b4" stroke-width="1.0" stroke-linejoin="miter"/>
<path d="M334.29 317.06 L334.85 318.79 L336.67 318.79 L335.20 319.86 L335.76 321.58 L334.29 320.52 L332.82 321.58 L333.38 319.86 L331.91 318.79 L333.73 318.79Z" fill="none" stroke="#1f77b4" stroke-width="1.0" stroke-linejoin="miter"/>
<circle cx="213.40" cy="241.10" r="2.7" fill="none" stroke="#ff7f0e" stroke-width="0.9"/>
<circle cx="237.68" cy="264.61" r="2.7" fill="none" stroke="#ff7f0e" stroke-width="0.9"/>
<circle cx="251.99" cy="272.28" r="2.7" fill="none" stroke="#ff7f0e" stroke-width="0.9"/>
<circle cx="262.22" cy="275.60" r="2.7" fill="none" stroke="#ff7f0e" stroke-width="0.9"/>
<circle cx="269.63" cy="275.60" r="2.7" fill="none" stroke="#ff7f0e" stroke-width="0.9"/>
<circle cx="281.90" cy="275.60" r="2.7" fill="none" stroke="#ff7f0e" stroke-width="0.9"/>
<circle cx="290.33" cy="279.18" r="2.7" fill="none" stroke="#ff7f0e" stroke-width="0.9"/>
<circle cx="297.23" cy="283.27" r="2.7" fill="none" stroke="#ff7f0e" stroke-width="0.9"/>
<circle cx="308.22" cy="283.27" r="2.7" fill="none" stroke="#ff7f0e" stroke-width="0.9"/>
<circle cx="316.40" cy="287.62" r="2.7" fill="none" stroke="#ff7f0e" stroke-width="0.9"/>
<circle cx="324.83" cy="292.73" r="2.7" fill="none" stroke="#ff7f0e" stroke-width="0.9"/>
<circle cx="333.78" cy="292.73" r="2.7" fill="none" stroke="#ff7f0e" stroke-width="0.9"/>
</g>
<rect x="207.80" y="237.00" width="132.90" height="86.40" fill="none" stroke="#ababab" stroke-width="1.15"/>
<text x="209.80" y="319.30" font-size="12.2" font-weight="bold" fill="#000" stroke="#000" stroke-width="0.45" letter-spacing="1.35"><tspan font-size="11.0" dy="-0.75">(</tspan><tspan dy="0.75">b'</tspan><tspan font-size="11.0" dy="-0.75">)</tspan></text>
<text x="274.25" y="339.70" font-size="9.50" text-anchor="middle" font-weight="normal" font-style="normal" fill="#111" >τ</text>
<text transform="translate(188.30,280.20) rotate(-90)" font-size="9.3" text-anchor="middle" fill="#111"><tspan font-style="italic">S</tspan>(τ)</text>
<line x1="377.80" y1="240.80" x2="379.80" y2="240.80" stroke="#333" stroke-width="0.60"/>
<text x="377.20" y="243.80" font-size="6.30" text-anchor="end" font-weight="normal" font-style="normal" fill="#111"  letter-spacing="0.3" stroke="#222" stroke-width="0.1">10<tspan dy="-1.9" font-size="4.41" letter-spacing="0.55">0</tspan></text>
<line x1="377.80" y1="295.30" x2="379.80" y2="295.30" stroke="#333" stroke-width="0.60"/>
<text x="377.20" y="298.30" font-size="6.30" text-anchor="end" font-weight="normal" font-style="normal" fill="#111"  letter-spacing="0.3" stroke="#222" stroke-width="0.1">10<tspan dy="-1.9" font-size="4.41" letter-spacing="0.55">−1</tspan></text>
<line x1="378.60" y1="316.99" x2="379.80" y2="316.99" stroke="#333" stroke-width="0.50"/>
<line x1="378.60" y1="311.71" x2="379.80" y2="311.71" stroke="#333" stroke-width="0.50"/>
<line x1="378.60" y1="307.39" x2="379.80" y2="307.39" stroke="#333" stroke-width="0.50"/>
<line x1="378.60" y1="303.74" x2="379.80" y2="303.74" stroke="#333" stroke-width="0.50"/>
<line x1="378.60" y1="300.58" x2="379.80" y2="300.58" stroke="#333" stroke-width="0.50"/>
<line x1="378.60" y1="297.79" x2="379.80" y2="297.79" stroke="#333" stroke-width="0.50"/>
<line x1="378.60" y1="278.89" x2="379.80" y2="278.89" stroke="#333" stroke-width="0.50"/>
<line x1="378.60" y1="269.30" x2="379.80" y2="269.30" stroke="#333" stroke-width="0.50"/>
<line x1="378.60" y1="262.49" x2="379.80" y2="262.49" stroke="#333" stroke-width="0.50"/>
<line x1="378.60" y1="257.21" x2="379.80" y2="257.21" stroke="#333" stroke-width="0.50"/>
<line x1="378.60" y1="252.89" x2="379.80" y2="252.89" stroke="#333" stroke-width="0.50"/>
<line x1="378.60" y1="249.24" x2="379.80" y2="249.24" stroke="#333" stroke-width="0.50"/>
<line x1="378.60" y1="246.08" x2="379.80" y2="246.08" stroke="#333" stroke-width="0.50"/>
<line x1="378.60" y1="243.29" x2="379.80" y2="243.29" stroke="#333" stroke-width="0.50"/>
<line x1="385.40" y1="323.40" x2="385.40" y2="325.40" stroke="#333" stroke-width="0.60"/>
<text x="386.00" y="330.90" font-size="6.30" text-anchor="middle" font-weight="normal" font-style="normal" fill="#111"  letter-spacing="0.3" stroke="#222" stroke-width="0.1">10<tspan dy="-1.9" font-size="4.41" letter-spacing="0.55">0</tspan></text>
<line x1="446.10" y1="323.40" x2="446.10" y2="325.40" stroke="#333" stroke-width="0.60"/>
<text x="446.70" y="330.90" font-size="6.30" text-anchor="middle" font-weight="normal" font-style="normal" fill="#111"  letter-spacing="0.3" stroke="#222" stroke-width="0.1">10<tspan dy="-1.9" font-size="4.41" letter-spacing="0.55">1</tspan></text>
<line x1="506.80" y1="323.40" x2="506.80" y2="325.40" stroke="#333" stroke-width="0.60"/>
<text x="507.40" y="330.90" font-size="6.30" text-anchor="middle" font-weight="normal" font-style="normal" fill="#111"  letter-spacing="0.3" stroke="#222" stroke-width="0.1">10<tspan dy="-1.9" font-size="4.41" letter-spacing="0.55">2</tspan></text>
<line x1="382.62" y1="323.40" x2="382.62" y2="324.60" stroke="#333" stroke-width="0.50"/>
<line x1="403.67" y1="323.40" x2="403.67" y2="324.60" stroke="#333" stroke-width="0.50"/>
<line x1="414.36" y1="323.40" x2="414.36" y2="324.60" stroke="#333" stroke-width="0.50"/>
<line x1="421.95" y1="323.40" x2="421.95" y2="324.60" stroke="#333" stroke-width="0.50"/>
<line x1="427.83" y1="323.40" x2="427.83" y2="324.60" stroke="#333" stroke-width="0.50"/>
<line x1="432.63" y1="323.40" x2="432.63" y2="324.60" stroke="#333" stroke-width="0.50"/>
<line x1="436.70" y1="323.40" x2="436.70" y2="324.60" stroke="#333" stroke-width="0.50"/>
<line x1="440.22" y1="323.40" x2="440.22" y2="324.60" stroke="#333" stroke-width="0.50"/>
<line x1="443.32" y1="323.40" x2="443.32" y2="324.60" stroke="#333" stroke-width="0.50"/>
<line x1="464.37" y1="323.40" x2="464.37" y2="324.60" stroke="#333" stroke-width="0.50"/>
<line x1="475.06" y1="323.40" x2="475.06" y2="324.60" stroke="#333" stroke-width="0.50"/>
<line x1="482.65" y1="323.40" x2="482.65" y2="324.60" stroke="#333" stroke-width="0.50"/>
<line x1="488.53" y1="323.40" x2="488.53" y2="324.60" stroke="#333" stroke-width="0.50"/>
<line x1="493.33" y1="323.40" x2="493.33" y2="324.60" stroke="#333" stroke-width="0.50"/>
<line x1="497.40" y1="323.40" x2="497.40" y2="324.60" stroke="#333" stroke-width="0.50"/>
<line x1="500.92" y1="323.40" x2="500.92" y2="324.60" stroke="#333" stroke-width="0.50"/>
<line x1="504.02" y1="323.40" x2="504.02" y2="324.60" stroke="#333" stroke-width="0.50"/>
<clipPath id="c11"><rect x="379.80" y="236.50" width="132.90" height="86.90"/></clipPath><g clip-path="url(#c11)">
<line x1="385.40" y1="251.30" x2="506.80" y2="313.20" stroke="#000" stroke-width="1.05" stroke-dasharray="2.8,1.2"/>
<line x1="385.40" y1="247.50" x2="506.80" y2="293.50" stroke="#ff0000" stroke-width="1.05" stroke-dasharray="2.8,1.2"/>
<path d="M385.40 238.35 L385.96 240.07 L387.78 240.07 L386.31 241.14 L386.87 242.87 L385.40 241.80 L383.93 242.87 L384.49 241.14 L383.03 240.07 L384.84 240.07Z" fill="none" stroke="#1f77b4" stroke-width="1.0" stroke-linejoin="miter"/>
<path d="M403.29 254.96 L403.85 256.69 L405.67 256.69 L404.20 257.75 L404.76 259.48 L403.29 258.41 L401.82 259.48 L402.38 257.75 L400.92 256.69 L402.73 256.69Z" fill="none" stroke="#1f77b4" stroke-width="1.0" stroke-linejoin="miter"/>
<path d="M413.77 261.35 L414.33 263.07 L416.15 263.07 L414.68 264.14 L415.24 265.87 L413.77 264.80 L412.30 265.87 L412.86 264.14 L411.39 263.07 L413.21 263.07Z" fill="none" stroke="#1f77b4" stroke-width="1.0" stroke-linejoin="miter"/>
<path d="M421.95 265.95 L422.51 267.67 L424.33 267.67 L422.86 268.74 L423.42 270.47 L421.95 269.40 L420.48 270.47 L421.04 268.74 L419.57 267.67 L421.39 267.67Z" fill="none" stroke="#1f77b4" stroke-width="1.0" stroke-linejoin="miter"/>
<path d="M427.83 269.27 L428.39 271.00 L430.21 271.00 L428.74 272.06 L429.30 273.79 L427.83 272.72 L426.36 273.79 L426.92 272.06 L425.45 271.00 L427.27 271.00Z" fill="none" stroke="#1f77b4" stroke-width="1.0" stroke-linejoin="miter"/>
<path d="M436.77 274.89 L437.33 276.62 L439.15 276.62 L437.68 277.69 L438.24 279.41 L436.77 278.35 L435.30 279.41 L435.86 277.69 L434.40 276.62 L436.21 276.62Z" fill="none" stroke="#1f77b4" stroke-width="1.0" stroke-linejoin="miter"/>
<path d="M446.23 280.00 L446.79 281.73 L448.61 281.73 L447.14 282.80 L447.70 284.53 L446.23 283.46 L444.76 284.53 L445.32 282.80 L443.85 281.73 L445.67 281.73Z" fill="none" stroke="#1f77b4" stroke-width="1.0" stroke-linejoin="miter"/>
<path d="M453.38 283.84 L453.95 285.56 L455.76 285.56 L454.29 286.63 L454.85 288.36 L453.38 287.29 L451.92 288.36 L452.48 286.63 L451.01 285.56 L452.82 285.56Z" fill="none" stroke="#1f77b4" stroke-width="1.0" stroke-linejoin="miter"/>
<path d="M460.29 288.18 L460.85 289.91 L462.66 289.91 L461.19 290.98 L461.75 292.70 L460.29 291.64 L458.82 292.70 L459.38 290.98 L457.91 289.91 L459.72 289.91Z" fill="none" stroke="#1f77b4" stroke-width="1.0" stroke-linejoin="miter"/>
<path d="M468.46 292.78 L469.02 294.51 L470.84 294.51 L469.37 295.58 L469.93 297.30 L468.46 296.24 L466.99 297.30 L467.56 295.58 L466.09 294.51 L467.90 294.51Z" fill="none" stroke="#1f77b4" stroke-width="1.0" stroke-linejoin="miter"/>
<path d="M476.13 297.89 L476.69 299.62 L478.51 299.62 L477.04 300.69 L477.60 302.42 L476.13 301.35 L474.66 302.42 L475.22 300.69 L473.75 299.62 L475.57 299.62Z" fill="none" stroke="#1f77b4" stroke-width="1.0" stroke-linejoin="miter"/>
<path d="M483.80 302.49 L484.36 304.22 L486.18 304.22 L484.71 305.29 L485.27 307.02 L483.80 305.95 L482.33 307.02 L482.89 305.29 L481.42 304.22 L483.24 304.22Z" fill="none" stroke="#1f77b4" stroke-width="1.0" stroke-linejoin="miter"/>
<path d="M491.47 306.84 L492.03 308.57 L493.84 308.57 L492.37 309.63 L492.93 311.36 L491.47 310.29 L490.00 311.36 L490.56 309.63 L489.09 308.57 L490.90 308.57Z" fill="none" stroke="#1f77b4" stroke-width="1.0" stroke-linejoin="miter"/>
<path d="M498.62 311.44 L499.18 313.17 L501.00 313.17 L499.53 314.23 L500.09 315.96 L498.62 314.89 L497.15 315.96 L497.71 314.23 L496.24 313.17 L498.06 313.17Z" fill="none" stroke="#1f77b4" stroke-width="1.0" stroke-linejoin="miter"/>
<path d="M506.80 316.55 L507.36 318.28 L509.18 318.28 L507.71 319.35 L508.27 321.07 L506.80 320.01 L505.33 321.07 L505.89 319.35 L504.42 318.28 L506.24 318.28Z" fill="none" stroke="#1f77b4" stroke-width="1.0" stroke-linejoin="miter"/>
<circle cx="403.29" cy="257.71" r="2.7" fill="none" stroke="#ff7f0e" stroke-width="0.9"/>
<circle cx="413.77" cy="261.55" r="2.7" fill="none" stroke="#ff7f0e" stroke-width="0.9"/>
<circle cx="427.83" cy="265.38" r="2.7" fill="none" stroke="#ff7f0e" stroke-width="0.9"/>
<circle cx="436.77" cy="267.94" r="2.7" fill="none" stroke="#ff7f0e" stroke-width="0.9"/>
<circle cx="446.23" cy="271.00" r="2.7" fill="none" stroke="#ff7f0e" stroke-width="0.9"/>
<circle cx="453.38" cy="273.56" r="2.7" fill="none" stroke="#ff7f0e" stroke-width="0.9"/>
<circle cx="462.84" cy="277.39" r="2.7" fill="none" stroke="#ff7f0e" stroke-width="0.9"/>
<circle cx="471.27" cy="281.23" r="2.7" fill="none" stroke="#ff7f0e" stroke-width="0.9"/>
<circle cx="480.73" cy="285.57" r="2.7" fill="none" stroke="#ff7f0e" stroke-width="0.9"/>
<circle cx="488.91" cy="289.66" r="2.7" fill="none" stroke="#ff7f0e" stroke-width="0.9"/>
<circle cx="497.34" cy="292.73" r="2.7" fill="none" stroke="#ff7f0e" stroke-width="0.9"/>
<circle cx="506.80" cy="297.07" r="2.7" fill="none" stroke="#ff7f0e" stroke-width="0.9"/>
</g>
<rect x="379.80" y="236.50" width="132.90" height="86.90" fill="none" stroke="#ababab" stroke-width="1.15"/>
<text x="382.80" y="319.30" font-size="12.2" font-weight="bold" fill="#000" stroke="#000" stroke-width="0.45" letter-spacing="1.35"><tspan font-size="11.0" dy="-0.75">(</tspan><tspan dy="0.75">c'</tspan><tspan font-size="11.0" dy="-0.75">)</tspan></text>
<text x="446.25" y="339.70" font-size="9.50" text-anchor="middle" font-weight="normal" font-style="normal" fill="#111" >τ</text>
<text transform="translate(360.30,279.95) rotate(-90)" font-size="9.3" text-anchor="middle" fill="#111"><tspan font-style="italic">S</tspan>(τ)</text>
<line x1="546.00" y1="243.70" x2="548.00" y2="243.70" stroke="#333" stroke-width="0.60"/>
<text x="545.40" y="246.70" font-size="6.30" text-anchor="end" font-weight="normal" font-style="normal" fill="#111"  letter-spacing="0.3" stroke="#222" stroke-width="0.1">10<tspan dy="-1.9" font-size="4.41" letter-spacing="0.55">0</tspan></text>
<line x1="546.00" y1="302.20" x2="548.00" y2="302.20" stroke="#333" stroke-width="0.60"/>
<text x="545.40" y="305.20" font-size="6.30" text-anchor="end" font-weight="normal" font-style="normal" fill="#111"  letter-spacing="0.3" stroke="#222" stroke-width="0.1">10<tspan dy="-1.9" font-size="4.41" letter-spacing="0.55">−1</tspan></text>
<line x1="546.80" y1="319.81" x2="548.00" y2="319.81" stroke="#333" stroke-width="0.50"/>
<line x1="546.80" y1="315.18" x2="548.00" y2="315.18" stroke="#333" stroke-width="0.50"/>
<line x1="546.80" y1="311.26" x2="548.00" y2="311.26" stroke="#333" stroke-width="0.50"/>
<line x1="546.80" y1="307.87" x2="548.00" y2="307.87" stroke="#333" stroke-width="0.50"/>
<line x1="546.80" y1="304.88" x2="548.00" y2="304.88" stroke="#333" stroke-width="0.50"/>
<line x1="546.80" y1="284.59" x2="548.00" y2="284.59" stroke="#333" stroke-width="0.50"/>
<line x1="546.80" y1="274.29" x2="548.00" y2="274.29" stroke="#333" stroke-width="0.50"/>
<line x1="546.80" y1="266.98" x2="548.00" y2="266.98" stroke="#333" stroke-width="0.50"/>
<line x1="546.80" y1="261.31" x2="548.00" y2="261.31" stroke="#333" stroke-width="0.50"/>
<line x1="546.80" y1="256.68" x2="548.00" y2="256.68" stroke="#333" stroke-width="0.50"/>
<line x1="546.80" y1="252.76" x2="548.00" y2="252.76" stroke="#333" stroke-width="0.50"/>
<line x1="546.80" y1="249.37" x2="548.00" y2="249.37" stroke="#333" stroke-width="0.50"/>
<line x1="546.80" y1="246.38" x2="548.00" y2="246.38" stroke="#333" stroke-width="0.50"/>
<line x1="553.90" y1="323.40" x2="553.90" y2="325.40" stroke="#333" stroke-width="0.60"/>
<text x="554.50" y="330.90" font-size="6.30" text-anchor="middle" font-weight="normal" font-style="normal" fill="#111"  letter-spacing="0.3" stroke="#222" stroke-width="0.1">10<tspan dy="-1.9" font-size="4.41" letter-spacing="0.55">0</tspan></text>
<line x1="614.60" y1="323.40" x2="614.60" y2="325.40" stroke="#333" stroke-width="0.60"/>
<text x="615.20" y="330.90" font-size="6.30" text-anchor="middle" font-weight="normal" font-style="normal" fill="#111"  letter-spacing="0.3" stroke="#222" stroke-width="0.1">10<tspan dy="-1.9" font-size="4.41" letter-spacing="0.55">1</tspan></text>
<line x1="675.30" y1="323.40" x2="675.30" y2="325.40" stroke="#333" stroke-width="0.60"/>
<text x="675.90" y="330.90" font-size="6.30" text-anchor="middle" font-weight="normal" font-style="normal" fill="#111"  letter-spacing="0.3" stroke="#222" stroke-width="0.1">10<tspan dy="-1.9" font-size="4.41" letter-spacing="0.55">2</tspan></text>
<line x1="551.12" y1="323.40" x2="551.12" y2="324.60" stroke="#333" stroke-width="0.50"/>
<line x1="572.17" y1="323.40" x2="572.17" y2="324.60" stroke="#333" stroke-width="0.50"/>
<line x1="582.86" y1="323.40" x2="582.86" y2="324.60" stroke="#333" stroke-width="0.50"/>
<line x1="590.45" y1="323.40" x2="590.45" y2="324.60" stroke="#333" stroke-width="0.50"/>
<line x1="596.33" y1="323.40" x2="596.33" y2="324.60" stroke="#333" stroke-width="0.50"/>
<line x1="601.13" y1="323.40" x2="601.13" y2="324.60" stroke="#333" stroke-width="0.50"/>
<line x1="605.20" y1="323.40" x2="605.20" y2="324.60" stroke="#333" stroke-width="0.50"/>
<line x1="608.72" y1="323.40" x2="608.72" y2="324.60" stroke="#333" stroke-width="0.50"/>
<line x1="611.82" y1="323.40" x2="611.82" y2="324.60" stroke="#333" stroke-width="0.50"/>
<line x1="632.87" y1="323.40" x2="632.87" y2="324.60" stroke="#333" stroke-width="0.50"/>
<line x1="643.56" y1="323.40" x2="643.56" y2="324.60" stroke="#333" stroke-width="0.50"/>
<line x1="651.15" y1="323.40" x2="651.15" y2="324.60" stroke="#333" stroke-width="0.50"/>
<line x1="657.03" y1="323.40" x2="657.03" y2="324.60" stroke="#333" stroke-width="0.50"/>
<line x1="661.83" y1="323.40" x2="661.83" y2="324.60" stroke="#333" stroke-width="0.50"/>
<line x1="665.90" y1="323.40" x2="665.90" y2="324.60" stroke="#333" stroke-width="0.50"/>
<line x1="669.42" y1="323.40" x2="669.42" y2="324.60" stroke="#333" stroke-width="0.50"/>
<line x1="672.52" y1="323.40" x2="672.52" y2="324.60" stroke="#333" stroke-width="0.50"/>
<clipPath id="c12"><rect x="548.00" y="236.50" width="133.20" height="86.90"/></clipPath><g clip-path="url(#c12)">
<line x1="553.90" y1="248.00" x2="675.80" y2="286.30" stroke="#000" stroke-width="1.05" stroke-dasharray="2.8,1.2"/>
<line x1="553.90" y1="241.10" x2="675.80" y2="320.00" stroke="#ff0000" stroke-width="1.05" stroke-dasharray="2.8,1.2"/>
<path d="M553.89 241.16 L554.45 242.88 L556.27 242.88 L554.80 243.95 L555.36 245.68 L553.89 244.61 L552.42 245.68 L552.98 243.95 L551.51 242.88 L553.33 242.88Z" fill="none" stroke="#1f77b4" stroke-width="1.0" stroke-linejoin="miter"/>
<path d="M572.29 247.29 L572.85 249.02 L574.67 249.02 L573.20 250.09 L573.76 251.81 L572.29 250.75 L570.82 251.81 L571.38 250.09 L569.92 249.02 L571.73 249.02Z" fill="none" stroke="#1f77b4" stroke-width="1.0" stroke-linejoin="miter"/>
<path d="M582.77 251.12 L583.33 252.85 L585.15 252.85 L583.68 253.92 L584.24 255.65 L582.77 254.58 L581.30 255.65 L581.86 253.92 L580.39 252.85 L582.21 252.85Z" fill="none" stroke="#1f77b4" stroke-width="1.0" stroke-linejoin="miter"/>
<path d="M590.95 254.45 L591.51 256.17 L593.33 256.17 L591.86 257.24 L592.42 258.97 L590.95 257.90 L589.48 258.97 L590.04 257.24 L588.57 256.17 L590.39 256.17Z" fill="none" stroke="#1f77b4" stroke-width="1.0" stroke-linejoin="miter"/>
<path d="M596.83 257.00 L597.39 258.73 L599.21 258.73 L597.74 259.80 L598.30 261.52 L596.83 260.46 L595.36 261.52 L595.92 259.80 L594.45 258.73 L596.27 258.73Z" fill="none" stroke="#1f77b4" stroke-width="1.0" stroke-linejoin="miter"/>
<path d="M605.77 260.84 L606.33 262.56 L608.15 262.56 L606.68 263.63 L607.24 265.36 L605.77 264.29 L604.30 265.36 L604.86 263.63 L603.40 262.56 L605.21 262.56Z" fill="none" stroke="#1f77b4" stroke-width="1.0" stroke-linejoin="miter"/>
<path d="M614.72 263.90 L615.28 265.63 L617.10 265.63 L615.63 266.70 L616.19 268.43 L614.72 267.36 L613.25 268.43 L613.81 266.70 L612.34 265.63 L614.16 265.63Z" fill="none" stroke="#1f77b4" stroke-width="1.0" stroke-linejoin="miter"/>
<path d="M622.38 266.71 L622.95 268.44 L624.76 268.44 L623.29 269.51 L623.85 271.24 L622.38 270.17 L620.92 271.24 L621.48 269.51 L620.01 268.44 L621.82 268.44Z" fill="none" stroke="#1f77b4" stroke-width="1.0" stroke-linejoin="miter"/>
<path d="M629.29 269.27 L629.85 271.00 L631.66 271.00 L630.19 272.06 L630.75 273.79 L629.29 272.72 L627.82 273.79 L628.38 272.06 L626.91 271.00 L628.72 271.00Z" fill="none" stroke="#1f77b4" stroke-width="1.0" stroke-linejoin="miter"/>
<path d="M637.46 272.34 L638.02 274.06 L639.84 274.06 L638.37 275.13 L638.93 276.86 L637.46 275.79 L635.99 276.86 L636.56 275.13 L635.09 274.06 L636.90 274.06Z" fill="none" stroke="#1f77b4" stroke-width="1.0" stroke-linejoin="miter"/>
<path d="M645.13 274.38 L645.69 276.11 L647.51 276.11 L646.04 277.18 L646.60 278.90 L645.13 277.84 L643.66 278.90 L644.22 277.18 L642.75 276.11 L644.57 276.11Z" fill="none" stroke="#1f77b4" stroke-width="1.0" stroke-linejoin="miter"/>
<path d="M652.80 276.68 L653.36 278.41 L655.18 278.41 L653.71 279.48 L654.27 281.20 L652.80 280.14 L651.33 281.20 L651.89 279.48 L650.42 278.41 L652.24 278.41Z" fill="none" stroke="#1f77b4" stroke-width="1.0" stroke-linejoin="miter"/>
<path d="M660.47 278.73 L661.03 280.45 L662.84 280.45 L661.37 281.52 L661.93 283.25 L660.47 282.18 L659.00 283.25 L659.56 281.52 L658.09 280.45 L659.90 280.45Z" fill="none" stroke="#1f77b4" stroke-width="1.0" stroke-linejoin="miter"/>
<path d="M667.62 281.28 L668.18 283.01 L670.00 283.01 L668.53 284.08 L669.09 285.80 L667.62 284.74 L666.15 285.80 L666.71 284.08 L665.24 283.01 L667.06 283.01Z" fill="none" stroke="#1f77b4" stroke-width="1.0" stroke-linejoin="miter"/>
<path d="M675.80 285.12 L676.36 286.84 L678.18 286.84 L676.71 287.91 L677.27 289.64 L675.80 288.57 L674.33 289.64 L674.89 287.91 L673.42 286.84 L675.24 286.84Z" fill="none" stroke="#1f77b4" stroke-width="1.0" stroke-linejoin="miter"/>
<circle cx="572.29" cy="253.62" r="2.7" fill="none" stroke="#ff7f0e" stroke-width="0.9"/>
<circle cx="582.77" cy="258.22" r="2.7" fill="none" stroke="#ff7f0e" stroke-width="0.9"/>
<circle cx="596.83" cy="264.61" r="2.7" fill="none" stroke="#ff7f0e" stroke-width="0.9"/>
<circle cx="605.77" cy="271.51" r="2.7" fill="none" stroke="#ff7f0e" stroke-width="0.9"/>
<circle cx="614.72" cy="278.16" r="2.7" fill="none" stroke="#ff7f0e" stroke-width="0.9"/>
<circle cx="622.38" cy="283.78" r="2.7" fill="none" stroke="#ff7f0e" stroke-width="0.9"/>
<circle cx="631.84" cy="290.94" r="2.7" fill="none" stroke="#ff7f0e" stroke-width="0.9"/>
<circle cx="640.27" cy="296.56" r="2.7" fill="none" stroke="#ff7f0e" stroke-width="0.9"/>
<circle cx="649.73" cy="302.18" r="2.7" fill="none" stroke="#ff7f0e" stroke-width="0.9"/>
<circle cx="657.91" cy="307.55" r="2.7" fill="none" stroke="#ff7f0e" stroke-width="0.9"/>
<circle cx="666.34" cy="313.68" r="2.7" fill="none" stroke="#ff7f0e" stroke-width="0.9"/>
<circle cx="675.80" cy="319.56" r="2.7" fill="none" stroke="#ff7f0e" stroke-width="0.9"/>
</g>
<rect x="548.00" y="236.50" width="133.20" height="86.90" fill="none" stroke="#ababab" stroke-width="1.15"/>
<text x="550.80" y="319.30" font-size="12.2" font-weight="bold" fill="#000" stroke="#000" stroke-width="0.45" letter-spacing="1.35"><tspan font-size="11.0" dy="-0.75">(</tspan><tspan dy="0.75">d'</tspan><tspan font-size="11.0" dy="-0.75">)</tspan></text>
<text x="614.60" y="339.70" font-size="9.50" text-anchor="middle" font-weight="normal" font-style="normal" fill="#111" >τ</text>
<text transform="translate(528.50,279.95) rotate(-90)" font-size="9.3" text-anchor="middle" fill="#111"><tspan font-style="italic">S</tspan>(τ)</text>
<line x1="30.70" y1="374.60" x2="32.70" y2="374.60" stroke="#333" stroke-width="0.60"/>
<text x="30.10" y="377.60" font-size="6.30" text-anchor="end" font-weight="normal" font-style="normal" fill="#111"  letter-spacing="0.3" stroke="#222" stroke-width="0.1">10<tspan dy="-1.9" font-size="4.41" letter-spacing="0.55">0</tspan></text>
<line x1="30.70" y1="407.10" x2="32.70" y2="407.10" stroke="#333" stroke-width="0.60"/>
<text x="30.10" y="410.10" font-size="6.30" text-anchor="end" font-weight="normal" font-style="normal" fill="#111"  letter-spacing="0.3" stroke="#222" stroke-width="0.1">10<tspan dy="-1.9" font-size="4.41" letter-spacing="0.55">−1</tspan></text>
<line x1="31.50" y1="429.82" x2="32.70" y2="429.82" stroke="#333" stroke-width="0.50"/>
<line x1="31.50" y1="424.09" x2="32.70" y2="424.09" stroke="#333" stroke-width="0.50"/>
<line x1="31.50" y1="420.03" x2="32.70" y2="420.03" stroke="#333" stroke-width="0.50"/>
<line x1="31.50" y1="416.88" x2="32.70" y2="416.88" stroke="#333" stroke-width="0.50"/>
<line x1="31.50" y1="414.31" x2="32.70" y2="414.31" stroke="#333" stroke-width="0.50"/>
<line x1="31.50" y1="412.13" x2="32.70" y2="412.13" stroke="#333" stroke-width="0.50"/>
<line x1="31.50" y1="410.25" x2="32.70" y2="410.25" stroke="#333" stroke-width="0.50"/>
<line x1="31.50" y1="408.59" x2="32.70" y2="408.59" stroke="#333" stroke-width="0.50"/>
<line x1="31.50" y1="397.32" x2="32.70" y2="397.32" stroke="#333" stroke-width="0.50"/>
<line x1="31.50" y1="391.59" x2="32.70" y2="391.59" stroke="#333" stroke-width="0.50"/>
<line x1="31.50" y1="387.53" x2="32.70" y2="387.53" stroke="#333" stroke-width="0.50"/>
<line x1="31.50" y1="384.38" x2="32.70" y2="384.38" stroke="#333" stroke-width="0.50"/>
<line x1="31.50" y1="381.81" x2="32.70" y2="381.81" stroke="#333" stroke-width="0.50"/>
<line x1="31.50" y1="379.63" x2="32.70" y2="379.63" stroke="#333" stroke-width="0.50"/>
<line x1="31.50" y1="377.75" x2="32.70" y2="377.75" stroke="#333" stroke-width="0.50"/>
<line x1="31.50" y1="376.09" x2="32.70" y2="376.09" stroke="#333" stroke-width="0.50"/>
<line x1="31.50" y1="364.82" x2="32.70" y2="364.82" stroke="#333" stroke-width="0.50"/>
<line x1="31.50" y1="359.09" x2="32.70" y2="359.09" stroke="#333" stroke-width="0.50"/>
<line x1="31.50" y1="355.03" x2="32.70" y2="355.03" stroke="#333" stroke-width="0.50"/>
<line x1="31.50" y1="351.88" x2="32.70" y2="351.88" stroke="#333" stroke-width="0.50"/>
<line x1="31.50" y1="349.31" x2="32.70" y2="349.31" stroke="#333" stroke-width="0.50"/>
<line x1="31.50" y1="347.13" x2="32.70" y2="347.13" stroke="#333" stroke-width="0.50"/>
<line x1="35.02" y1="431.90" x2="35.02" y2="433.90" stroke="#333" stroke-width="0.60"/>
<text x="35.62" y="439.40" font-size="6.30" text-anchor="middle" font-weight="normal" font-style="normal" fill="#111"  letter-spacing="0.3" stroke="#222" stroke-width="0.1">10<tspan dy="-1.9" font-size="4.41" letter-spacing="0.55">−4</tspan></text>
<line x1="61.14" y1="431.90" x2="61.14" y2="433.90" stroke="#333" stroke-width="0.60"/>
<text x="61.74" y="439.40" font-size="6.30" text-anchor="middle" font-weight="normal" font-style="normal" fill="#111"  letter-spacing="0.3" stroke="#222" stroke-width="0.1">10<tspan dy="-1.9" font-size="4.41" letter-spacing="0.55">−3</tspan></text>
<line x1="87.26" y1="431.90" x2="87.26" y2="433.90" stroke="#333" stroke-width="0.60"/>
<text x="87.86" y="439.40" font-size="6.30" text-anchor="middle" font-weight="normal" font-style="normal" fill="#111"  letter-spacing="0.3" stroke="#222" stroke-width="0.1">10<tspan dy="-1.9" font-size="4.41" letter-spacing="0.55">−2</tspan></text>
<line x1="113.38" y1="431.90" x2="113.38" y2="433.90" stroke="#333" stroke-width="0.60"/>
<text x="113.98" y="439.40" font-size="6.30" text-anchor="middle" font-weight="normal" font-style="normal" fill="#111"  letter-spacing="0.3" stroke="#222" stroke-width="0.1">10<tspan dy="-1.9" font-size="4.41" letter-spacing="0.55">−1</tspan></text>
<line x1="139.50" y1="431.90" x2="139.50" y2="433.90" stroke="#333" stroke-width="0.60"/>
<text x="140.10" y="439.40" font-size="6.30" text-anchor="middle" font-weight="normal" font-style="normal" fill="#111"  letter-spacing="0.3" stroke="#222" stroke-width="0.1">10<tspan dy="-1.9" font-size="4.41" letter-spacing="0.55">0</tspan></text>
<line x1="165.62" y1="431.90" x2="165.62" y2="433.90" stroke="#333" stroke-width="0.60"/>
<text x="166.22" y="439.40" font-size="6.30" text-anchor="middle" font-weight="normal" font-style="normal" fill="#111"  letter-spacing="0.3" stroke="#222" stroke-width="0.1">10<tspan dy="-1.9" font-size="4.41" letter-spacing="0.55">1</tspan></text>
<line x1="33.82" y1="431.90" x2="33.82" y2="433.10" stroke="#333" stroke-width="0.50"/>
<line x1="42.88" y1="431.90" x2="42.88" y2="433.10" stroke="#333" stroke-width="0.50"/>
<line x1="47.48" y1="431.90" x2="47.48" y2="433.10" stroke="#333" stroke-width="0.50"/>
<line x1="50.75" y1="431.90" x2="50.75" y2="433.10" stroke="#333" stroke-width="0.50"/>
<line x1="53.28" y1="431.90" x2="53.28" y2="433.10" stroke="#333" stroke-width="0.50"/>
<line x1="55.35" y1="431.90" x2="55.35" y2="433.10" stroke="#333" stroke-width="0.50"/>
<line x1="57.09" y1="431.90" x2="57.09" y2="433.10" stroke="#333" stroke-width="0.50"/>
<line x1="58.61" y1="431.90" x2="58.61" y2="433.10" stroke="#333" stroke-width="0.50"/>
<line x1="59.94" y1="431.90" x2="59.94" y2="433.10" stroke="#333" stroke-width="0.50"/>
<line x1="69.00" y1="431.90" x2="69.00" y2="433.10" stroke="#333" stroke-width="0.50"/>
<line x1="73.60" y1="431.90" x2="73.60" y2="433.10" stroke="#333" stroke-width="0.50"/>
<line x1="76.87" y1="431.90" x2="76.87" y2="433.10" stroke="#333" stroke-width="0.50"/>
<line x1="79.40" y1="431.90" x2="79.40" y2="433.10" stroke="#333" stroke-width="0.50"/>
<line x1="81.47" y1="431.90" x2="81.47" y2="433.10" stroke="#333" stroke-width="0.50"/>
<line x1="83.21" y1="431.90" x2="83.21" y2="433.10" stroke="#333" stroke-width="0.50"/>
<line x1="84.73" y1="431.90" x2="84.73" y2="433.10" stroke="#333" stroke-width="0.50"/>
<line x1="86.06" y1="431.90" x2="86.06" y2="433.10" stroke="#333" stroke-width="0.50"/>
<line x1="95.12" y1="431.90" x2="95.12" y2="433.10" stroke="#333" stroke-width="0.50"/>
<line x1="99.72" y1="431.90" x2="99.72" y2="433.10" stroke="#333" stroke-width="0.50"/>
<line x1="102.99" y1="431.90" x2="102.99" y2="433.10" stroke="#333" stroke-width="0.50"/>
<line x1="105.52" y1="431.90" x2="105.52" y2="433.10" stroke="#333" stroke-width="0.50"/>
<line x1="107.59" y1="431.90" x2="107.59" y2="433.10" stroke="#333" stroke-width="0.50"/>
<line x1="109.33" y1="431.90" x2="109.33" y2="433.10" stroke="#333" stroke-width="0.50"/>
<line x1="110.85" y1="431.90" x2="110.85" y2="433.10" stroke="#333" stroke-width="0.50"/>
<line x1="112.18" y1="431.90" x2="112.18" y2="433.10" stroke="#333" stroke-width="0.50"/>
<line x1="121.24" y1="431.90" x2="121.24" y2="433.10" stroke="#333" stroke-width="0.50"/>
<line x1="125.84" y1="431.90" x2="125.84" y2="433.10" stroke="#333" stroke-width="0.50"/>
<line x1="129.11" y1="431.90" x2="129.11" y2="433.10" stroke="#333" stroke-width="0.50"/>
<line x1="131.64" y1="431.90" x2="131.64" y2="433.10" stroke="#333" stroke-width="0.50"/>
<line x1="133.71" y1="431.90" x2="133.71" y2="433.10" stroke="#333" stroke-width="0.50"/>
<line x1="135.45" y1="431.90" x2="135.45" y2="433.10" stroke="#333" stroke-width="0.50"/>
<line x1="136.97" y1="431.90" x2="136.97" y2="433.10" stroke="#333" stroke-width="0.50"/>
<line x1="138.30" y1="431.90" x2="138.30" y2="433.10" stroke="#333" stroke-width="0.50"/>
<line x1="147.36" y1="431.90" x2="147.36" y2="433.10" stroke="#333" stroke-width="0.50"/>
<line x1="151.96" y1="431.90" x2="151.96" y2="433.10" stroke="#333" stroke-width="0.50"/>
<line x1="155.23" y1="431.90" x2="155.23" y2="433.10" stroke="#333" stroke-width="0.50"/>
<line x1="157.76" y1="431.90" x2="157.76" y2="433.10" stroke="#333" stroke-width="0.50"/>
<line x1="159.83" y1="431.90" x2="159.83" y2="433.10" stroke="#333" stroke-width="0.50"/>
<line x1="161.57" y1="431.90" x2="161.57" y2="433.10" stroke="#333" stroke-width="0.50"/>
<line x1="163.09" y1="431.90" x2="163.09" y2="433.10" stroke="#333" stroke-width="0.50"/>
<line x1="164.42" y1="431.90" x2="164.42" y2="433.10" stroke="#333" stroke-width="0.50"/>
<clipPath id="c13"><rect x="32.70" y="345.20" width="132.90" height="86.70"/></clipPath><g clip-path="url(#c13)">
<rect x="51.37" y="350.08" width="4.60" height="4.60" fill="none" stroke="#2ca02c" stroke-width="0.90"/>
<rect x="55.97" y="350.59" width="4.60" height="4.60" fill="none" stroke="#2ca02c" stroke-width="0.90"/>
<rect x="60.32" y="352.63" width="4.60" height="4.60" fill="none" stroke="#2ca02c" stroke-width="0.90"/>
<rect x="64.92" y="355.70" width="4.60" height="4.60" fill="none" stroke="#2ca02c" stroke-width="0.90"/>
<rect x="69.26" y="357.49" width="4.60" height="4.60" fill="none" stroke="#2ca02c" stroke-width="0.90"/>
<rect x="73.86" y="359.02" width="4.60" height="4.60" fill="none" stroke="#2ca02c" stroke-width="0.90"/>
<rect x="78.21" y="360.30" width="4.60" height="4.60" fill="none" stroke="#2ca02c" stroke-width="0.90"/>
<rect x="82.55" y="362.86" width="4.60" height="4.60" fill="none" stroke="#2ca02c" stroke-width="0.90"/>
<rect x="87.15" y="365.16" width="4.60" height="4.60" fill="none" stroke="#2ca02c" stroke-width="0.90"/>
<rect x="91.49" y="367.20" width="4.60" height="4.60" fill="none" stroke="#2ca02c" stroke-width="0.90"/>
<rect x="96.10" y="370.27" width="4.60" height="4.60" fill="none" stroke="#2ca02c" stroke-width="0.90"/>
<rect x="100.70" y="375.38" width="4.60" height="4.60" fill="none" stroke="#2ca02c" stroke-width="0.90"/>
<path d="M83.06 359.32 L83.51 360.71 L84.96 360.71 L83.79 361.56 L84.24 362.94 L83.06 362.09 L81.89 362.94 L82.33 361.56 L81.16 360.71 L82.61 360.71Z" fill="none" stroke="#ff7f0e" stroke-width="0.85" stroke-linejoin="miter"/>
<path d="M88.17 361.88 L88.62 363.26 L90.07 363.26 L88.90 364.12 L89.35 365.50 L88.17 364.64 L87.00 365.50 L87.45 364.12 L86.27 363.26 L87.72 363.26Z" fill="none" stroke="#ff7f0e" stroke-width="0.85" stroke-linejoin="miter"/>
<path d="M92.52 365.71 L92.97 367.10 L94.42 367.10 L93.24 367.95 L93.69 369.33 L92.52 368.48 L91.34 369.33 L91.79 367.95 L90.61 367.10 L92.07 367.10Z" fill="none" stroke="#ff7f0e" stroke-width="0.85" stroke-linejoin="miter"/>
<path d="M97.12 368.78 L97.57 370.16 L99.02 370.16 L97.84 371.02 L98.29 372.40 L97.12 371.54 L95.94 372.40 L96.39 371.02 L95.22 370.16 L96.67 370.16Z" fill="none" stroke="#ff7f0e" stroke-width="0.85" stroke-linejoin="miter"/>
<path d="M101.46 373.12 L101.91 374.51 L103.36 374.51 L102.19 375.36 L102.64 376.74 L101.46 375.89 L100.29 376.74 L100.74 375.36 L99.56 374.51 L101.01 374.51Z" fill="none" stroke="#ff7f0e" stroke-width="0.85" stroke-linejoin="miter"/>
<path d="M106.06 375.68 L106.51 377.06 L107.96 377.06 L106.79 377.92 L107.24 379.30 L106.06 378.44 L104.89 379.30 L105.34 377.92 L104.16 377.06 L105.61 377.06Z" fill="none" stroke="#ff7f0e" stroke-width="0.85" stroke-linejoin="miter"/>
<path d="M110.41 379.00 L110.86 380.38 L112.31 380.38 L111.13 381.24 L111.58 382.62 L110.41 381.77 L109.23 382.62 L109.68 381.24 L108.51 380.38 L109.96 380.38Z" fill="none" stroke="#ff7f0e" stroke-width="0.85" stroke-linejoin="miter"/>
<path d="M115.01 382.84 L115.46 384.22 L116.91 384.22 L115.73 385.07 L116.18 386.45 L115.01 385.60 L113.83 386.45 L114.28 385.07 L113.11 384.22 L114.56 384.22Z" fill="none" stroke="#ff7f0e" stroke-width="0.85" stroke-linejoin="miter"/>
<path d="M119.35 386.16 L119.80 387.54 L121.25 387.54 L120.08 388.40 L120.53 389.78 L119.35 388.92 L118.18 389.78 L118.63 388.40 L117.45 387.54 L118.90 387.54Z" fill="none" stroke="#ff7f0e" stroke-width="0.85" stroke-linejoin="miter"/>
<path d="M123.95 389.74 L124.40 391.12 L125.85 391.12 L124.68 391.97 L125.13 393.36 L123.95 392.50 L122.78 393.36 L123.23 391.97 L122.05 391.12 L123.50 391.12Z" fill="none" stroke="#ff7f0e" stroke-width="0.85" stroke-linejoin="miter"/>
<path d="M128.55 393.06 L129.00 394.44 L130.45 394.44 L129.28 395.30 L129.73 396.68 L128.55 395.82 L127.38 396.68 L127.83 395.30 L126.65 394.44 L128.10 394.44Z" fill="none" stroke="#ff7f0e" stroke-width="0.85" stroke-linejoin="miter"/>
<circle cx="110.41" cy="376.66" r="2.15" fill="none" stroke="#1f77b4" stroke-width="0.9"/>
<circle cx="115.01" cy="376.66" r="2.15" fill="none" stroke="#1f77b4" stroke-width="0.9"/>
<circle cx="119.35" cy="381.00" r="2.15" fill="none" stroke="#1f77b4" stroke-width="0.9"/>
<circle cx="123.95" cy="387.39" r="2.15" fill="none" stroke="#1f77b4" stroke-width="0.9"/>
<circle cx="128.30" cy="391.23" r="2.15" fill="none" stroke="#1f77b4" stroke-width="0.9"/>
<circle cx="132.90" cy="394.29" r="2.15" fill="none" stroke="#1f77b4" stroke-width="0.9"/>
<circle cx="137.50" cy="397.62" r="2.15" fill="none" stroke="#1f77b4" stroke-width="0.9"/>
<circle cx="141.84" cy="402.73" r="2.15" fill="none" stroke="#1f77b4" stroke-width="0.9"/>
<circle cx="146.44" cy="406.56" r="2.15" fill="none" stroke="#1f77b4" stroke-width="0.9"/>
<circle cx="150.79" cy="409.63" r="2.15" fill="none" stroke="#1f77b4" stroke-width="0.9"/>
<circle cx="155.13" cy="418.06" r="2.15" fill="none" stroke="#1f77b4" stroke-width="0.9"/>
<circle cx="159.73" cy="427.52" r="2.15" fill="none" stroke="#1f77b4" stroke-width="0.9"/>
<line x1="38.30" y1="349.00" x2="129.00" y2="376.40" stroke="#ff0000" stroke-width="1.80" stroke-dasharray="5.5,2.4"/>
<line x1="95.10" y1="359.80" x2="159.70" y2="418.60" stroke="#000" stroke-width="1.80" stroke-dasharray="5.5,2.4"/>
</g>
<rect x="32.70" y="345.20" width="132.90" height="86.70" fill="none" stroke="#ababab" stroke-width="1.15"/>
<text x="33.60" y="424.60" font-size="12.2" font-weight="bold" fill="#000" stroke="#000" stroke-width="0.45" letter-spacing="1.35"><tspan font-size="11.0" dy="-0.75">(</tspan><tspan dy="0.75">e'</tspan><tspan font-size="11.0" dy="-0.75">)</tspan></text>
<text x="99.15" y="449.20" font-size="10" text-anchor="middle" fill="#111">τ/<tspan font-style="italic">n</tspan><tspan dy="-3.0" font-size="6.8" font-style="italic">d</tspan><tspan dy="1.4" font-size="4.8" font-style="italic">w</tspan></text>
<text transform="translate(13.20,388.55) rotate(-90)" font-size="9.3" text-anchor="middle" fill="#111"><tspan font-style="italic">nS</tspan>(<tspan font-style="italic">n</tspan>, τ)</text>
<line x1="202.50" y1="350.50" x2="204.50" y2="350.50" stroke="#333" stroke-width="0.60"/>
<text x="201.90" y="353.50" font-size="6.30" text-anchor="end" font-weight="normal" font-style="normal" fill="#111"  letter-spacing="0.3" stroke="#222" stroke-width="0.1">10<tspan dy="-1.9" font-size="4.41" letter-spacing="0.55">1</tspan></text>
<line x1="202.50" y1="378.40" x2="204.50" y2="378.40" stroke="#333" stroke-width="0.60"/>
<text x="201.90" y="381.40" font-size="6.30" text-anchor="end" font-weight="normal" font-style="normal" fill="#111"  letter-spacing="0.3" stroke="#222" stroke-width="0.1">10<tspan dy="-1.9" font-size="4.41" letter-spacing="0.55">0</tspan></text>
<line x1="202.50" y1="406.30" x2="204.50" y2="406.30" stroke="#333" stroke-width="0.60"/>
<text x="201.90" y="409.30" font-size="6.30" text-anchor="end" font-weight="normal" font-style="normal" fill="#111"  letter-spacing="0.3" stroke="#222" stroke-width="0.1">10<tspan dy="-1.9" font-size="4.41" letter-spacing="0.55">−1</tspan></text>
<line x1="203.30" y1="425.80" x2="204.50" y2="425.80" stroke="#333" stroke-width="0.50"/>
<line x1="203.30" y1="420.89" x2="204.50" y2="420.89" stroke="#333" stroke-width="0.50"/>
<line x1="203.30" y1="417.40" x2="204.50" y2="417.40" stroke="#333" stroke-width="0.50"/>
<line x1="203.30" y1="414.70" x2="204.50" y2="414.70" stroke="#333" stroke-width="0.50"/>
<line x1="203.30" y1="412.49" x2="204.50" y2="412.49" stroke="#333" stroke-width="0.50"/>
<line x1="203.30" y1="410.62" x2="204.50" y2="410.62" stroke="#333" stroke-width="0.50"/>
<line x1="203.30" y1="409.00" x2="204.50" y2="409.00" stroke="#333" stroke-width="0.50"/>
<line x1="203.30" y1="407.58" x2="204.50" y2="407.58" stroke="#333" stroke-width="0.50"/>
<line x1="203.30" y1="397.90" x2="204.50" y2="397.90" stroke="#333" stroke-width="0.50"/>
<line x1="203.30" y1="392.99" x2="204.50" y2="392.99" stroke="#333" stroke-width="0.50"/>
<line x1="203.30" y1="389.50" x2="204.50" y2="389.50" stroke="#333" stroke-width="0.50"/>
<line x1="203.30" y1="386.80" x2="204.50" y2="386.80" stroke="#333" stroke-width="0.50"/>
<line x1="203.30" y1="384.59" x2="204.50" y2="384.59" stroke="#333" stroke-width="0.50"/>
<line x1="203.30" y1="382.72" x2="204.50" y2="382.72" stroke="#333" stroke-width="0.50"/>
<line x1="203.30" y1="381.10" x2="204.50" y2="381.10" stroke="#333" stroke-width="0.50"/>
<line x1="203.30" y1="379.68" x2="204.50" y2="379.68" stroke="#333" stroke-width="0.50"/>
<line x1="203.30" y1="370.00" x2="204.50" y2="370.00" stroke="#333" stroke-width="0.50"/>
<line x1="203.30" y1="365.09" x2="204.50" y2="365.09" stroke="#333" stroke-width="0.50"/>
<line x1="203.30" y1="361.60" x2="204.50" y2="361.60" stroke="#333" stroke-width="0.50"/>
<line x1="203.30" y1="358.90" x2="204.50" y2="358.90" stroke="#333" stroke-width="0.50"/>
<line x1="203.30" y1="356.69" x2="204.50" y2="356.69" stroke="#333" stroke-width="0.50"/>
<line x1="203.30" y1="354.82" x2="204.50" y2="354.82" stroke="#333" stroke-width="0.50"/>
<line x1="203.30" y1="353.20" x2="204.50" y2="353.20" stroke="#333" stroke-width="0.50"/>
<line x1="203.30" y1="351.78" x2="204.50" y2="351.78" stroke="#333" stroke-width="0.50"/>
<line x1="206.30" y1="431.30" x2="206.30" y2="433.30" stroke="#333" stroke-width="0.60"/>
<text x="206.90" y="438.80" font-size="6.30" text-anchor="middle" font-weight="normal" font-style="normal" fill="#111"  letter-spacing="0.3" stroke="#222" stroke-width="0.1">10<tspan dy="-1.9" font-size="4.41" letter-spacing="0.55">−2</tspan></text>
<line x1="227.25" y1="431.30" x2="227.25" y2="433.30" stroke="#333" stroke-width="0.60"/>
<text x="227.85" y="438.80" font-size="6.30" text-anchor="middle" font-weight="normal" font-style="normal" fill="#111"  letter-spacing="0.3" stroke="#222" stroke-width="0.1">10<tspan dy="-1.9" font-size="4.41" letter-spacing="0.55">−1</tspan></text>
<line x1="248.20" y1="431.30" x2="248.20" y2="433.30" stroke="#333" stroke-width="0.60"/>
<text x="248.80" y="438.80" font-size="6.30" text-anchor="middle" font-weight="normal" font-style="normal" fill="#111"  letter-spacing="0.3" stroke="#222" stroke-width="0.1">10<tspan dy="-1.9" font-size="4.41" letter-spacing="0.55">0</tspan></text>
<line x1="269.15" y1="431.30" x2="269.15" y2="433.30" stroke="#333" stroke-width="0.60"/>
<text x="269.75" y="438.80" font-size="6.30" text-anchor="middle" font-weight="normal" font-style="normal" fill="#111"  letter-spacing="0.3" stroke="#222" stroke-width="0.1">10<tspan dy="-1.9" font-size="4.41" letter-spacing="0.55">1</tspan></text>
<line x1="290.10" y1="431.30" x2="290.10" y2="433.30" stroke="#333" stroke-width="0.60"/>
<text x="290.70" y="438.80" font-size="6.30" text-anchor="middle" font-weight="normal" font-style="normal" fill="#111"  letter-spacing="0.3" stroke="#222" stroke-width="0.1">10<tspan dy="-1.9" font-size="4.41" letter-spacing="0.55">2</tspan></text>
<line x1="311.05" y1="431.30" x2="311.05" y2="433.30" stroke="#333" stroke-width="0.60"/>
<text x="311.65" y="438.80" font-size="6.30" text-anchor="middle" font-weight="normal" font-style="normal" fill="#111"  letter-spacing="0.3" stroke="#222" stroke-width="0.1">10<tspan dy="-1.9" font-size="4.41" letter-spacing="0.55">3</tspan></text>
<line x1="332.00" y1="431.30" x2="332.00" y2="433.30" stroke="#333" stroke-width="0.60"/>
<text x="332.60" y="438.80" font-size="6.30" text-anchor="middle" font-weight="normal" font-style="normal" fill="#111"  letter-spacing="0.3" stroke="#222" stroke-width="0.1">10<tspan dy="-1.9" font-size="4.41" letter-spacing="0.55">4</tspan></text>
<line x1="205.34" y1="431.30" x2="205.34" y2="432.50" stroke="#333" stroke-width="0.50"/>
<line x1="212.61" y1="431.30" x2="212.61" y2="432.50" stroke="#333" stroke-width="0.50"/>
<line x1="216.30" y1="431.30" x2="216.30" y2="432.50" stroke="#333" stroke-width="0.50"/>
<line x1="218.91" y1="431.30" x2="218.91" y2="432.50" stroke="#333" stroke-width="0.50"/>
<line x1="220.94" y1="431.30" x2="220.94" y2="432.50" stroke="#333" stroke-width="0.50"/>
<line x1="222.60" y1="431.30" x2="222.60" y2="432.50" stroke="#333" stroke-width="0.50"/>
<line x1="224.00" y1="431.30" x2="224.00" y2="432.50" stroke="#333" stroke-width="0.50"/>
<line x1="225.22" y1="431.30" x2="225.22" y2="432.50" stroke="#333" stroke-width="0.50"/>
<line x1="226.29" y1="431.30" x2="226.29" y2="432.50" stroke="#333" stroke-width="0.50"/>
<line x1="233.56" y1="431.30" x2="233.56" y2="432.50" stroke="#333" stroke-width="0.50"/>
<line x1="237.25" y1="431.30" x2="237.25" y2="432.50" stroke="#333" stroke-width="0.50"/>
<line x1="239.86" y1="431.30" x2="239.86" y2="432.50" stroke="#333" stroke-width="0.50"/>
<line x1="241.89" y1="431.30" x2="241.89" y2="432.50" stroke="#333" stroke-width="0.50"/>
<line x1="243.55" y1="431.30" x2="243.55" y2="432.50" stroke="#333" stroke-width="0.50"/>
<line x1="244.95" y1="431.30" x2="244.95" y2="432.50" stroke="#333" stroke-width="0.50"/>
<line x1="246.17" y1="431.30" x2="246.17" y2="432.50" stroke="#333" stroke-width="0.50"/>
<line x1="247.24" y1="431.30" x2="247.24" y2="432.50" stroke="#333" stroke-width="0.50"/>
<line x1="254.51" y1="431.30" x2="254.51" y2="432.50" stroke="#333" stroke-width="0.50"/>
<line x1="258.20" y1="431.30" x2="258.20" y2="432.50" stroke="#333" stroke-width="0.50"/>
<line x1="260.81" y1="431.30" x2="260.81" y2="432.50" stroke="#333" stroke-width="0.50"/>
<line x1="262.84" y1="431.30" x2="262.84" y2="432.50" stroke="#333" stroke-width="0.50"/>
<line x1="264.50" y1="431.30" x2="264.50" y2="432.50" stroke="#333" stroke-width="0.50"/>
<line x1="265.90" y1="431.30" x2="265.90" y2="432.50" stroke="#333" stroke-width="0.50"/>
<line x1="267.12" y1="431.30" x2="267.12" y2="432.50" stroke="#333" stroke-width="0.50"/>
<line x1="268.19" y1="431.30" x2="268.19" y2="432.50" stroke="#333" stroke-width="0.50"/>
<line x1="275.46" y1="431.30" x2="275.46" y2="432.50" stroke="#333" stroke-width="0.50"/>
<line x1="279.15" y1="431.30" x2="279.15" y2="432.50" stroke="#333" stroke-width="0.50"/>
<line x1="281.76" y1="431.30" x2="281.76" y2="432.50" stroke="#333" stroke-width="0.50"/>
<line x1="283.79" y1="431.30" x2="283.79" y2="432.50" stroke="#333" stroke-width="0.50"/>
<line x1="285.45" y1="431.30" x2="285.45" y2="432.50" stroke="#333" stroke-width="0.50"/>
<line x1="286.85" y1="431.30" x2="286.85" y2="432.50" stroke="#333" stroke-width="0.50"/>
<line x1="288.07" y1="431.30" x2="288.07" y2="432.50" stroke="#333" stroke-width="0.50"/>
<line x1="289.14" y1="431.30" x2="289.14" y2="432.50" stroke="#333" stroke-width="0.50"/>
<line x1="296.41" y1="431.30" x2="296.41" y2="432.50" stroke="#333" stroke-width="0.50"/>
<line x1="300.10" y1="431.30" x2="300.10" y2="432.50" stroke="#333" stroke-width="0.50"/>
<line x1="302.71" y1="431.30" x2="302.71" y2="432.50" stroke="#333" stroke-width="0.50"/>
<line x1="304.74" y1="431.30" x2="304.74" y2="432.50" stroke="#333" stroke-width="0.50"/>
<line x1="306.40" y1="431.30" x2="306.40" y2="432.50" stroke="#333" stroke-width="0.50"/>
<line x1="307.80" y1="431.30" x2="307.80" y2="432.50" stroke="#333" stroke-width="0.50"/>
<line x1="309.02" y1="431.30" x2="309.02" y2="432.50" stroke="#333" stroke-width="0.50"/>
<line x1="310.09" y1="431.30" x2="310.09" y2="432.50" stroke="#333" stroke-width="0.50"/>
<line x1="317.36" y1="431.30" x2="317.36" y2="432.50" stroke="#333" stroke-width="0.50"/>
<line x1="321.05" y1="431.30" x2="321.05" y2="432.50" stroke="#333" stroke-width="0.50"/>
<line x1="323.66" y1="431.30" x2="323.66" y2="432.50" stroke="#333" stroke-width="0.50"/>
<line x1="325.69" y1="431.30" x2="325.69" y2="432.50" stroke="#333" stroke-width="0.50"/>
<line x1="327.35" y1="431.30" x2="327.35" y2="432.50" stroke="#333" stroke-width="0.50"/>
<line x1="328.75" y1="431.30" x2="328.75" y2="432.50" stroke="#333" stroke-width="0.50"/>
<line x1="329.97" y1="431.30" x2="329.97" y2="432.50" stroke="#333" stroke-width="0.50"/>
<line x1="331.04" y1="431.30" x2="331.04" y2="432.50" stroke="#333" stroke-width="0.50"/>
<clipPath id="c14"><rect x="204.50" y="345.20" width="133.50" height="86.10"/></clipPath><g clip-path="url(#c14)">
<rect x="228.80" y="360.30" width="4.60" height="4.60" fill="none" stroke="#2ca02c" stroke-width="0.90"/>
<rect x="233.10" y="372.00" width="4.60" height="4.60" fill="none" stroke="#2ca02c" stroke-width="0.90"/>
<rect x="237.10" y="372.00" width="4.60" height="4.60" fill="none" stroke="#2ca02c" stroke-width="0.90"/>
<rect x="241.00" y="376.50" width="4.60" height="4.60" fill="none" stroke="#2ca02c" stroke-width="0.90"/>
<rect x="245.10" y="380.00" width="4.60" height="4.60" fill="none" stroke="#2ca02c" stroke-width="0.90"/>
<rect x="249.10" y="383.80" width="4.60" height="4.60" fill="none" stroke="#2ca02c" stroke-width="0.90"/>
<rect x="253.00" y="388.00" width="4.60" height="4.60" fill="none" stroke="#2ca02c" stroke-width="0.90"/>
<rect x="256.80" y="392.60" width="4.60" height="4.60" fill="none" stroke="#2ca02c" stroke-width="0.90"/>
<rect x="261.20" y="396.00" width="4.60" height="4.60" fill="none" stroke="#2ca02c" stroke-width="0.90"/>
<rect x="265.60" y="399.00" width="4.60" height="4.60" fill="none" stroke="#2ca02c" stroke-width="0.90"/>
<rect x="269.00" y="401.70" width="4.60" height="4.60" fill="none" stroke="#2ca02c" stroke-width="0.90"/>
<rect x="273.40" y="403.90" width="4.60" height="4.60" fill="none" stroke="#2ca02c" stroke-width="0.90"/>
<rect x="277.70" y="404.90" width="4.60" height="4.60" fill="none" stroke="#2ca02c" stroke-width="0.90"/>
<rect x="281.70" y="405.70" width="4.60" height="4.60" fill="none" stroke="#2ca02c" stroke-width="0.90"/>
<rect x="285.70" y="408.70" width="4.60" height="4.60" fill="none" stroke="#2ca02c" stroke-width="0.90"/>
<rect x="290.10" y="409.20" width="4.60" height="4.60" fill="none" stroke="#2ca02c" stroke-width="0.90"/>
<path d="M240.30 368.30 L240.75 369.68 L242.20 369.68 L241.03 370.54 L241.48 371.92 L240.30 371.06 L239.12 371.92 L239.57 370.54 L238.40 369.68 L239.85 369.68Z" fill="none" stroke="#ff7f0e" stroke-width="0.85" stroke-linejoin="miter"/>
<path d="M244.30 380.60 L244.75 381.98 L246.20 381.98 L245.03 382.84 L245.48 384.22 L244.30 383.36 L243.12 384.22 L243.57 382.84 L242.40 381.98 L243.85 381.98Z" fill="none" stroke="#ff7f0e" stroke-width="0.85" stroke-linejoin="miter"/>
<path d="M248.30 382.40 L248.75 383.78 L250.20 383.78 L249.03 384.64 L249.48 386.02 L248.30 385.16 L247.12 386.02 L247.57 384.64 L246.40 383.78 L247.85 383.78Z" fill="none" stroke="#ff7f0e" stroke-width="0.85" stroke-linejoin="miter"/>
<path d="M252.50 384.70 L252.95 386.08 L254.40 386.08 L253.23 386.94 L253.68 388.32 L252.50 387.46 L251.32 388.32 L251.77 386.94 L250.60 386.08 L252.05 386.08Z" fill="none" stroke="#ff7f0e" stroke-width="0.85" stroke-linejoin="miter"/>
<path d="M256.60 387.10 L257.05 388.48 L258.50 388.48 L257.33 389.34 L257.78 390.72 L256.60 389.86 L255.42 390.72 L255.87 389.34 L254.70 388.48 L256.15 388.48Z" fill="none" stroke="#ff7f0e" stroke-width="0.85" stroke-linejoin="miter"/>
<path d="M261.10 389.30 L261.55 390.68 L263.00 390.68 L261.83 391.54 L262.28 392.92 L261.10 392.06 L259.92 392.92 L260.37 391.54 L259.20 390.68 L260.65 390.68Z" fill="none" stroke="#ff7f0e" stroke-width="0.85" stroke-linejoin="miter"/>
<path d="M265.10 391.30 L265.55 392.68 L267.00 392.68 L265.83 393.54 L266.28 394.92 L265.10 394.06 L263.92 394.92 L264.37 393.54 L263.20 392.68 L264.65 392.68Z" fill="none" stroke="#ff7f0e" stroke-width="0.85" stroke-linejoin="miter"/>
<path d="M269.10 394.10 L269.55 395.48 L271.00 395.48 L269.83 396.34 L270.28 397.72 L269.10 396.86 L267.92 397.72 L268.37 396.34 L267.20 395.48 L268.65 395.48Z" fill="none" stroke="#ff7f0e" stroke-width="0.85" stroke-linejoin="miter"/>
<path d="M273.30 396.20 L273.75 397.58 L275.20 397.58 L274.03 398.44 L274.48 399.82 L273.30 398.96 L272.12 399.82 L272.57 398.44 L271.40 397.58 L272.85 397.58Z" fill="none" stroke="#ff7f0e" stroke-width="0.85" stroke-linejoin="miter"/>
<path d="M277.50 399.00 L277.95 400.38 L279.40 400.38 L278.23 401.24 L278.68 402.62 L277.50 401.76 L276.32 402.62 L276.77 401.24 L275.60 400.38 L277.05 400.38Z" fill="none" stroke="#ff7f0e" stroke-width="0.85" stroke-linejoin="miter"/>
<path d="M281.40 400.50 L281.85 401.88 L283.30 401.88 L282.13 402.74 L282.58 404.12 L281.40 403.26 L280.22 404.12 L280.67 402.74 L279.50 401.88 L280.95 401.88Z" fill="none" stroke="#ff7f0e" stroke-width="0.85" stroke-linejoin="miter"/>
<path d="M285.70 401.10 L286.15 402.48 L287.60 402.48 L286.43 403.34 L286.88 404.72 L285.70 403.86 L284.52 404.72 L284.97 403.34 L283.80 402.48 L285.25 402.48Z" fill="none" stroke="#ff7f0e" stroke-width="0.85" stroke-linejoin="miter"/>
<path d="M289.70 403.80 L290.15 405.18 L291.60 405.18 L290.43 406.04 L290.88 407.42 L289.70 406.56 L288.52 407.42 L288.97 406.04 L287.80 405.18 L289.25 405.18Z" fill="none" stroke="#ff7f0e" stroke-width="0.85" stroke-linejoin="miter"/>
<path d="M293.70 405.50 L294.15 406.88 L295.60 406.88 L294.43 407.74 L294.88 409.12 L293.70 408.26 L292.52 409.12 L292.97 407.74 L291.80 406.88 L293.25 406.88Z" fill="none" stroke="#ff7f0e" stroke-width="0.85" stroke-linejoin="miter"/>
<path d="M298.10 409.50 L298.55 410.88 L300.00 410.88 L298.83 411.74 L299.28 413.12 L298.10 412.26 L296.92 413.12 L297.37 411.74 L296.20 410.88 L297.65 410.88Z" fill="none" stroke="#ff7f0e" stroke-width="0.85" stroke-linejoin="miter"/>
<path d="M302.50 412.60 L302.95 413.98 L304.40 413.98 L303.23 414.84 L303.68 416.22 L302.50 415.36 L301.32 416.22 L301.77 414.84 L300.60 413.98 L302.05 413.98Z" fill="none" stroke="#ff7f0e" stroke-width="0.85" stroke-linejoin="miter"/>
<circle cx="249.95" cy="378.96" r="2.15" fill="none" stroke="#1f77b4" stroke-width="0.9"/>
<circle cx="253.78" cy="387.90" r="2.15" fill="none" stroke="#1f77b4" stroke-width="0.9"/>
<circle cx="258.13" cy="389.95" r="2.15" fill="none" stroke="#1f77b4" stroke-width="0.9"/>
<circle cx="262.22" cy="393.78" r="2.15" fill="none" stroke="#1f77b4" stroke-width="0.9"/>
<circle cx="266.56" cy="397.10" r="2.15" fill="none" stroke="#1f77b4" stroke-width="0.9"/>
<circle cx="270.91" cy="399.40" r="2.15" fill="none" stroke="#1f77b4" stroke-width="0.9"/>
<circle cx="275.00" cy="401.96" r="2.15" fill="none" stroke="#1f77b4" stroke-width="0.9"/>
<circle cx="279.34" cy="404.00" r="2.15" fill="none" stroke="#1f77b4" stroke-width="0.9"/>
<circle cx="283.68" cy="407.33" r="2.15" fill="none" stroke="#1f77b4" stroke-width="0.9"/>
<circle cx="287.77" cy="409.12" r="2.15" fill="none" stroke="#1f77b4" stroke-width="0.9"/>
<circle cx="292.12" cy="410.39" r="2.15" fill="none" stroke="#1f77b4" stroke-width="0.9"/>
<circle cx="296.46" cy="411.67" r="2.15" fill="none" stroke="#1f77b4" stroke-width="0.9"/>
<circle cx="300.55" cy="412.95" r="2.15" fill="none" stroke="#1f77b4" stroke-width="0.9"/>
<circle cx="304.90" cy="414.74" r="2.15" fill="none" stroke="#1f77b4" stroke-width="0.9"/>
<circle cx="309.24" cy="417.29" r="2.15" fill="none" stroke="#1f77b4" stroke-width="0.9"/>
<circle cx="311.29" cy="420.11" r="2.15" fill="none" stroke="#1f77b4" stroke-width="0.9"/>
<line x1="210.30" y1="349.00" x2="292.60" y2="421.90" stroke="#ff0000" stroke-width="1.80" stroke-dasharray="5.5,2.4"/>
<line x1="228.70" y1="382.40" x2="331.70" y2="428.00" stroke="#000" stroke-width="1.80" stroke-dasharray="5.5,2.4"/>
</g>
<rect x="204.50" y="345.20" width="133.50" height="86.10" fill="none" stroke="#ababab" stroke-width="1.15"/>
<text x="206.50" y="424.60" font-size="12.2" font-weight="bold" fill="#000" stroke="#000" stroke-width="0.45" letter-spacing="1.35"><tspan font-size="11.0" dy="-0.75">(</tspan><tspan dy="0.75">f'</tspan><tspan font-size="11.0" dy="-0.75">)</tspan></text>
<text x="271.25" y="448.60" font-size="10" text-anchor="middle" fill="#111">τ/<tspan font-style="italic">n</tspan><tspan dy="-3.0" font-size="6.8" font-style="italic">d</tspan><tspan dy="1.4" font-size="4.8" font-style="italic">w</tspan></text>
<text transform="translate(185.00,388.25) rotate(-90)" font-size="9.3" text-anchor="middle" fill="#111"><tspan font-style="italic">nS</tspan>(<tspan font-style="italic">n</tspan>, τ)</text>
<line x1="376.20" y1="347.80" x2="378.20" y2="347.80" stroke="#333" stroke-width="0.60"/>
<text x="375.60" y="350.80" font-size="6.30" text-anchor="end" font-weight="normal" font-style="normal" fill="#111"  letter-spacing="0.3" stroke="#222" stroke-width="0.1">10<tspan dy="-1.9" font-size="4.41" letter-spacing="0.55">0</tspan></text>
<line x1="376.20" y1="397.10" x2="378.20" y2="397.10" stroke="#333" stroke-width="0.60"/>
<text x="375.60" y="400.10" font-size="6.30" text-anchor="end" font-weight="normal" font-style="normal" fill="#111"  letter-spacing="0.3" stroke="#222" stroke-width="0.1">10<tspan dy="-1.9" font-size="4.41" letter-spacing="0.55">−1</tspan></text>
<line x1="377.00" y1="422.88" x2="378.20" y2="422.88" stroke="#333" stroke-width="0.50"/>
<line x1="377.00" y1="416.72" x2="378.20" y2="416.72" stroke="#333" stroke-width="0.50"/>
<line x1="377.00" y1="411.94" x2="378.20" y2="411.94" stroke="#333" stroke-width="0.50"/>
<line x1="377.00" y1="408.04" x2="378.20" y2="408.04" stroke="#333" stroke-width="0.50"/>
<line x1="377.00" y1="404.74" x2="378.20" y2="404.74" stroke="#333" stroke-width="0.50"/>
<line x1="377.00" y1="401.88" x2="378.20" y2="401.88" stroke="#333" stroke-width="0.50"/>
<line x1="377.00" y1="399.36" x2="378.20" y2="399.36" stroke="#333" stroke-width="0.50"/>
<line x1="377.00" y1="382.26" x2="378.20" y2="382.26" stroke="#333" stroke-width="0.50"/>
<line x1="377.00" y1="373.58" x2="378.20" y2="373.58" stroke="#333" stroke-width="0.50"/>
<line x1="377.00" y1="367.42" x2="378.20" y2="367.42" stroke="#333" stroke-width="0.50"/>
<line x1="377.00" y1="362.64" x2="378.20" y2="362.64" stroke="#333" stroke-width="0.50"/>
<line x1="377.00" y1="358.74" x2="378.20" y2="358.74" stroke="#333" stroke-width="0.50"/>
<line x1="377.00" y1="355.44" x2="378.20" y2="355.44" stroke="#333" stroke-width="0.50"/>
<line x1="377.00" y1="352.58" x2="378.20" y2="352.58" stroke="#333" stroke-width="0.50"/>
<line x1="377.00" y1="350.06" x2="378.20" y2="350.06" stroke="#333" stroke-width="0.50"/>
<line x1="412.50" y1="431.30" x2="412.50" y2="433.30" stroke="#333" stroke-width="0.60"/>
<text x="413.10" y="438.80" font-size="6.30" text-anchor="middle" font-weight="normal" font-style="normal" fill="#111"  letter-spacing="0.3" stroke="#222" stroke-width="0.1">10<tspan dy="-1.9" font-size="4.41" letter-spacing="0.55">0</tspan></text>
<line x1="459.00" y1="431.30" x2="459.00" y2="433.30" stroke="#333" stroke-width="0.60"/>
<text x="459.60" y="438.80" font-size="6.30" text-anchor="middle" font-weight="normal" font-style="normal" fill="#111"  letter-spacing="0.3" stroke="#222" stroke-width="0.1">10<tspan dy="-1.9" font-size="4.41" letter-spacing="0.55">1</tspan></text>
<line x1="505.50" y1="431.30" x2="505.50" y2="433.30" stroke="#333" stroke-width="0.60"/>
<text x="506.10" y="438.80" font-size="6.30" text-anchor="middle" font-weight="normal" font-style="normal" fill="#111"  letter-spacing="0.3" stroke="#222" stroke-width="0.1">10<tspan dy="-1.9" font-size="4.41" letter-spacing="0.55">2</tspan></text>
<line x1="380.00" y1="431.30" x2="380.00" y2="432.50" stroke="#333" stroke-width="0.50"/>
<line x1="388.19" y1="431.30" x2="388.19" y2="432.50" stroke="#333" stroke-width="0.50"/>
<line x1="394.00" y1="431.30" x2="394.00" y2="432.50" stroke="#333" stroke-width="0.50"/>
<line x1="398.50" y1="431.30" x2="398.50" y2="432.50" stroke="#333" stroke-width="0.50"/>
<line x1="402.18" y1="431.30" x2="402.18" y2="432.50" stroke="#333" stroke-width="0.50"/>
<line x1="405.30" y1="431.30" x2="405.30" y2="432.50" stroke="#333" stroke-width="0.50"/>
<line x1="407.99" y1="431.30" x2="407.99" y2="432.50" stroke="#333" stroke-width="0.50"/>
<line x1="410.37" y1="431.30" x2="410.37" y2="432.50" stroke="#333" stroke-width="0.50"/>
<line x1="426.50" y1="431.30" x2="426.50" y2="432.50" stroke="#333" stroke-width="0.50"/>
<line x1="434.69" y1="431.30" x2="434.69" y2="432.50" stroke="#333" stroke-width="0.50"/>
<line x1="440.50" y1="431.30" x2="440.50" y2="432.50" stroke="#333" stroke-width="0.50"/>
<line x1="445.00" y1="431.30" x2="445.00" y2="432.50" stroke="#333" stroke-width="0.50"/>
<line x1="448.68" y1="431.30" x2="448.68" y2="432.50" stroke="#333" stroke-width="0.50"/>
<line x1="451.80" y1="431.30" x2="451.80" y2="432.50" stroke="#333" stroke-width="0.50"/>
<line x1="454.49" y1="431.30" x2="454.49" y2="432.50" stroke="#333" stroke-width="0.50"/>
<line x1="456.87" y1="431.30" x2="456.87" y2="432.50" stroke="#333" stroke-width="0.50"/>
<line x1="473.00" y1="431.30" x2="473.00" y2="432.50" stroke="#333" stroke-width="0.50"/>
<line x1="481.19" y1="431.30" x2="481.19" y2="432.50" stroke="#333" stroke-width="0.50"/>
<line x1="487.00" y1="431.30" x2="487.00" y2="432.50" stroke="#333" stroke-width="0.50"/>
<line x1="491.50" y1="431.30" x2="491.50" y2="432.50" stroke="#333" stroke-width="0.50"/>
<line x1="495.18" y1="431.30" x2="495.18" y2="432.50" stroke="#333" stroke-width="0.50"/>
<line x1="498.30" y1="431.30" x2="498.30" y2="432.50" stroke="#333" stroke-width="0.50"/>
<line x1="500.99" y1="431.30" x2="500.99" y2="432.50" stroke="#333" stroke-width="0.50"/>
<line x1="503.37" y1="431.30" x2="503.37" y2="432.50" stroke="#333" stroke-width="0.50"/>
<clipPath id="c15"><rect x="378.20" y="345.20" width="133.20" height="86.10"/></clipPath><g clip-path="url(#c15)">
<rect x="395.37" y="364.14" width="4.60" height="4.60" fill="none" stroke="#2ca02c" stroke-width="0.90"/>
<rect x="402.27" y="368.48" width="4.60" height="4.60" fill="none" stroke="#2ca02c" stroke-width="0.90"/>
<rect x="408.66" y="371.80" width="4.60" height="4.60" fill="none" stroke="#2ca02c" stroke-width="0.90"/>
<rect x="415.30" y="374.87" width="4.60" height="4.60" fill="none" stroke="#2ca02c" stroke-width="0.90"/>
<rect x="422.21" y="379.47" width="4.60" height="4.60" fill="none" stroke="#2ca02c" stroke-width="0.90"/>
<rect x="428.59" y="383.30" width="4.60" height="4.60" fill="none" stroke="#2ca02c" stroke-width="0.90"/>
<rect x="435.49" y="387.14" width="4.60" height="4.60" fill="none" stroke="#2ca02c" stroke-width="0.90"/>
<rect x="441.88" y="392.25" width="4.60" height="4.60" fill="none" stroke="#2ca02c" stroke-width="0.90"/>
<rect x="448.27" y="395.32" width="4.60" height="4.60" fill="none" stroke="#2ca02c" stroke-width="0.90"/>
<rect x="454.92" y="397.36" width="4.60" height="4.60" fill="none" stroke="#2ca02c" stroke-width="0.90"/>
<rect x="461.31" y="401.19" width="4.60" height="4.60" fill="none" stroke="#2ca02c" stroke-width="0.90"/>
<rect x="468.21" y="405.54" width="4.60" height="4.60" fill="none" stroke="#2ca02c" stroke-width="0.90"/>
<rect x="474.60" y="409.88" width="4.60" height="4.60" fill="none" stroke="#2ca02c" stroke-width="0.90"/>
<path d="M407.89 373.12 L408.34 374.51 L409.80 374.51 L408.62 375.36 L409.07 376.74 L407.89 375.89 L406.72 376.74 L407.17 375.36 L405.99 374.51 L407.44 374.51Z" fill="none" stroke="#ff7f0e" stroke-width="0.85" stroke-linejoin="miter"/>
<path d="M414.28 376.96 L414.73 378.34 L416.18 378.34 L415.01 379.19 L415.46 380.58 L414.28 379.72 L413.11 380.58 L413.56 379.19 L412.38 378.34 L413.83 378.34Z" fill="none" stroke="#ff7f0e" stroke-width="0.85" stroke-linejoin="miter"/>
<path d="M421.18 380.79 L421.63 382.17 L423.08 382.17 L421.91 383.03 L422.36 384.41 L421.18 383.56 L420.01 384.41 L420.46 383.03 L419.28 382.17 L420.73 382.17Z" fill="none" stroke="#ff7f0e" stroke-width="0.85" stroke-linejoin="miter"/>
<path d="M427.83 384.63 L428.28 386.01 L429.73 386.01 L428.55 386.86 L429.00 388.24 L427.83 387.39 L426.65 388.24 L427.10 386.86 L425.93 386.01 L427.38 386.01Z" fill="none" stroke="#ff7f0e" stroke-width="0.85" stroke-linejoin="miter"/>
<path d="M434.22 386.67 L434.67 388.05 L436.12 388.05 L434.94 388.91 L435.39 390.29 L434.22 389.43 L433.04 390.29 L433.49 388.91 L432.31 388.05 L433.77 388.05Z" fill="none" stroke="#ff7f0e" stroke-width="0.85" stroke-linejoin="miter"/>
<path d="M440.61 388.71 L441.06 390.10 L442.51 390.10 L441.33 390.95 L441.78 392.33 L440.61 391.48 L439.43 392.33 L439.88 390.95 L438.70 390.10 L440.16 390.10Z" fill="none" stroke="#ff7f0e" stroke-width="0.85" stroke-linejoin="miter"/>
<path d="M447.51 392.29 L447.96 393.67 L449.41 393.67 L448.23 394.53 L448.68 395.91 L447.51 395.06 L446.33 395.91 L446.78 394.53 L445.60 393.67 L447.06 393.67Z" fill="none" stroke="#ff7f0e" stroke-width="0.85" stroke-linejoin="miter"/>
<path d="M454.41 393.57 L454.86 394.95 L456.31 394.95 L455.13 395.81 L455.58 397.19 L454.41 396.33 L453.23 397.19 L453.68 395.81 L452.51 394.95 L453.96 394.95Z" fill="none" stroke="#ff7f0e" stroke-width="0.85" stroke-linejoin="miter"/>
<path d="M460.80 396.38 L461.25 397.76 L462.70 397.76 L461.52 398.62 L461.97 400.00 L460.80 399.15 L459.62 400.00 L460.07 398.62 L458.89 397.76 L460.35 397.76Z" fill="none" stroke="#ff7f0e" stroke-width="0.85" stroke-linejoin="miter"/>
<path d="M467.44 398.94 L467.89 400.32 L469.34 400.32 L468.17 401.17 L468.62 402.56 L467.44 401.70 L466.27 402.56 L466.71 401.17 L465.54 400.32 L466.99 400.32Z" fill="none" stroke="#ff7f0e" stroke-width="0.85" stroke-linejoin="miter"/>
<path d="M474.34 402.00 L474.79 403.39 L476.24 403.39 L475.07 404.24 L475.52 405.62 L474.34 404.77 L473.17 405.62 L473.62 404.24 L472.44 403.39 L473.89 403.39Z" fill="none" stroke="#ff7f0e" stroke-width="0.85" stroke-linejoin="miter"/>
<path d="M481.24 403.79 L481.69 405.18 L483.14 405.18 L481.97 406.03 L482.42 407.41 L481.24 406.56 L480.07 407.41 L480.52 406.03 L479.34 405.18 L480.79 405.18Z" fill="none" stroke="#ff7f0e" stroke-width="0.85" stroke-linejoin="miter"/>
<path d="M487.89 406.60 L488.34 407.99 L489.79 407.99 L488.61 408.84 L489.06 410.22 L487.89 409.37 L486.71 410.22 L487.16 408.84 L485.98 407.99 L487.44 407.99Z" fill="none" stroke="#ff7f0e" stroke-width="0.85" stroke-linejoin="miter"/>
<path d="M494.79 409.16 L495.24 410.54 L496.69 410.54 L495.51 411.40 L495.96 412.78 L494.79 411.92 L493.61 412.78 L494.06 411.40 L492.89 410.54 L494.34 410.54Z" fill="none" stroke="#ff7f0e" stroke-width="0.85" stroke-linejoin="miter"/>
<circle cx="425.27" cy="385.35" r="2.15" fill="none" stroke="#1f77b4" stroke-width="0.9"/>
<circle cx="432.17" cy="389.44" r="2.15" fill="none" stroke="#1f77b4" stroke-width="0.9"/>
<circle cx="439.07" cy="393.27" r="2.15" fill="none" stroke="#1f77b4" stroke-width="0.9"/>
<circle cx="445.72" cy="395.83" r="2.15" fill="none" stroke="#1f77b4" stroke-width="0.9"/>
<circle cx="452.11" cy="398.89" r="2.15" fill="none" stroke="#1f77b4" stroke-width="0.9"/>
<circle cx="458.50" cy="401.45" r="2.15" fill="none" stroke="#1f77b4" stroke-width="0.9"/>
<circle cx="464.89" cy="403.24" r="2.15" fill="none" stroke="#1f77b4" stroke-width="0.9"/>
<circle cx="471.27" cy="405.79" r="2.15" fill="none" stroke="#1f77b4" stroke-width="0.9"/>
<circle cx="477.66" cy="407.33" r="2.15" fill="none" stroke="#1f77b4" stroke-width="0.9"/>
<circle cx="485.33" cy="408.35" r="2.15" fill="none" stroke="#1f77b4" stroke-width="0.9"/>
<circle cx="491.72" cy="410.39" r="2.15" fill="none" stroke="#1f77b4" stroke-width="0.9"/>
<circle cx="498.62" cy="413.72" r="2.15" fill="none" stroke="#1f77b4" stroke-width="0.9"/>
<circle cx="505.01" cy="416.27" r="2.15" fill="none" stroke="#1f77b4" stroke-width="0.9"/>
<line x1="383.60" y1="349.00" x2="476.90" y2="427.50" stroke="#ff0000" stroke-width="1.80" stroke-dasharray="5.5,2.4"/>
<line x1="411.70" y1="393.00" x2="505.00" y2="412.40" stroke="#000" stroke-width="1.80" stroke-dasharray="5.5,2.4"/>
</g>
<rect x="378.20" y="345.20" width="133.20" height="86.10" fill="none" stroke="#ababab" stroke-width="1.15"/>
<text x="379.80" y="424.60" font-size="12.2" font-weight="bold" fill="#000" stroke="#000" stroke-width="0.45" letter-spacing="1.35"><tspan font-size="11.0" dy="-0.75">(</tspan><tspan dy="0.75">g'</tspan><tspan font-size="11.0" dy="-0.75">)</tspan></text>
<text x="444.80" y="448.60" font-size="10" text-anchor="middle" fill="#111">τ/<tspan font-style="italic">n</tspan><tspan dy="-3.0" font-size="6.8" font-style="italic">d</tspan><tspan dy="1.4" font-size="4.8" font-style="italic">w</tspan></text>
<text transform="translate(358.70,388.25) rotate(-90)" font-size="9.3" text-anchor="middle" fill="#111"><tspan font-style="italic">nS</tspan>(<tspan font-style="italic">n</tspan>, τ)</text>
<line x1="546.30" y1="359.70" x2="548.30" y2="359.70" stroke="#333" stroke-width="0.60"/>
<text x="545.70" y="362.70" font-size="6.30" text-anchor="end" font-weight="normal" font-style="normal" fill="#111"  letter-spacing="0.3" stroke="#222" stroke-width="0.1">10<tspan dy="-1.9" font-size="4.41" letter-spacing="0.55">1</tspan></text>
<line x1="546.30" y1="385.30" x2="548.30" y2="385.30" stroke="#333" stroke-width="0.60"/>
<text x="545.70" y="388.30" font-size="6.30" text-anchor="end" font-weight="normal" font-style="normal" fill="#111"  letter-spacing="0.3" stroke="#222" stroke-width="0.1">10<tspan dy="-1.9" font-size="4.41" letter-spacing="0.55">0</tspan></text>
<line x1="546.30" y1="410.90" x2="548.30" y2="410.90" stroke="#333" stroke-width="0.60"/>
<text x="545.70" y="413.90" font-size="6.30" text-anchor="end" font-weight="normal" font-style="normal" fill="#111"  letter-spacing="0.3" stroke="#222" stroke-width="0.1">10<tspan dy="-1.9" font-size="4.41" letter-spacing="0.55">−1</tspan></text>
<line x1="547.10" y1="428.79" x2="548.30" y2="428.79" stroke="#333" stroke-width="0.50"/>
<line x1="547.10" y1="424.29" x2="548.30" y2="424.29" stroke="#333" stroke-width="0.50"/>
<line x1="547.10" y1="421.09" x2="548.30" y2="421.09" stroke="#333" stroke-width="0.50"/>
<line x1="547.10" y1="418.61" x2="548.30" y2="418.61" stroke="#333" stroke-width="0.50"/>
<line x1="547.10" y1="416.58" x2="548.30" y2="416.58" stroke="#333" stroke-width="0.50"/>
<line x1="547.10" y1="414.87" x2="548.30" y2="414.87" stroke="#333" stroke-width="0.50"/>
<line x1="547.10" y1="413.38" x2="548.30" y2="413.38" stroke="#333" stroke-width="0.50"/>
<line x1="547.10" y1="412.07" x2="548.30" y2="412.07" stroke="#333" stroke-width="0.50"/>
<line x1="547.10" y1="403.19" x2="548.30" y2="403.19" stroke="#333" stroke-width="0.50"/>
<line x1="547.10" y1="398.69" x2="548.30" y2="398.69" stroke="#333" stroke-width="0.50"/>
<line x1="547.10" y1="395.49" x2="548.30" y2="395.49" stroke="#333" stroke-width="0.50"/>
<line x1="547.10" y1="393.01" x2="548.30" y2="393.01" stroke="#333" stroke-width="0.50"/>
<line x1="547.10" y1="390.98" x2="548.30" y2="390.98" stroke="#333" stroke-width="0.50"/>
<line x1="547.10" y1="389.27" x2="548.30" y2="389.27" stroke="#333" stroke-width="0.50"/>
<line x1="547.10" y1="387.78" x2="548.30" y2="387.78" stroke="#333" stroke-width="0.50"/>
<line x1="547.10" y1="386.47" x2="548.30" y2="386.47" stroke="#333" stroke-width="0.50"/>
<line x1="547.10" y1="377.59" x2="548.30" y2="377.59" stroke="#333" stroke-width="0.50"/>
<line x1="547.10" y1="373.09" x2="548.30" y2="373.09" stroke="#333" stroke-width="0.50"/>
<line x1="547.10" y1="369.89" x2="548.30" y2="369.89" stroke="#333" stroke-width="0.50"/>
<line x1="547.10" y1="367.41" x2="548.30" y2="367.41" stroke="#333" stroke-width="0.50"/>
<line x1="547.10" y1="365.38" x2="548.30" y2="365.38" stroke="#333" stroke-width="0.50"/>
<line x1="547.10" y1="363.67" x2="548.30" y2="363.67" stroke="#333" stroke-width="0.50"/>
<line x1="547.10" y1="362.18" x2="548.30" y2="362.18" stroke="#333" stroke-width="0.50"/>
<line x1="547.10" y1="360.87" x2="548.30" y2="360.87" stroke="#333" stroke-width="0.50"/>
<line x1="547.10" y1="351.99" x2="548.30" y2="351.99" stroke="#333" stroke-width="0.50"/>
<line x1="547.10" y1="347.49" x2="548.30" y2="347.49" stroke="#333" stroke-width="0.50"/>
<line x1="559.62" y1="431.60" x2="559.62" y2="433.60" stroke="#333" stroke-width="0.60"/>
<text x="560.22" y="439.10" font-size="6.30" text-anchor="middle" font-weight="normal" font-style="normal" fill="#111"  letter-spacing="0.3" stroke="#222" stroke-width="0.1">10<tspan dy="-1.9" font-size="4.41" letter-spacing="0.55">−2</tspan></text>
<line x1="582.56" y1="431.60" x2="582.56" y2="433.60" stroke="#333" stroke-width="0.60"/>
<text x="583.16" y="439.10" font-size="6.30" text-anchor="middle" font-weight="normal" font-style="normal" fill="#111"  letter-spacing="0.3" stroke="#222" stroke-width="0.1">10<tspan dy="-1.9" font-size="4.41" letter-spacing="0.55">−1</tspan></text>
<line x1="605.50" y1="431.60" x2="605.50" y2="433.60" stroke="#333" stroke-width="0.60"/>
<text x="606.10" y="439.10" font-size="6.30" text-anchor="middle" font-weight="normal" font-style="normal" fill="#111"  letter-spacing="0.3" stroke="#222" stroke-width="0.1">10<tspan dy="-1.9" font-size="4.41" letter-spacing="0.55">0</tspan></text>
<line x1="628.44" y1="431.60" x2="628.44" y2="433.60" stroke="#333" stroke-width="0.60"/>
<text x="629.04" y="439.10" font-size="6.30" text-anchor="middle" font-weight="normal" font-style="normal" fill="#111"  letter-spacing="0.3" stroke="#222" stroke-width="0.1">10<tspan dy="-1.9" font-size="4.41" letter-spacing="0.55">1</tspan></text>
<line x1="651.38" y1="431.60" x2="651.38" y2="433.60" stroke="#333" stroke-width="0.60"/>
<text x="651.98" y="439.10" font-size="6.30" text-anchor="middle" font-weight="normal" font-style="normal" fill="#111"  letter-spacing="0.3" stroke="#222" stroke-width="0.1">10<tspan dy="-1.9" font-size="4.41" letter-spacing="0.55">2</tspan></text>
<line x1="674.32" y1="431.60" x2="674.32" y2="433.60" stroke="#333" stroke-width="0.60"/>
<text x="674.92" y="439.10" font-size="6.30" text-anchor="middle" font-weight="normal" font-style="normal" fill="#111"  letter-spacing="0.3" stroke="#222" stroke-width="0.1">10<tspan dy="-1.9" font-size="4.41" letter-spacing="0.55">3</tspan></text>
<line x1="550.49" y1="431.60" x2="550.49" y2="432.80" stroke="#333" stroke-width="0.50"/>
<line x1="552.71" y1="431.60" x2="552.71" y2="432.80" stroke="#333" stroke-width="0.50"/>
<line x1="554.53" y1="431.60" x2="554.53" y2="432.80" stroke="#333" stroke-width="0.50"/>
<line x1="556.07" y1="431.60" x2="556.07" y2="432.80" stroke="#333" stroke-width="0.50"/>
<line x1="557.40" y1="431.60" x2="557.40" y2="432.80" stroke="#333" stroke-width="0.50"/>
<line x1="558.57" y1="431.60" x2="558.57" y2="432.80" stroke="#333" stroke-width="0.50"/>
<line x1="566.53" y1="431.60" x2="566.53" y2="432.80" stroke="#333" stroke-width="0.50"/>
<line x1="570.57" y1="431.60" x2="570.57" y2="432.80" stroke="#333" stroke-width="0.50"/>
<line x1="573.43" y1="431.60" x2="573.43" y2="432.80" stroke="#333" stroke-width="0.50"/>
<line x1="575.65" y1="431.60" x2="575.65" y2="432.80" stroke="#333" stroke-width="0.50"/>
<line x1="577.47" y1="431.60" x2="577.47" y2="432.80" stroke="#333" stroke-width="0.50"/>
<line x1="579.01" y1="431.60" x2="579.01" y2="432.80" stroke="#333" stroke-width="0.50"/>
<line x1="580.34" y1="431.60" x2="580.34" y2="432.80" stroke="#333" stroke-width="0.50"/>
<line x1="581.51" y1="431.60" x2="581.51" y2="432.80" stroke="#333" stroke-width="0.50"/>
<line x1="589.47" y1="431.60" x2="589.47" y2="432.80" stroke="#333" stroke-width="0.50"/>
<line x1="593.51" y1="431.60" x2="593.51" y2="432.80" stroke="#333" stroke-width="0.50"/>
<line x1="596.37" y1="431.60" x2="596.37" y2="432.80" stroke="#333" stroke-width="0.50"/>
<line x1="598.59" y1="431.60" x2="598.59" y2="432.80" stroke="#333" stroke-width="0.50"/>
<line x1="600.41" y1="431.60" x2="600.41" y2="432.80" stroke="#333" stroke-width="0.50"/>
<line x1="601.95" y1="431.60" x2="601.95" y2="432.80" stroke="#333" stroke-width="0.50"/>
<line x1="603.28" y1="431.60" x2="603.28" y2="432.80" stroke="#333" stroke-width="0.50"/>
<line x1="604.45" y1="431.60" x2="604.45" y2="432.80" stroke="#333" stroke-width="0.50"/>
<line x1="612.41" y1="431.60" x2="612.41" y2="432.80" stroke="#333" stroke-width="0.50"/>
<line x1="616.45" y1="431.60" x2="616.45" y2="432.80" stroke="#333" stroke-width="0.50"/>
<line x1="619.31" y1="431.60" x2="619.31" y2="432.80" stroke="#333" stroke-width="0.50"/>
<line x1="621.53" y1="431.60" x2="621.53" y2="432.80" stroke="#333" stroke-width="0.50"/>
<line x1="623.35" y1="431.60" x2="623.35" y2="432.80" stroke="#333" stroke-width="0.50"/>
<line x1="624.89" y1="431.60" x2="624.89" y2="432.80" stroke="#333" stroke-width="0.50"/>
<line x1="626.22" y1="431.60" x2="626.22" y2="432.80" stroke="#333" stroke-width="0.50"/>
<line x1="627.39" y1="431.60" x2="627.39" y2="432.80" stroke="#333" stroke-width="0.50"/>
<line x1="635.35" y1="431.60" x2="635.35" y2="432.80" stroke="#333" stroke-width="0.50"/>
<line x1="639.39" y1="431.60" x2="639.39" y2="432.80" stroke="#333" stroke-width="0.50"/>
<line x1="642.25" y1="431.60" x2="642.25" y2="432.80" stroke="#333" stroke-width="0.50"/>
<line x1="644.47" y1="431.60" x2="644.47" y2="432.80" stroke="#333" stroke-width="0.50"/>
<line x1="646.29" y1="431.60" x2="646.29" y2="432.80" stroke="#333" stroke-width="0.50"/>
<line x1="647.83" y1="431.60" x2="647.83" y2="432.80" stroke="#333" stroke-width="0.50"/>
<line x1="649.16" y1="431.60" x2="649.16" y2="432.80" stroke="#333" stroke-width="0.50"/>
<line x1="650.33" y1="431.60" x2="650.33" y2="432.80" stroke="#333" stroke-width="0.50"/>
<line x1="658.29" y1="431.60" x2="658.29" y2="432.80" stroke="#333" stroke-width="0.50"/>
<line x1="662.33" y1="431.60" x2="662.33" y2="432.80" stroke="#333" stroke-width="0.50"/>
<line x1="665.19" y1="431.60" x2="665.19" y2="432.80" stroke="#333" stroke-width="0.50"/>
<line x1="667.41" y1="431.60" x2="667.41" y2="432.80" stroke="#333" stroke-width="0.50"/>
<line x1="669.23" y1="431.60" x2="669.23" y2="432.80" stroke="#333" stroke-width="0.50"/>
<line x1="670.77" y1="431.60" x2="670.77" y2="432.80" stroke="#333" stroke-width="0.50"/>
<line x1="672.10" y1="431.60" x2="672.10" y2="432.80" stroke="#333" stroke-width="0.50"/>
<line x1="673.27" y1="431.60" x2="673.27" y2="432.80" stroke="#333" stroke-width="0.50"/>
<line x1="681.23" y1="431.60" x2="681.23" y2="432.80" stroke="#333" stroke-width="0.50"/>
<clipPath id="c16"><rect x="548.30" y="345.20" width="133.40" height="86.40"/></clipPath><g clip-path="url(#c16)">
<rect x="563.09" y="346.76" width="4.60" height="4.60" fill="none" stroke="#2ca02c" stroke-width="0.90"/>
<rect x="568.97" y="357.75" width="4.60" height="4.60" fill="none" stroke="#2ca02c" stroke-width="0.90"/>
<rect x="574.08" y="366.69" width="4.60" height="4.60" fill="none" stroke="#2ca02c" stroke-width="0.90"/>
<rect x="579.19" y="371.04" width="4.60" height="4.60" fill="none" stroke="#2ca02c" stroke-width="0.90"/>
<rect x="584.82" y="378.19" width="4.60" height="4.60" fill="none" stroke="#2ca02c" stroke-width="0.90"/>
<rect x="589.93" y="385.60" width="4.60" height="4.60" fill="none" stroke="#2ca02c" stroke-width="0.90"/>
<rect x="595.55" y="388.93" width="4.60" height="4.60" fill="none" stroke="#2ca02c" stroke-width="0.90"/>
<rect x="600.92" y="389.69" width="4.60" height="4.60" fill="none" stroke="#2ca02c" stroke-width="0.90"/>
<rect x="606.03" y="397.87" width="4.60" height="4.60" fill="none" stroke="#2ca02c" stroke-width="0.90"/>
<rect x="611.65" y="398.38" width="4.60" height="4.60" fill="none" stroke="#2ca02c" stroke-width="0.90"/>
<rect x="617.27" y="405.54" width="4.60" height="4.60" fill="none" stroke="#2ca02c" stroke-width="0.90"/>
<path d="M585.84 364.95 L586.29 366.33 L587.74 366.33 L586.56 367.18 L587.01 368.56 L585.84 367.71 L584.66 368.56 L585.11 367.18 L583.94 366.33 L585.39 366.33Z" fill="none" stroke="#ff7f0e" stroke-width="0.85" stroke-linejoin="miter"/>
<path d="M590.95 375.17 L591.40 376.55 L592.85 376.55 L591.68 377.41 L592.13 378.79 L590.95 377.93 L589.77 378.79 L590.22 377.41 L589.05 376.55 L590.50 376.55Z" fill="none" stroke="#ff7f0e" stroke-width="0.85" stroke-linejoin="miter"/>
<path d="M596.83 383.60 L597.28 384.99 L598.73 384.99 L597.55 385.84 L598.00 387.22 L596.83 386.37 L595.65 387.22 L596.10 385.84 L594.93 384.99 L596.38 384.99Z" fill="none" stroke="#ff7f0e" stroke-width="0.85" stroke-linejoin="miter"/>
<path d="M601.94 387.44 L602.39 388.82 L603.84 388.82 L602.67 389.67 L603.11 391.05 L601.94 390.20 L600.76 391.05 L601.21 389.67 L600.04 388.82 L601.49 388.82Z" fill="none" stroke="#ff7f0e" stroke-width="0.85" stroke-linejoin="miter"/>
<path d="M607.56 393.06 L608.01 394.44 L609.46 394.44 L608.29 395.30 L608.74 396.68 L607.56 395.82 L606.39 396.68 L606.84 395.30 L605.66 394.44 L607.11 394.44Z" fill="none" stroke="#ff7f0e" stroke-width="0.85" stroke-linejoin="miter"/>
<path d="M612.67 396.38 L613.12 397.76 L614.58 397.76 L613.40 398.62 L613.85 400.00 L612.67 399.15 L611.50 400.00 L611.95 398.62 L610.77 397.76 L612.22 397.76Z" fill="none" stroke="#ff7f0e" stroke-width="0.85" stroke-linejoin="miter"/>
<path d="M617.78 399.96 L618.23 401.34 L619.69 401.34 L618.51 402.20 L618.96 403.58 L617.78 402.72 L616.61 403.58 L617.06 402.20 L615.88 401.34 L617.34 401.34Z" fill="none" stroke="#ff7f0e" stroke-width="0.85" stroke-linejoin="miter"/>
<path d="M623.41 405.84 L623.86 407.22 L625.31 407.22 L624.13 408.07 L624.58 409.46 L623.41 408.60 L622.23 409.46 L622.68 408.07 L621.51 407.22 L622.96 407.22Z" fill="none" stroke="#ff7f0e" stroke-width="0.85" stroke-linejoin="miter"/>
<path d="M628.77 408.90 L629.22 410.29 L630.68 410.29 L629.50 411.14 L629.95 412.52 L628.77 411.67 L627.60 412.52 L628.05 411.14 L626.87 410.29 L628.33 410.29Z" fill="none" stroke="#ff7f0e" stroke-width="0.85" stroke-linejoin="miter"/>
<path d="M633.89 414.27 L634.33 415.65 L635.79 415.65 L634.61 416.51 L635.06 417.89 L633.89 417.04 L632.71 417.89 L633.16 416.51 L631.98 415.65 L633.44 415.65Z" fill="none" stroke="#ff7f0e" stroke-width="0.85" stroke-linejoin="miter"/>
<path d="M639.00 414.02 L639.45 415.40 L640.90 415.40 L639.72 416.25 L640.17 417.63 L639.00 416.78 L637.82 417.63 L638.27 416.25 L637.09 415.40 L638.55 415.40Z" fill="none" stroke="#ff7f0e" stroke-width="0.85" stroke-linejoin="miter"/>
<circle cx="605.77" cy="385.35" r="2.15" fill="none" stroke="#1f77b4" stroke-width="0.9"/>
<circle cx="610.88" cy="397.62" r="2.15" fill="none" stroke="#1f77b4" stroke-width="0.9"/>
<circle cx="616.51" cy="407.33" r="2.15" fill="none" stroke="#1f77b4" stroke-width="0.9"/>
<circle cx="622.38" cy="409.63" r="2.15" fill="none" stroke="#1f77b4" stroke-width="0.9"/>
<circle cx="628.01" cy="412.95" r="2.15" fill="none" stroke="#1f77b4" stroke-width="0.9"/>
<circle cx="633.12" cy="416.27" r="2.15" fill="none" stroke="#1f77b4" stroke-width="0.9"/>
<circle cx="638.23" cy="419.34" r="2.15" fill="none" stroke="#1f77b4" stroke-width="0.9"/>
<circle cx="643.34" cy="419.85" r="2.15" fill="none" stroke="#1f77b4" stroke-width="0.9"/>
<circle cx="648.45" cy="420.11" r="2.15" fill="none" stroke="#1f77b4" stroke-width="0.9"/>
<circle cx="653.56" cy="423.17" r="2.15" fill="none" stroke="#1f77b4" stroke-width="0.9"/>
<circle cx="659.19" cy="426.24" r="2.15" fill="none" stroke="#1f77b4" stroke-width="0.9"/>
<line x1="553.90" y1="349.00" x2="633.10" y2="420.60" stroke="#ff0000" stroke-width="1.80" stroke-dasharray="5.5,2.4"/>
<line x1="594.30" y1="410.40" x2="674.50" y2="427.50" stroke="#000" stroke-width="1.80" stroke-dasharray="5.5,2.4"/>
</g>
<rect x="548.30" y="345.20" width="133.40" height="86.40" fill="none" stroke="#ababab" stroke-width="1.15"/>
<text x="548.80" y="424.60" font-size="12.2" font-weight="bold" fill="#000" stroke="#000" stroke-width="0.45" letter-spacing="1.35"><tspan font-size="11.0" dy="-0.75">(</tspan><tspan dy="0.75">h'</tspan><tspan font-size="11.0" dy="-0.75">)</tspan></text>
<text x="615.00" y="448.90" font-size="10" text-anchor="middle" fill="#111">τ/<tspan font-style="italic">n</tspan><tspan dy="-3.0" font-size="6.8" font-style="italic">d</tspan><tspan dy="1.4" font-size="4.8" font-style="italic">w</tspan></text>
<text transform="translate(528.80,388.40) rotate(-90)" font-size="9.3" text-anchor="middle" fill="#111"><tspan font-style="italic">nS</tspan>(<tspan font-style="italic">n</tspan>, τ)</text>
</svg></body></html>
